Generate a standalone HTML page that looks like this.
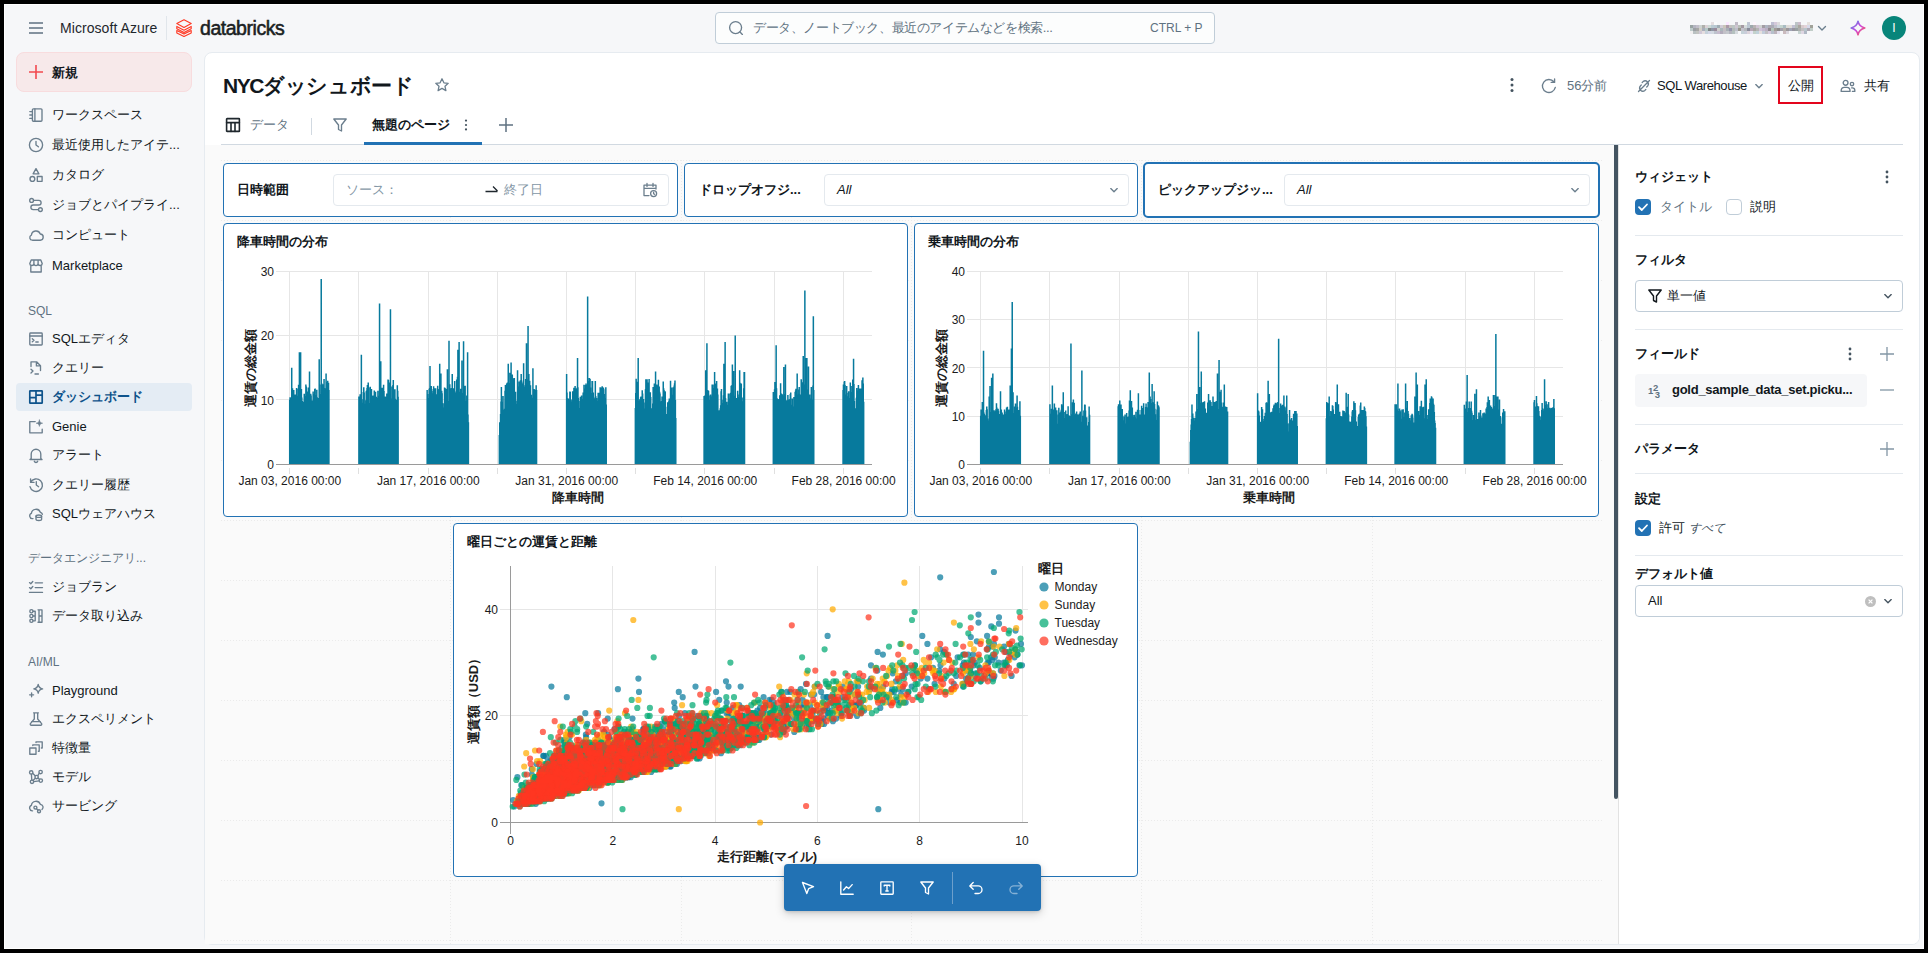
<!DOCTYPE html>
<html lang="ja">
<head>
<meta charset="utf-8">
<title>NYCダッシュボード - Databricks</title>
<style>
*{box-sizing:border-box;margin:0;padding:0}
html,body{width:1928px;height:953px;overflow:hidden;background:#000}
body{font-family:"Liberation Sans",sans-serif;font-size:13px;color:#11171c;position:relative}
#r{position:absolute;left:0;top:0;width:1928px;height:953px;overflow:hidden;background:#000}
.a{position:absolute}
.bg{left:4px;top:4px;width:1920px;height:945px;background:#f6f7f9;box-shadow:inset 0 0 0 1px #fff}
svg{display:block;overflow:visible}
.ic{position:absolute;width:16px;height:16px;fill:none;stroke:#6b7e8d;stroke-width:1.35;stroke-linecap:round;stroke-linejoin:round}
.t{position:absolute;white-space:nowrap;line-height:20px;height:20px}
.nav{font-size:13px;color:#11171c;left:52px}
.sec{font-size:12px;color:#5f7281;left:28px}
.g{color:#5f7281}
.b{font-weight:bold}
/* main */
.main{left:204px;top:52px;width:1716px;height:893px;background:#fff;border:1px solid #e6ebf0;border-radius:8px;overflow:hidden}
.canvas{left:205px;top:145px;width:1413px;height:799px;background:#fafafa}
.gridh{position:absolute;left:221px;width:1381px;height:1px;background-image:linear-gradient(90deg,#ebebeb 1px,transparent 1px);background-size:3px 1px}
.gridv{position:absolute;top:160px;width:1px;height:784px;background-image:linear-gradient(180deg,#ebebeb 1px,transparent 1px);background-size:1px 3px}
.w{position:absolute;background:#fff;border:1px solid #2272b4;border-radius:4px}
.wl{position:absolute;font-weight:bold;font-size:13px;line-height:20px;white-space:nowrap;color:#11171c}
.inp{position:absolute;border:1px solid #e4e9ee;border-radius:4px;background:#fff}
.tk{font-family:"Liberation Sans",sans-serif;font-size:12px;fill:#1b1b1b}
.ax{font-family:"Liberation Sans",sans-serif;font-size:13px;font-weight:bold;fill:#1b1b1b}
.hr{position:absolute;left:1635px;width:268px;height:1px;background:#e4e9ee}
.h{position:absolute;left:1635px;font-weight:bold;font-size:13px;line-height:20px;white-space:nowrap}
.cb{position:absolute;width:16px;height:16px;border-radius:4px}
.cb.on{background:#2272b4}
.cb.off{background:#fff;border:1px solid #c0cdd8}
.sel{position:absolute;left:1635px;width:268px;height:32px;border:1px solid #c0cdd8;border-radius:4px;background:#fff}
</style>
</head>
<body>
<div id="r">
<div class="a bg"></div>
<!-- top bar -->
<svg class="a" style="left:29px;top:22px" width="14" height="12"><path d="M0 1h14M0 6h14M0 11h14" stroke="#5f7281" stroke-width="1.6" fill="none"/></svg>
<div class="t" style="left:60px;top:18px;font-size:14px;letter-spacing:.06px;color:#1f272d">Microsoft Azure</div>
<div class="a" style="left:166px;top:16px;width:1px;height:24px;background:#e1e6eb"></div>
<svg class="a" style="left:176px;top:19px" width="16" height="18" viewBox="0 0 16 18"><path d="M.8 4.6L8 .8l7.2 3.8L8 8.4zM.8 7.4v2.4L8 13.6l7.2-3.8V7.4L8 11.2zM.8 11.6V14L8 17.4l7.2-3.4v-2.4L8 15z" fill="none" stroke="#ff3621" stroke-width="1.1" stroke-linejoin="round"/></svg>
<div class="t" id="dbx" style="left:200px;top:17px;font-size:19.5px;font-weight:normal;-webkit-text-stroke:.55px #1b1f23;letter-spacing:-.46px;color:#1b1f23;line-height:22px">databricks</div>
<div class="a" style="left:715px;top:12px;width:500px;height:32px;border:1px solid #c0cdd8;border-radius:4px;background:#fcfdfd"></div>
<svg class="ic" style="left:728px;top:20px" viewBox="0 0 16 16"><circle cx="7.6" cy="7.6" r="6"/><path d="M12 12l2.4 2.4"/></svg>
<div class="t g" style="left:753px;top:18px;font-size:13px;letter-spacing:-.4px">データ、ノートブック、最近のアイテムなどを検索...</div>
<div class="t g" style="left:1150px;top:18px;font-size:12px">CTRL + P</div>
<svg class="a" style="left:1690px;top:22px" width="123" height="12" shape-rendering="crispEdges"><rect x="21" y="0" width="3" height="3" fill="#e4dee0"/><rect x="24" y="0" width="3" height="3" fill="#fafcfc"/><rect x="36" y="0" width="3" height="3" fill="#fae7ff"/><rect x="45" y="0" width="3" height="3" fill="#c0bbc6"/><rect x="54" y="0" width="3" height="3" fill="#f4faf3"/><rect x="57" y="0" width="3" height="3" fill="#bfc6d4"/><rect x="63" y="0" width="3" height="3" fill="#fff6fd"/><rect x="81" y="0" width="3" height="3" fill="#bdbed2"/><rect x="84" y="0" width="3" height="3" fill="#d5c9da"/><rect x="87" y="0" width="3" height="3" fill="#dddbdd"/><rect x="105" y="0" width="3" height="3" fill="#bdc5c8"/><rect x="108" y="0" width="3" height="3" fill="#cabcca"/><rect x="117" y="0" width="3" height="3" fill="#e5e0dd"/><rect x="0" y="3" width="3" height="3" fill="#99a4a3"/><rect x="3" y="3" width="3" height="3" fill="#b4b5c1"/><rect x="6" y="3" width="3" height="3" fill="#c2bfca"/><rect x="9" y="3" width="3" height="3" fill="#cdd3d2"/><rect x="12" y="3" width="3" height="3" fill="#afb0ab"/><rect x="15" y="3" width="3" height="3" fill="#dad1d6"/><rect x="18" y="3" width="3" height="3" fill="#cedad6"/><rect x="21" y="3" width="3" height="3" fill="#bacbd3"/><rect x="24" y="3" width="3" height="3" fill="#b7c7d1"/><rect x="27" y="3" width="3" height="3" fill="#a1aeb5"/><rect x="30" y="3" width="3" height="3" fill="#d1cbd6"/><rect x="33" y="3" width="3" height="3" fill="#c9c5b9"/><rect x="36" y="3" width="3" height="3" fill="#ab9aa8"/><rect x="39" y="3" width="3" height="3" fill="#c3c1bf"/><rect x="42" y="3" width="3" height="3" fill="#bcc6c3"/><rect x="45" y="3" width="3" height="3" fill="#cfc6d1"/><rect x="48" y="3" width="3" height="3" fill="#b9c0ba"/><rect x="51" y="3" width="3" height="3" fill="#a49aa2"/><rect x="54" y="3" width="3" height="3" fill="#d6dbdd"/><rect x="57" y="3" width="3" height="3" fill="#bdc9d3"/><rect x="60" y="3" width="3" height="3" fill="#9ea9ac"/><rect x="63" y="3" width="3" height="3" fill="#b9b4b4"/><rect x="66" y="3" width="3" height="3" fill="#d1c4d3"/><rect x="69" y="3" width="3" height="3" fill="#d0d3d2"/><rect x="72" y="3" width="3" height="3" fill="#a39da4"/><rect x="75" y="3" width="3" height="3" fill="#aeb4c1"/><rect x="78" y="3" width="3" height="3" fill="#aca8b2"/><rect x="81" y="3" width="3" height="3" fill="#acacb6"/><rect x="84" y="3" width="3" height="3" fill="#bfc0cc"/><rect x="87" y="3" width="3" height="3" fill="#cdd5dd"/><rect x="90" y="3" width="3" height="3" fill="#c4d4ce"/><rect x="93" y="3" width="3" height="3" fill="#a8bbc2"/><rect x="96" y="3" width="3" height="3" fill="#dddbd8"/><rect x="99" y="3" width="3" height="3" fill="#e1ddd9"/><rect x="102" y="3" width="3" height="3" fill="#c1c0d3"/><rect x="105" y="3" width="3" height="3" fill="#b6bebb"/><rect x="108" y="3" width="3" height="3" fill="#a9a7a0"/><rect x="111" y="3" width="3" height="3" fill="#d8cbcd"/><rect x="114" y="3" width="3" height="3" fill="#e3d3d8"/><rect x="117" y="3" width="3" height="3" fill="#d8daeb"/><rect x="120" y="3" width="3" height="3" fill="#a1a299"/><rect x="0" y="6" width="3" height="3" fill="#becccb"/><rect x="3" y="6" width="3" height="3" fill="#9ca0a5"/><rect x="6" y="6" width="3" height="3" fill="#a6a6a5"/><rect x="9" y="6" width="3" height="3" fill="#d2cec6"/><rect x="12" y="6" width="3" height="3" fill="#a9aebc"/><rect x="15" y="6" width="3" height="3" fill="#b7c9c7"/><rect x="18" y="6" width="3" height="3" fill="#818888"/><rect x="21" y="6" width="3" height="3" fill="#9095a5"/><rect x="24" y="6" width="3" height="3" fill="#9a8a9b"/><rect x="27" y="6" width="3" height="3" fill="#cfcecc"/><rect x="30" y="6" width="3" height="3" fill="#aab7bb"/><rect x="33" y="6" width="3" height="3" fill="#c3bec3"/><rect x="36" y="6" width="3" height="3" fill="#a7afb5"/><rect x="39" y="6" width="3" height="3" fill="#9393ac"/><rect x="42" y="6" width="3" height="3" fill="#b2b9b8"/><rect x="45" y="6" width="3" height="3" fill="#bdbfca"/><rect x="48" y="6" width="3" height="3" fill="#98968d"/><rect x="51" y="6" width="3" height="3" fill="#c3c2cc"/><rect x="54" y="6" width="3" height="3" fill="#b5b9bd"/><rect x="57" y="6" width="3" height="3" fill="#898c9a"/><rect x="60" y="6" width="3" height="3" fill="#b8a8b6"/><rect x="63" y="6" width="3" height="3" fill="#a9a4a3"/><rect x="66" y="6" width="3" height="3" fill="#b4b5b3"/><rect x="69" y="6" width="3" height="3" fill="#d1c2d9"/><rect x="72" y="6" width="3" height="3" fill="#c5b7ce"/><rect x="75" y="6" width="3" height="3" fill="#baafc1"/><rect x="78" y="6" width="3" height="3" fill="#8f888e"/><rect x="81" y="6" width="3" height="3" fill="#b2c5ba"/><rect x="84" y="6" width="3" height="3" fill="#a19c98"/><rect x="87" y="6" width="3" height="3" fill="#8d8a8a"/><rect x="90" y="6" width="3" height="3" fill="#a3a1ab"/><rect x="93" y="6" width="3" height="3" fill="#b6b1ad"/><rect x="96" y="6" width="3" height="3" fill="#9c989b"/><rect x="99" y="6" width="3" height="3" fill="#a1a5b6"/><rect x="102" y="6" width="3" height="3" fill="#9895a0"/><rect x="105" y="6" width="3" height="3" fill="#99a2a3"/><rect x="108" y="6" width="3" height="3" fill="#adafae"/><rect x="111" y="6" width="3" height="3" fill="#c2bfc1"/><rect x="114" y="6" width="3" height="3" fill="#b7c5cc"/><rect x="117" y="6" width="3" height="3" fill="#aba7b2"/><rect x="120" y="6" width="3" height="3" fill="#c1cdc8"/><rect x="0" y="9" width="3" height="3" fill="#f1eff0"/><rect x="3" y="9" width="3" height="3" fill="#b9c1c2"/><rect x="6" y="9" width="3" height="3" fill="#c2c4c1"/><rect x="9" y="9" width="3" height="3" fill="#d1c8d7"/><rect x="12" y="9" width="3" height="3" fill="#e5dedf"/><rect x="15" y="9" width="3" height="3" fill="#c5d1db"/><rect x="18" y="9" width="3" height="3" fill="#d4d7e7"/><rect x="21" y="9" width="3" height="3" fill="#d3dae2"/><rect x="24" y="9" width="3" height="3" fill="#bdc3cd"/><rect x="27" y="9" width="3" height="3" fill="#c6bcce"/><rect x="30" y="9" width="3" height="3" fill="#b3acbc"/><rect x="33" y="9" width="3" height="3" fill="#c2c1c8"/><rect x="36" y="9" width="3" height="3" fill="#c5c8cd"/><rect x="39" y="9" width="3" height="3" fill="#b4b4be"/><rect x="42" y="9" width="3" height="3" fill="#b4c1bf"/><rect x="45" y="9" width="3" height="3" fill="#d6dade"/><rect x="51" y="9" width="3" height="3" fill="#c4d2d8"/><rect x="54" y="9" width="3" height="3" fill="#c9cdda"/><rect x="57" y="9" width="3" height="3" fill="#ddd4db"/><rect x="60" y="9" width="3" height="3" fill="#e8e4f4"/><rect x="63" y="9" width="3" height="3" fill="#c3d2cb"/><rect x="66" y="9" width="3" height="3" fill="#c1d2db"/><rect x="69" y="9" width="3" height="3" fill="#e5dfdd"/><rect x="72" y="9" width="3" height="3" fill="#c2cddb"/><rect x="75" y="9" width="3" height="3" fill="#c1bfc3"/><rect x="78" y="9" width="3" height="3" fill="#d8ccde"/><rect x="81" y="9" width="3" height="3" fill="#b6c0cc"/><rect x="84" y="9" width="3" height="3" fill="#bcb3bc"/><rect x="87" y="9" width="3" height="3" fill="#e4e0ee"/><rect x="93" y="9" width="3" height="3" fill="#cababe"/><rect x="96" y="9" width="3" height="3" fill="#dbd7df"/><rect x="108" y="9" width="3" height="3" fill="#c7d4d2"/><rect x="111" y="9" width="3" height="3" fill="#dfd7e3"/><rect x="114" y="9" width="3" height="3" fill="#b0b8c5"/></svg>
<svg class="ic" style="left:1814px;top:20px" viewBox="0 0 16 16"><path d="M4.5 6.5L8 10l3.5-3.5"/></svg>
<svg class="a" style="left:1850px;top:20px" width="16" height="16" viewBox="0 0 16 16"><defs><linearGradient id="sp" x1="0" y1="0" x2="1" y2="1"><stop offset="0" stop-color="#4299e0"/><stop offset=".5" stop-color="#ca42e0"/><stop offset="1" stop-color="#ff5f46"/></linearGradient></defs><path d="M8 1.2c.6 3.6 2.2 5.600000000000001 6.800000000000001 6.800000000000001-4.600000000000001 1.2-6.2 3.2-6.800000000000001 6.800000000000001C7.4 11.200000000000001 5.8 9.200000000000001 1.2 8 5.8 6.800000000000001 7.4 4.800000000000001 8 1.2z" fill="none" stroke="url(#sp)" stroke-width="1.6" stroke-linejoin="round"/></svg>
<div class="a" style="left:1882px;top:16px;width:24px;height:24px;border-radius:12px;background:#08857a;color:#fff;font-size:12px;line-height:24px;text-align:center">I</div>

<!-- sidebar -->
<div class="a" style="left:16px;top:52px;width:176px;height:40px;border-radius:8px;background:#f7e9ea;border:1px solid #f8dcde"></div>
<svg class="a" style="left:28px;top:64px" width="16" height="16" viewBox="0 0 16 16"><path d="M8 1v14M1 8h14" stroke="#f2494f" stroke-width="1.6" fill="none"/></svg>
<div class="t b" style="left:52px;top:62.5px;font-size:13px">新規</div>

<svg class="ic" style="left:28px;top:107px" viewBox="0 0 16 16"><rect x="4.4" y="1.8" width="9.6" height="12.4" rx="1"/><path d="M6.9 1.8v12.4M1.8 4.6h2.6M1.8 8h2.6M1.8 11.4h2.6"/></svg>
<div class="t nav" style="top:105px">ワークスペース</div>
<svg class="ic" style="left:28px;top:137px" viewBox="0 0 16 16"><circle cx="8" cy="8" r="6.6"/><path d="M8 4.3V8l2.4 1.8"/></svg>
<div class="t nav" style="top:135px">最近使用したアイテ...</div>
<svg class="ic" style="left:28px;top:167px" viewBox="0 0 16 16"><path d="M8 1.6l2.9 5.2H5.1z"/><circle cx="4.4" cy="11.9" r="2.4"/><rect x="9.3" y="9.5" width="4.8" height="4.8"/></svg>
<div class="t nav" style="top:165px">カタログ</div>
<svg class="ic" style="left:28px;top:197px" viewBox="0 0 16 16"><circle cx="3.6" cy="3.4" r="1.9"/><circle cx="12.4" cy="12.6" r="1.9"/><path d="M5.5 3.4h5.3a2.3 2.3 0 0 1 0 4.600000000000001H5.2a2.3 2.3 0 0 0 0 4.600000000000001h5.3"/></svg>
<div class="t nav" style="top:195px">ジョブとパイプライ...</div>
<svg class="ic" style="left:28px;top:227px" viewBox="0 0 16 16"><path d="M4.3 13.2h7.6a3.1 3.1 0 0 0 .4-6.2A4.6 4.6 0 0 0 3.400000000000001 8.2a2.6 2.6 0 0 0 .9 5z"/></svg>
<div class="t nav" style="top:225px">コンピュート</div>
<svg class="ic" style="left:28px;top:258px" viewBox="0 0 16 16"><path d="M2.8 8.4v5.6h10.4V8.4M3.2 2h9.6l1.4 3.6a2.07 2.07 0 0 1-4.13 0 2.07 2.07 0 0 1-4.14 0 2.07 2.07 0 0 1-4.13 0zM5.9 2v3.6M10.1 2v3.6"/></svg>
<div class="t nav" style="top:256px">Marketplace</div>

<div class="t sec" style="top:301px">SQL</div>
<svg class="ic" style="left:28px;top:331px" viewBox="0 0 16 16"><rect x="1.8" y="2" width="12.4" height="12" rx=".8"/><path d="M1.8 5h12.4M4.3 7.800000000000001l1.7 1.5-1.7 1.5M7.800000000000001 11h2.4"/></svg>
<div class="t nav" style="top:329px">SQLエディタ</div>
<svg class="ic" style="left:28px;top:360px" viewBox="0 0 16 16"><path d="M3 6.5V1.8h5.6l3.9 3.9v4.8M8.4 1.8v4.1h4.1M3 9.2l2 1.9-2 1.9M7 14h3.4"/></svg>
<div class="t nav" style="top:358px">クエリー</div>
<div class="a" style="left:16px;top:383px;width:176px;height:28px;border-radius:4px;background:#e4ecf4"></div>
<svg class="ic" style="left:28px;top:389px;stroke:#0e538b;stroke-width:1.7" viewBox="0 0 16 16"><rect x="1.8" y="1.8" width="12.4" height="12.4" rx=".5"/><path d="M8 1.8v12.4M1.8 8.6H8M8 6.2h6.2"/></svg>
<div class="t nav b" style="top:387px;color:#0e538b">ダッシュボード</div>
<svg class="ic" style="left:28px;top:419px" viewBox="0 0 16 16"><path d="M7.2 2.6H1.8v11.2h12.4V10.2"/><path d="M11.4 1c.35 2.1 1 2.85 3.2 3.2-2.2.35-2.85 1.100000000000001-3.2 3.2-.35-2.1-1-2.85-3.2-3.2 2.2-.35 2.85-1.100000000000001 3.2-3.2z" fill="#6b7e8d" stroke-width=".6"/></svg>
<div class="t nav" style="top:417px">Genie</div>
<svg class="ic" style="left:28px;top:447px" viewBox="0 0 16 16"><path d="M3.2 11.5V7a4.8 4.8 0 0 1 9.600000000000001 0v4.5l1.2 1H2zM6.3 14.3a1.8 1.8 0 0 0 3.4 0"/></svg>
<div class="t nav" style="top:445px">アラート</div>
<svg class="ic" style="left:28px;top:477px" viewBox="0 0 16 16"><path d="M2.6 5.2A6.3 6.3 0 1 1 2 9.6M2.6 2v3.4H6M8.3 4.6V8l2.3 1.7"/></svg>
<div class="t nav" style="top:475px">クエリー履歴</div>
<svg class="ic" style="left:28px;top:506px" viewBox="0 0 16 16"><path d="M5 12.6H4.300000000000001A2.7 2.7 0 0 1 3.400000000000001 7.4 4.6 4.6 0 0 1 12.3 6.300000000000001a3 3 0 0 1 2.1 2"/><ellipse cx="10.8" cy="10.2" rx="2.8" ry="1.2"/><path d="M8 10.2v3.1c0 .7 1.3 1.2 2.8 1.2s2.8-.5 2.8-1.2v-3.1"/></svg>
<div class="t nav" style="top:504px">SQLウェアハウス</div>

<div class="t sec" style="top:548px">データエンジニアリ...</div>
<svg class="ic" style="left:28px;top:579px" viewBox="0 0 16 16"><path d="M1.5 3.6l1.3 1.2 2-2.3M1.5 8.6l1.3 1.2 2-2.3M7.2 3.8h7.300000000000001M7.2 8.6h7.300000000000001M1.5 13.4h13"/></svg>
<div class="t nav" style="top:577px">ジョブラン</div>
<svg class="ic" style="left:28px;top:608px" viewBox="0 0 16 16"><circle cx="3.4" cy="3.2" r="1.6"/><circle cx="3.4" cy="8" r="1.6"/><circle cx="3.4" cy="12.8" r="1.6"/><path d="M5 3.2h2.2v9.600000000000001H5M5 8h2.2M10 1.8h4v12.4h-4M11 1.8v12.4M11 8h3"/></svg>
<div class="t nav" style="top:606px">データ取り込み</div>

<div class="t sec" style="top:652px">AI/ML</div>
<svg class="ic" style="left:28px;top:683px" viewBox="0 0 16 16"><path d="M10.2 1.4c.4 2.6 1.3 3.9 4.4 4.4-3.1.5-4 1.8-4.4 4.4-.4-2.6-1.3-3.9-4.4-4.4 3.1-.5 4-1.8 4.4-4.4zM3.6 9.8v4M1.6 11.8h4"/></svg>
<div class="t nav" style="top:681px">Playground</div>
<svg class="ic" style="left:28px;top:711px" viewBox="0 0 16 16"><path d="M5.6 1.8h4.8M6.300000000000001 1.8v6.2L2.4 12.600000000000001c-.4 .8 0 1.6.9 1.6h9.4c.9 0 1.3-.8.9-1.6L9.700000000000001 8V1.8M3.6 10.6h8.8"/></svg>
<div class="t nav" style="top:709px">エクスペリメント</div>
<svg class="ic" style="left:28px;top:740px" viewBox="0 0 16 16"><rect x="1.8" y="8" width="6.2" height="6.2"/><path d="M4.8 5.6V4.8h6.4v6.4h-.8M8 2.600000000000001V1.8h6.2V8h-.8"/></svg>
<div class="t nav" style="top:738px">特徴量</div>
<svg class="ic" style="left:28px;top:769px" viewBox="0 0 16 16"><circle cx="3.2" cy="3.4" r="1.7"/><circle cx="12.6" cy="3" r="1.7"/><circle cx="8.6" cy="8" r="1.7"/><circle cx="12.8" cy="11.6" r="1.7"/><circle cx="4" cy="12.8" r="1.7"/><path d="M4.6 4.2l2.6 2.6M11.3 4.2L9.8 6.6M10 9l1.6 1.6M7.300000000000001 9.2L5 11.5M3.4 5.1l.4 6M5.7 12.600000000000001l5.4-.8"/></svg>
<div class="t nav" style="top:767px">モデル</div>
<svg class="ic" style="left:28px;top:798px" viewBox="0 0 16 16"><path d="M4.6 12.8h-.4A2.8 2.8 0 0 1 3.400000000000001 7.4 4.6 4.6 0 0 1 12.3 6.300000000000001a3 3 0 0 1 1.7 5.300000000000001"/><circle cx="7.4" cy="9.6" r="1.5"/><circle cx="11" cy="13.2" r="1.5"/><path d="M8.5 10.7l1.4 1.4"/></svg>
<div class="t nav" style="top:796px">サービング</div>
<!-- main panel -->
<div class="a main"></div>
<div class="t" id="ttl" style="left:223px;top:72px;font-size:21px;line-height:28px;height:28px;font-weight:bold;color:#11171c"><span style="letter-spacing:-1.4px">NYC</span><span style="letter-spacing:-.4px">ダッシュボード</span></div>
<svg class="ic" style="left:434px;top:77px" viewBox="0 0 16 16"><path d="M8 1.8l1.9 4 4.3.5-3.2 3 .9 4.3L8 11.4l-3.9 2.200000000000001.9-4.3-3.2-3 4.3-.5z" stroke-width="1.3"/></svg>
<!-- header right -->
<svg class="a" style="left:1510px;top:77px" width="4" height="16"><circle cx="2" cy="2.500000000000001" r="1.5" fill="#44535f"/><circle cx="2" cy="8" r="1.5" fill="#44535f"/><circle cx="2" cy="13.5" r="1.5" fill="#44535f"/></svg>
<svg class="ic" style="left:1541px;top:78px" viewBox="0 0 16 16"><path d="M14.3 9.4A6.5 6.5 0 1 1 12.9 3.8M13.6 1v3.4h-3.4"/></svg>
<div class="t g" style="left:1567px;top:76px">56分前</div>
<svg class="ic" style="left:1636px;top:78px;stroke-width:1.3" viewBox="0 0 16 16"><path d="M6.2 4.5l.9-.9a3.2 3.2 0 0 1 4.5 4.5l-.9.9M9.8 11.5l-.9.9a3.2 3.2 0 0 1-4.5-4.5l.9-.9M2.5 13.5l11-11"/></svg>
<div class="t" style="left:1657px;top:76px;letter-spacing:-.4px;color:#11171c">SQL Warehouse</div>
<svg class="ic" style="left:1751px;top:78px" viewBox="0 0 16 16"><path d="M4.8 6.6L8 9.8l3.2-3.2"/></svg>
<div class="a" style="left:1778px;top:66px;width:45px;height:38px;border:2px solid #e3051d"></div>
<div class="t" style="left:1788px;top:76px">公開</div>
<svg class="ic" style="left:1840px;top:78px" viewBox="0 0 16 16"><circle cx="5.6" cy="4.8" r="2.4"/><path d="M1.2 13.4v-.8a3.2 3.2 0 0 1 3.2-3.2h2.4a3.2 3.2 0 0 1 3.2 3.2v.8z"/><circle cx="12" cy="6" r="1.7"/><path d="M11.6 9.8h.8a2.400000000000001 2.400000000000001 0 0 1 2.400000000000001 2.400000000000001v1.2h-2.400000000000001"/></svg>
<div class="t" style="left:1864px;top:76px">共有</div>
<!-- tabs -->
<svg class="ic" style="left:225px;top:117px;stroke:#1f272d;stroke-width:1.6" viewBox="0 0 16 16"><rect x="1.6" y="1.6" width="12.8" height="12.8" rx=".5"/><path d="M1.6 5.6h12.8M6 5.6v8.8M10 5.6v8.8"/></svg>
<div class="t g" style="left:250px;top:115px">データ</div>
<div class="a" style="left:311px;top:118px;width:1px;height:17px;background:#d1d9e1"></div>
<svg class="ic" style="left:332px;top:117px" viewBox="0 0 16 16"><path d="M1.8 2h12.4L9.5 8v6l-3-1.5V8z"/></svg>
<div class="t b" style="left:372px;top:115px">無題のページ</div>
<svg class="a" style="left:464px;top:119px" width="4" height="12"><circle cx="2" cy="1.6" r="1.1" fill="#44535f"/><circle cx="2" cy="6" r="1.1" fill="#44535f"/><circle cx="2" cy="10.4" r="1.1" fill="#44535f"/></svg>
<svg class="a" style="left:498px;top:117px" width="16" height="16"><path d="M8 1v14M1 8h14" stroke="#5f7281" stroke-width="1.5" fill="none"/></svg>
<div class="a" style="left:221px;top:144px;width:1682px;height:1px;background:#d1d9e1"></div>
<div class="a" style="left:364px;top:142px;width:118px;height:3px;background:#2272b4"></div>
<!-- canvas -->
<div class="a canvas"></div>
<div class="a" style="left:1614px;top:145px;width:4px;height:654px;background:#445461;border-radius:0 0 2px 2px"></div>
<div class="a" style="left:1618px;top:145px;width:301px;height:799px;background:#fff;border-left:1px solid #e2e2e2;border-radius:0 0 7px 0"></div>
<div class="gridh" style="top:160px"></div>
<div class="gridh" style="top:220px"></div>
<div class="gridh" style="top:280px"></div>
<div class="gridh" style="top:340px"></div>
<div class="gridh" style="top:400px"></div>
<div class="gridh" style="top:460px"></div>
<div class="gridh" style="top:520px"></div>
<div class="gridh" style="top:580px"></div>
<div class="gridh" style="top:640px"></div>
<div class="gridh" style="top:700px"></div>
<div class="gridh" style="top:760px"></div>
<div class="gridh" style="top:820px"></div>
<div class="gridh" style="top:880px"></div>
<div class="gridh" style="top:940px"></div>
<div class="gridv" style="left:450px"></div>
<div class="gridv" style="left:681px"></div>
<div class="gridv" style="left:911px"></div>
<div class="gridv" style="left:1141px"></div>
<div class="gridv" style="left:1372px"></div>
<!-- filter widgets -->
<div class="w" style="left:223px;top:163px;width:455px;height:54px"></div>
<div class="wl" style="left:237px;top:180px">日時範囲</div>
<div class="inp" style="left:333px;top:174px;width:336px;height:32px"></div>
<div class="t g" style="left:346px;top:180px;color:#8396a5">ソース：</div>
<svg class="a" style="left:485px;top:185px" width="13" height="8"><path d="M.5 6.5h12M8 1.5l4.500000000000001 4.500000000000001" stroke="#1f272d" stroke-width="1.3" fill="none"/></svg>
<div class="t" style="left:504px;top:180px;color:#8396a5">終了日</div>
<svg class="ic" style="left:642px;top:182px;stroke-width:1.3" viewBox="0 0 16 16"><path d="M14 7V3.2H2v10.4h5M2 6.300000000000001h12M5 1.4v3M11 1.4v3"/><circle cx="11.6" cy="11.6" r="3"/><path d="M11.6 10.2v1.5l.9.6"/></svg>
<div class="w" style="left:684px;top:163px;width:454px;height:54px"></div>
<div class="wl" style="left:699px;top:180px">ドロップオフジ...</div>
<div class="inp" style="left:824px;top:174px;width:305px;height:32px"></div>
<div class="t" style="left:837px;top:180px;font-style:italic">All</div>
<svg class="ic" style="left:1106px;top:182px" viewBox="0 0 16 16"><path d="M4.8 6.6L8 9.8l3.2-3.2"/></svg>
<div class="w" style="left:1143px;top:162px;width:457px;height:56px;border-width:2px;border-radius:5px"></div>
<div class="wl" style="left:1158px;top:180px">ピックアップジッ...</div>
<div class="inp" style="left:1284px;top:174px;width:306px;height:32px"></div>
<div class="t" style="left:1297px;top:180px;font-style:italic">All</div>
<svg class="ic" style="left:1567px;top:182px" viewBox="0 0 16 16"><path d="M4.8 6.6L8 9.8l3.2-3.2"/></svg>
<!-- chart widgets -->
<div class="w" style="left:223px;top:223px;width:685px;height:294px"></div>
<div class="wl" style="left:237px;top:232px">降車時間の分布</div>
<svg class="a" style="left:223px;top:223px" width="685" height="294">
<path d="M66 48h1v193h-1zM135 48h1v193h-1zM205 48h1v193h-1zM274 48h1v193h-1zM343 48h1v193h-1zM412 48h1v193h-1zM481 48h1v193h-1zM551 48h1v193h-1zM620 48h1v193h-1zM53 176h596v1h-596zM53 112h596v1h-596zM53 48h596v1h-596z" fill="#e6e6e6"/>
<path d="M66.70 241.0V176.8M67.10 241.0V174.3M67.51 241.0V174.7M67.91 241.0V185.7M68.32 241.0V177.9M68.72 241.0V144.7M69.13 241.0V170.5M69.53 241.0V165.3M69.93 241.0V183.0M70.34 241.0V186.0M70.74 241.0V167.1M71.15 241.0V178.5M71.55 241.0V171.5M71.96 241.0V190.5M72.36 241.0V178.9M72.76 241.0V171.6M73.17 241.0V183.5M73.57 241.0V165.1M73.98 241.0V165.8M74.38 241.0V187.1M74.79 241.0V186.6M75.19 241.0V172.7M75.59 241.0V161.7M76.00 241.0V174.7M76.40 241.0V129.2M76.81 241.0V171.7M77.21 241.0V180.6M77.62 241.0V129.2M78.02 241.0V168.3M78.42 241.0V165.9M78.83 241.0V174.6M79.23 241.0V178.0M79.64 241.0V181.6M80.04 241.0V178.8M80.44 241.0V186.4M80.85 241.0V192.4M81.25 241.0V170.7M81.66 241.0V176.4M82.06 241.0V172.9M82.47 241.0V183.1M82.87 241.0V161.5M83.27 241.0V163.5M83.68 241.0V181.9M84.08 241.0V177.4M84.49 241.0V168.4M84.89 241.0V169.5M85.30 241.0V164.6M85.70 241.0V178.3M86.10 241.0V168.8M86.51 241.0V148.5M86.91 241.0V183.6M87.32 241.0V177.3M87.72 241.0V170.7M88.13 241.0V172.4M88.53 241.0V181.0M88.93 241.0V177.6M89.34 241.0V190.2M89.74 241.0V183.6M90.15 241.0V168.4M90.55 241.0V176.8M90.96 241.0V181.6M91.36 241.0V171.0M91.76 241.0V166.0M92.17 241.0V165.5M92.57 241.0V173.2M92.98 241.0V172.8M93.38 241.0V172.2M93.79 241.0V166.7M94.19 241.0V174.3M94.59 241.0V177.6M95.00 241.0V175.0M95.40 241.0V186.2M95.81 241.0V185.6M96.21 241.0V136.3M96.62 241.0V161.6M97.02 241.0V171.1M97.42 241.0V175.8M97.83 241.0V181.1M98.23 241.0V56.0M98.64 241.0V160.3M99.04 241.0V165.3M99.45 241.0V170.4M99.85 241.0V161.3M100.25 241.0V176.0M100.66 241.0V167.9M101.06 241.0V155.9M101.47 241.0V164.9M101.87 241.0V167.9M102.27 241.0V172.8M102.68 241.0V165.8M103.08 241.0V150.4M103.49 241.0V179.6M103.89 241.0V160.1M104.30 241.0V159.3M104.70 241.0V157.7M105.10 241.0V161.4M105.51 241.0V159.7M105.91 241.0V167.0M135.93 241.0V173.6M136.33 241.0V183.1M136.74 241.0V192.0M137.14 241.0V171.3M137.55 241.0V178.5M137.95 241.0V187.5M138.36 241.0V131.8M138.76 241.0V179.7M139.16 241.0V182.5M139.57 241.0V182.5M139.97 241.0V176.2M140.38 241.0V169.1M140.78 241.0V164.3M141.19 241.0V169.4M141.59 241.0V183.0M141.99 241.0V180.7M142.40 241.0V184.8M142.80 241.0V177.3M143.21 241.0V168.3M143.61 241.0V167.4M144.02 241.0V164.9M144.42 241.0V161.9M144.82 241.0V173.6M145.23 241.0V159.6M145.63 241.0V164.5M146.04 241.0V179.9M146.44 241.0V182.2M146.85 241.0V182.8M147.25 241.0V163.8M147.65 241.0V176.1M148.06 241.0V179.2M148.46 241.0V165.9M148.87 241.0V173.0M149.27 241.0V181.2M149.67 241.0V180.3M150.08 241.0V172.4M150.48 241.0V182.7M150.89 241.0V180.2M151.29 241.0V167.6M151.70 241.0V172.5M152.10 241.0V174.2M152.50 241.0V168.8M152.91 241.0V180.6M153.31 241.0V173.7M153.72 241.0V175.1M154.12 241.0V183.2M154.53 241.0V187.4M154.93 241.0V167.8M155.33 241.0V176.8M155.74 241.0V183.6M156.14 241.0V172.8M156.55 241.0V80.4M156.95 241.0V185.9M157.36 241.0V185.2M157.76 241.0V138.2M158.16 241.0V166.0M158.57 241.0V179.3M158.97 241.0V164.8M159.38 241.0V164.7M159.78 241.0V168.5M160.19 241.0V178.6M160.59 241.0V161.7M160.99 241.0V168.1M161.40 241.0V177.1M161.80 241.0V184.9M162.21 241.0V173.6M162.61 241.0V179.3M163.02 241.0V174.1M163.42 241.0V179.8M163.82 241.0V170.6M164.23 241.0V183.1M164.63 241.0V175.2M165.04 241.0V156.6M165.44 241.0V157.1M165.85 241.0V172.0M166.25 241.0V159.4M166.65 241.0V174.4M167.06 241.0V159.9M167.46 241.0V86.2M167.87 241.0V175.4M168.27 241.0V180.8M168.68 241.0V186.7M169.08 241.0V163.5M169.48 241.0V183.1M169.89 241.0V162.1M170.29 241.0V157.0M170.70 241.0V168.1M171.10 241.0V180.8M171.50 241.0V166.2M171.91 241.0V166.3M172.31 241.0V175.8M172.72 241.0V179.0M173.12 241.0V179.1M173.53 241.0V176.7M173.93 241.0V177.1M174.33 241.0V162.2M174.74 241.0V167.8M175.14 241.0V173.8M204.17 241.0V167.1M204.58 241.0V171.0M204.98 241.0V180.3M205.39 241.0V175.2M205.79 241.0V179.5M206.20 241.0V165.9M206.60 241.0V165.1M207.00 241.0V143.0M207.41 241.0V182.7M207.81 241.0V179.5M208.22 241.0V163.0M208.62 241.0V168.1M209.03 241.0V179.2M209.43 241.0V182.1M209.83 241.0V170.3M210.24 241.0V166.0M210.64 241.0V163.3M211.05 241.0V177.8M211.45 241.0V165.2M211.85 241.0V171.0M212.26 241.0V177.0M212.66 241.0V165.3M213.07 241.0V185.0M213.47 241.0V171.3M213.88 241.0V186.1M214.28 241.0V182.6M214.68 241.0V162.7M215.09 241.0V179.3M215.49 241.0V166.4M215.90 241.0V171.2M216.30 241.0V165.9M216.71 241.0V140.8M217.11 241.0V180.0M217.51 241.0V182.1M217.92 241.0V150.4M218.32 241.0V175.8M218.73 241.0V167.8M219.13 241.0V170.3M219.54 241.0V189.9M219.94 241.0V180.3M220.34 241.0V188.4M220.75 241.0V186.9M221.15 241.0V184.5M221.56 241.0V164.5M221.96 241.0V166.3M222.37 241.0V165.2M222.77 241.0V177.3M223.17 241.0V170.3M223.58 241.0V166.0M223.98 241.0V175.9M224.39 241.0V146.3M224.79 241.0V179.5M225.20 241.0V183.0M225.60 241.0V178.2M226.00 241.0V117.7M226.41 241.0V170.5M226.81 241.0V161.3M227.22 241.0V173.3M227.62 241.0V178.2M228.03 241.0V165.7M228.43 241.0V165.0M228.83 241.0V185.8M229.24 241.0V151.1M229.64 241.0V184.5M230.05 241.0V184.2M230.45 241.0V165.2M230.86 241.0V186.3M231.26 241.0V179.0M231.66 241.0V158.0M232.07 241.0V169.9M232.47 241.0V175.2M232.88 241.0V171.6M233.28 241.0V168.4M233.68 241.0V156.5M234.09 241.0V173.2M234.49 241.0V153.7M234.90 241.0V126.7M235.30 241.0V153.6M235.71 241.0V155.9M236.11 241.0V119.0M236.51 241.0V173.7M236.92 241.0V168.8M237.32 241.0V178.9M237.73 241.0V165.7M238.13 241.0V181.6M238.54 241.0V182.9M238.94 241.0V137.6M239.34 241.0V177.0M239.75 241.0V170.0M240.15 241.0V174.3M240.56 241.0V118.3M240.96 241.0V185.1M241.37 241.0V164.4M241.77 241.0V163.2M242.17 241.0V162.7M242.58 241.0V183.7M242.98 241.0V184.2M243.39 241.0V177.8M243.79 241.0V172.5M244.20 241.0V187.1M244.60 241.0V129.2M245.00 241.0V191.5M245.41 241.0V199.2M276.36 241.0V212.1M276.77 241.0V199.2M277.17 241.0V199.2M277.57 241.0V191.1M277.98 241.0V178.5M278.38 241.0V164.1M278.79 241.0V180.7M279.19 241.0V178.7M279.60 241.0V180.1M280.00 241.0V172.9M280.40 241.0V187.0M280.81 241.0V189.3M281.21 241.0V189.1M281.62 241.0V185.7M282.02 241.0V167.8M282.43 241.0V162.0M282.83 241.0V172.2M283.23 241.0V166.8M283.64 241.0V161.1M284.04 241.0V160.1M284.45 241.0V159.6M284.85 241.0V168.2M285.26 241.0V140.8M285.66 241.0V168.0M286.06 241.0V172.2M286.47 241.0V160.1M286.87 241.0V149.8M287.28 241.0V171.8M287.68 241.0V157.6M288.09 241.0V139.5M288.49 241.0V153.4M288.89 241.0V160.8M289.30 241.0V151.4M289.70 241.0V169.1M290.11 241.0V161.5M290.51 241.0V155.2M290.92 241.0V174.2M291.32 241.0V155.0M291.72 241.0V179.3M292.13 241.0V169.1M292.53 241.0V168.7M292.94 241.0V177.7M293.34 241.0V191.1M293.75 241.0V193.8M294.15 241.0V181.0M294.55 241.0V147.2M294.96 241.0V181.2M295.36 241.0V163.6M295.77 241.0V179.8M296.17 241.0V158.4M296.57 241.0V179.9M296.98 241.0V172.4M297.38 241.0V157.2M297.79 241.0V159.3M298.19 241.0V151.1M298.60 241.0V157.5M299.00 241.0V159.4M299.40 241.0V161.2M299.81 241.0V174.4M300.21 241.0V168.5M300.62 241.0V140.2M301.02 241.0V162.3M301.43 241.0V163.9M301.83 241.0V174.8M302.23 241.0V179.3M302.64 241.0V156.1M303.04 241.0V159.4M303.45 241.0V120.2M303.85 241.0V164.8M304.26 241.0V156.4M304.66 241.0V165.7M305.06 241.0V102.9M305.47 241.0V167.4M305.87 241.0V151.1M306.28 241.0V174.0M306.68 241.0V157.7M307.09 241.0V163.9M307.49 241.0V162.2M307.89 241.0V177.0M308.30 241.0V171.8M308.70 241.0V177.8M309.11 241.0V178.1M309.51 241.0V174.8M309.92 241.0V145.3M310.32 241.0V171.3M310.72 241.0V171.2M311.13 241.0V165.9M311.53 241.0V175.4M311.94 241.0V180.9M312.34 241.0V167.0M312.75 241.0V166.8M313.15 241.0V162.2M313.55 241.0V167.1M343.62 241.0V151.1M344.02 241.0V169.4M344.43 241.0V181.7M344.83 241.0V175.3M345.24 241.0V175.7M345.64 241.0V182.2M346.05 241.0V178.8M346.45 241.0V176.4M346.85 241.0V168.5M347.26 241.0V168.8M347.66 241.0V185.4M348.07 241.0V176.6M348.47 241.0V192.2M348.88 241.0V190.8M349.28 241.0V178.6M349.68 241.0V168.3M350.09 241.0V185.1M350.49 241.0V168.8M350.90 241.0V164.7M351.30 241.0V177.9M351.71 241.0V167.5M352.11 241.0V163.1M352.51 241.0V174.5M352.92 241.0V165.7M353.32 241.0V165.6M353.73 241.0V170.2M354.13 241.0V164.7M354.54 241.0V135.0M354.94 241.0V164.2M355.34 241.0V175.0M355.75 241.0V186.0M356.15 241.0V184.9M356.56 241.0V186.2M356.96 241.0V178.0M357.36 241.0V173.8M357.77 241.0V190.8M358.17 241.0V174.3M358.58 241.0V172.6M358.98 241.0V181.1M359.39 241.0V176.1M359.79 241.0V184.2M360.19 241.0V169.4M360.60 241.0V186.0M361.00 241.0V161.8M361.41 241.0V165.5M361.81 241.0V169.7M362.22 241.0V178.5M362.62 241.0V162.1M363.02 241.0V160.6M363.43 241.0V180.9M363.83 241.0V164.4M364.24 241.0V162.2M364.64 241.0V73.4M365.05 241.0V164.7M365.45 241.0V170.6M365.85 241.0V157.9M366.26 241.0V155.0M366.66 241.0V168.0M367.07 241.0V155.7M367.47 241.0V164.6M367.88 241.0V172.6M368.28 241.0V169.9M368.68 241.0V176.2M369.09 241.0V157.9M369.49 241.0V158.0M369.90 241.0V180.4M370.30 241.0V169.6M370.71 241.0V175.8M371.11 241.0V184.3M371.51 241.0V177.4M371.92 241.0V174.6M372.32 241.0V158.0M372.73 241.0V173.1M373.13 241.0V174.8M373.54 241.0V174.9M373.94 241.0V191.7M374.34 241.0V179.4M374.75 241.0V177.7M375.15 241.0V169.7M375.56 241.0V183.1M375.96 241.0V178.8M376.37 241.0V169.8M376.77 241.0V174.1M377.17 241.0V164.2M377.58 241.0V174.4M377.98 241.0V165.4M378.39 241.0V164.5M378.79 241.0V165.9M379.19 241.0V163.2M379.60 241.0V173.4M380.00 241.0V174.2M380.41 241.0V164.6M380.81 241.0V166.3M381.22 241.0V170.9M381.62 241.0V175.3M382.02 241.0V177.4M382.43 241.0V181.8M382.83 241.0V164.2M383.24 241.0V181.5M412.36 241.0V185.1M412.76 241.0V169.9M413.17 241.0V155.8M413.57 241.0V162.4M413.97 241.0V158.7M414.38 241.0V181.2M414.78 241.0V173.7M415.19 241.0V135.0M415.59 241.0V181.6M416.00 241.0V178.4M416.40 241.0V182.7M416.80 241.0V176.3M417.21 241.0V187.4M417.61 241.0V174.3M418.02 241.0V173.6M418.42 241.0V177.9M418.83 241.0V176.2M419.23 241.0V167.2M419.63 241.0V170.4M420.04 241.0V177.2M420.44 241.0V176.0M420.85 241.0V185.4M421.25 241.0V192.0M421.65 241.0V191.7M422.06 241.0V179.6M422.46 241.0V166.3M422.87 241.0V156.3M423.27 241.0V158.5M423.68 241.0V167.3M424.08 241.0V156.3M424.48 241.0V169.3M424.89 241.0V159.4M425.29 241.0V169.6M425.70 241.0V160.8M426.10 241.0V156.0M426.51 241.0V174.4M426.91 241.0V179.1M427.31 241.0V169.2M427.72 241.0V174.0M428.12 241.0V186.2M428.53 241.0V199.2M428.93 241.0V191.3M429.34 241.0V185.1M429.74 241.0V180.4M430.14 241.0V164.1M430.55 241.0V170.1M430.95 241.0V165.4M431.36 241.0V160.4M431.76 241.0V163.2M432.17 241.0V168.7M432.57 241.0V148.5M432.97 241.0V163.2M433.38 241.0V162.0M433.78 241.0V161.6M434.19 241.0V166.9M434.59 241.0V162.4M435.00 241.0V163.4M435.40 241.0V156.8M435.80 241.0V162.9M436.21 241.0V164.1M436.61 241.0V168.8M437.02 241.0V170.4M437.42 241.0V178.4M437.83 241.0V185.8M438.23 241.0V188.4M438.63 241.0V177.9M439.04 241.0V173.4M439.44 241.0V176.4M439.85 241.0V180.9M440.25 241.0V158.6M440.66 241.0V165.2M441.06 241.0V166.9M441.46 241.0V178.7M441.87 241.0V168.3M442.27 241.0V168.6M442.68 241.0V183.8M443.08 241.0V192.7M443.49 241.0V190.9M443.89 241.0V199.2M444.29 241.0V191.7M444.70 241.0V179.3M445.10 241.0V184.3M445.51 241.0V189.2M445.91 241.0V177.7M446.31 241.0V175.4M446.72 241.0V181.0M447.12 241.0V176.7M447.53 241.0V157.8M447.93 241.0V175.0M448.34 241.0V181.6M448.74 241.0V164.4M449.14 241.0V173.8M449.55 241.0V177.4M449.95 241.0V171.8M450.36 241.0V164.2M450.76 241.0V176.5M451.17 241.0V162.4M451.57 241.0V160.2M451.97 241.0V157.6M452.38 241.0V177.1M452.78 241.0V194.9M481.09 241.0V172.9M481.50 241.0V178.8M481.90 241.0V188.0M482.31 241.0V171.9M482.71 241.0V147.2M483.12 241.0V182.2M483.52 241.0V184.3M483.92 241.0V120.2M484.33 241.0V171.0M484.73 241.0V167.0M485.14 241.0V187.4M485.54 241.0V167.8M485.95 241.0V176.8M486.35 241.0V184.6M486.75 241.0V181.3M487.16 241.0V172.6M487.56 241.0V171.6M487.97 241.0V186.2M488.37 241.0V173.5M488.77 241.0V183.2M489.18 241.0V161.6M489.58 241.0V174.0M489.99 241.0V161.4M490.39 241.0V165.2M490.80 241.0V167.4M491.20 241.0V175.1M491.60 241.0V149.1M492.01 241.0V176.5M492.41 241.0V175.7M492.82 241.0V160.4M493.22 241.0V168.4M493.63 241.0V157.9M494.03 241.0V171.8M494.43 241.0V165.6M494.84 241.0V171.4M495.24 241.0V187.5M495.65 241.0V198.3M496.05 241.0V193.0M496.46 241.0V187.2M496.86 241.0V193.6M497.26 241.0V185.2M497.67 241.0V182.2M498.07 241.0V168.3M498.48 241.0V165.9M498.88 241.0V187.7M499.29 241.0V197.1M499.69 241.0V180.3M500.09 241.0V176.7M500.50 241.0V172.2M500.90 241.0V140.8M501.31 241.0V186.2M501.71 241.0V173.0M502.12 241.0V119.0M502.52 241.0V175.0M502.92 241.0V189.2M503.33 241.0V180.9M503.73 241.0V178.7M504.14 241.0V181.8M504.54 241.0V187.2M504.95 241.0V185.6M505.35 241.0V170.4M505.75 241.0V179.0M506.16 241.0V175.6M506.56 241.0V184.5M506.97 241.0V170.5M507.37 241.0V178.0M507.78 241.0V169.8M508.18 241.0V163.1M508.58 241.0V162.2M508.99 241.0V187.2M509.39 241.0V141.4M509.80 241.0V169.4M510.20 241.0V184.1M510.60 241.0V147.9M511.01 241.0V180.1M511.41 241.0V172.8M511.82 241.0V187.1M512.22 241.0V112.5M512.63 241.0V180.6M513.03 241.0V197.0M513.43 241.0V174.9M513.84 241.0V192.9M514.24 241.0V185.1M514.65 241.0V167.8M515.05 241.0V182.7M515.46 241.0V174.3M515.86 241.0V180.2M516.26 241.0V171.5M516.67 241.0V147.2M517.07 241.0V159.8M517.48 241.0V181.3M517.88 241.0V180.3M518.29 241.0V160.4M518.69 241.0V180.2M519.09 241.0V174.4M519.50 241.0V178.3M519.90 241.0V179.0M520.31 241.0V180.6M520.71 241.0V165.3M521.12 241.0V149.1M521.52 241.0V149.1M550.32 241.0V169.1M550.73 241.0V169.6M551.13 241.0V173.0M551.54 241.0V166.2M551.94 241.0V159.0M552.35 241.0V168.6M552.75 241.0V179.9M553.15 241.0V122.2M553.56 241.0V165.2M553.96 241.0V175.1M554.37 241.0V182.2M554.77 241.0V176.1M555.18 241.0V177.5M555.58 241.0V176.6M555.98 241.0V185.7M556.39 241.0V176.0M556.79 241.0V172.2M557.20 241.0V175.2M557.60 241.0V160.2M558.00 241.0V174.1M558.41 241.0V170.6M558.81 241.0V171.3M559.22 241.0V171.2M559.62 241.0V172.5M560.03 241.0V172.4M560.43 241.0V185.6M560.83 241.0V144.0M561.24 241.0V189.5M561.64 241.0V170.9M562.05 241.0V173.2M562.45 241.0V141.4M562.86 241.0V194.7M563.26 241.0V194.4M563.66 241.0V177.3M564.07 241.0V190.1M564.47 241.0V190.6M564.88 241.0V172.1M565.28 241.0V192.7M565.69 241.0V177.4M566.09 241.0V176.5M566.49 241.0V181.4M566.90 241.0V176.1M567.30 241.0V171.0M567.71 241.0V169.5M568.11 241.0V193.6M568.52 241.0V181.8M568.92 241.0V193.5M569.32 241.0V175.5M569.73 241.0V192.6M570.13 241.0V193.1M570.54 241.0V183.5M570.94 241.0V174.0M571.35 241.0V183.4M571.75 241.0V186.7M572.15 241.0V168.9M572.56 241.0V167.4M572.96 241.0V165.8M573.37 241.0V179.1M573.77 241.0V175.7M574.18 241.0V150.4M574.58 241.0V171.5M574.98 241.0V176.7M575.39 241.0V176.1M575.79 241.0V166.4M576.20 241.0V164.0M576.60 241.0V175.3M577.01 241.0V188.4M577.41 241.0V171.4M577.81 241.0V173.1M578.22 241.0V156.3M578.62 241.0V161.6M579.03 241.0V159.2M579.43 241.0V163.1M579.83 241.0V167.8M580.24 241.0V133.1M580.64 241.0V161.4M581.05 241.0V175.5M581.45 241.0V179.3M581.86 241.0V67.6M582.26 241.0V171.3M582.66 241.0V135.0M583.07 241.0V176.7M583.47 241.0V171.5M583.88 241.0V135.0M584.28 241.0V166.6M584.69 241.0V171.2M585.09 241.0V180.4M585.49 241.0V143.4M585.90 241.0V181.2M586.30 241.0V182.7M586.71 241.0V171.5M587.11 241.0V177.0M587.52 241.0V175.6M587.92 241.0V184.3M588.32 241.0V164.0M588.73 241.0V177.7M589.13 241.0V176.6M589.54 241.0V183.7M589.94 241.0V162.4M590.35 241.0V93.3M590.75 241.0V167.0M620.05 241.0V167.1M620.45 241.0V161.5M620.86 241.0V163.4M621.26 241.0V158.7M621.66 241.0V157.9M622.07 241.0V162.0M622.47 241.0V179.7M622.88 241.0V171.5M623.28 241.0V171.8M623.69 241.0V162.9M624.09 241.0V169.7M624.49 241.0V173.3M624.90 241.0V173.8M625.30 241.0V183.3M625.71 241.0V168.3M626.11 241.0V175.2M626.52 241.0V180.4M626.92 241.0V175.6M627.32 241.0V159.6M627.73 241.0V169.3M628.13 241.0V177.6M628.54 241.0V177.3M628.94 241.0V163.0M629.34 241.0V165.4M629.75 241.0V156.6M630.15 241.0V174.7M630.56 241.0V135.7M630.96 241.0V161.1M631.37 241.0V178.1M631.77 241.0V186.4M632.17 241.0V185.2M632.58 241.0V192.4M632.98 241.0V187.1M633.39 241.0V174.7M633.79 241.0V165.1M634.20 241.0V167.5M634.60 241.0V179.3M635.00 241.0V180.5M635.41 241.0V162.1M635.81 241.0V168.3M636.22 241.0V181.2M636.62 241.0V165.4M637.03 241.0V188.0M637.43 241.0V179.7M637.83 241.0V165.4M638.24 241.0V166.5M638.64 241.0V174.9M639.05 241.0V157.2M639.45 241.0V161.9M639.86 241.0V154.6M640.26 241.0V160.5M640.66 241.0V178.8" stroke="#077a9d" stroke-width="1.5" fill="none"/>
<path d="M53 241h596v1h-596z" fill="#9a9a9a"/>
<path d="M66 245h1v6h-1zM135 245h1v6h-1zM205 245h1v6h-1zM274 245h1v6h-1zM343 245h1v6h-1zM412 245h1v6h-1zM481 245h1v6h-1zM551 245h1v6h-1zM620 245h1v6h-1z" fill="#e0e0e0"/>
<text x="51.0" y="245.9" text-anchor="end" class="tk">0</text>
<text x="51.0" y="181.7" text-anchor="end" class="tk">10</text>
<text x="51.0" y="117.4" text-anchor="end" class="tk">20</text>
<text x="51.0" y="53.2" text-anchor="end" class="tk">30</text>
<text x="66.8" y="262.1" text-anchor="middle" class="tk">Jan 03, 2016 00:00</text>
<text x="205.3" y="262.1" text-anchor="middle" class="tk">Jan 17, 2016 00:00</text>
<text x="343.7" y="262.1" text-anchor="middle" class="tk">Jan 31, 2016 00:00</text>
<text x="482.2" y="262.1" text-anchor="middle" class="tk">Feb 14, 2016 00:00</text>
<text x="620.6" y="262.1" text-anchor="middle" class="tk">Feb 28, 2016 00:00</text>
<text x="354.8" y="278.5" text-anchor="middle" class="ax">降車時間</text>
<text transform="translate(31.8 144.5) rotate(-90)" text-anchor="middle" class="ax">運賃の総金額</text>
</svg>
<div class="w" style="left:914px;top:223px;width:685px;height:294px"></div>
<div class="wl" style="left:928px;top:232px">乗車時間の分布</div>
<svg class="a" style="left:914px;top:223px" width="685" height="294">
<path d="M66 48h1v193h-1zM135 48h1v193h-1zM205 48h1v193h-1zM274 48h1v193h-1zM343 48h1v193h-1zM412 48h1v193h-1zM481 48h1v193h-1zM551 48h1v193h-1zM620 48h1v193h-1zM53 193h596v1h-596zM53 144h596v1h-596zM53 96h596v1h-596zM53 48h596v1h-596z" fill="#e6e6e6"/>
<path d="M66.70 241.0V192.8M67.10 241.0V186.6M67.51 241.0V199.5M67.91 241.0V195.2M68.32 241.0V179.1M68.72 241.0V182.5M69.13 241.0V185.2M69.53 241.0V127.8M69.93 241.0V189.4M70.34 241.0V190.9M70.74 241.0V192.2M71.15 241.0V199.1M71.55 241.0V193.0M71.96 241.0V192.6M72.36 241.0V187.0M72.76 241.0V183.6M73.17 241.0V186.2M73.57 241.0V195.5M73.98 241.0V197.5M74.38 241.0V200.8M74.79 241.0V205.2M75.19 241.0V173.6M75.59 241.0V197.1M76.00 241.0V163.0M76.40 241.0V198.7M76.81 241.0V189.1M77.21 241.0V196.0M77.62 241.0V154.8M78.02 241.0V201.4M78.42 241.0V205.4M78.83 241.0V150.4M79.23 241.0V203.3M79.64 241.0V196.2M80.04 241.0V187.3M80.44 241.0V197.0M80.85 241.0V204.5M81.25 241.0V188.4M81.66 241.0V187.6M82.06 241.0V186.1M82.47 241.0V180.2M82.87 241.0V184.6M83.27 241.0V185.8M83.68 241.0V195.8M84.08 241.0V185.8M84.49 241.0V187.7M84.89 241.0V202.5M85.30 241.0V191.1M85.70 241.0V191.5M86.10 241.0V196.0M86.51 241.0V168.3M86.91 241.0V194.9M87.32 241.0V186.5M87.72 241.0V194.1M88.13 241.0V189.4M88.53 241.0V201.1M88.93 241.0V193.4M89.34 241.0V191.5M89.74 241.0V198.2M90.15 241.0V194.6M90.55 241.0V186.4M90.96 241.0V188.5M91.36 241.0V191.4M91.76 241.0V194.7M92.17 241.0V191.2M92.57 241.0V184.5M92.98 241.0V196.1M93.38 241.0V183.7M93.79 241.0V197.3M94.19 241.0V186.8M94.59 241.0V198.6M95.00 241.0V186.6M95.40 241.0V191.4M95.81 241.0V195.3M96.21 241.0V162.5M96.62 241.0V192.7M97.02 241.0V194.0M97.42 241.0V125.4M97.83 241.0V201.3M98.23 241.0V79.1M98.64 241.0V187.9M99.04 241.0V169.2M99.45 241.0V204.2M99.85 241.0V190.3M100.25 241.0V191.8M100.66 241.0V183.5M101.06 241.0V192.0M101.47 241.0V180.5M101.87 241.0V194.5M102.27 241.0V184.5M102.68 241.0V192.8M103.08 241.0V172.6M103.49 241.0V183.7M103.89 241.0V199.3M104.30 241.0V192.6M104.70 241.0V187.1M105.10 241.0V195.8M105.51 241.0V193.7M105.91 241.0V178.3M106.32 241.0V192.8M135.93 241.0V181.3M136.33 241.0V196.5M136.74 241.0V190.8M137.14 241.0V194.8M137.55 241.0V185.8M137.95 241.0V197.3M138.36 241.0V162.5M138.76 241.0V199.3M139.16 241.0V186.5M139.57 241.0V200.3M139.97 241.0V195.2M140.38 241.0V180.6M140.78 241.0V188.8M141.19 241.0V190.4M141.59 241.0V184.6M141.99 241.0V194.0M142.40 241.0V203.8M142.80 241.0V187.3M143.21 241.0V204.4M143.61 241.0V207.8M144.02 241.0V200.7M144.42 241.0V191.4M144.82 241.0V184.8M145.23 241.0V192.4M145.63 241.0V189.6M146.04 241.0V198.0M146.44 241.0V192.8M146.85 241.0V188.6M147.25 241.0V186.7M147.65 241.0V181.3M148.06 241.0V183.9M148.46 241.0V182.6M148.87 241.0V186.2M149.27 241.0V169.2M149.67 241.0V196.5M150.08 241.0V189.0M150.48 241.0V196.1M150.89 241.0V200.8M151.29 241.0V194.9M151.70 241.0V187.5M152.10 241.0V200.7M152.50 241.0V191.4M152.91 241.0V194.2M153.31 241.0V191.1M153.72 241.0V197.5M154.12 241.0V183.3M154.53 241.0V197.7M154.93 241.0V192.3M155.33 241.0V197.0M155.74 241.0V205.0M156.14 241.0V192.9M156.55 241.0V198.7M156.95 241.0V120.6M157.36 241.0V196.6M157.76 241.0V192.2M158.16 241.0V191.3M158.57 241.0V179.2M158.97 241.0V183.3M159.38 241.0V176.4M159.78 241.0V179.5M160.19 241.0V180.1M160.59 241.0V195.1M160.99 241.0V191.7M161.40 241.0V196.0M161.80 241.0V190.5M162.21 241.0V190.9M162.61 241.0V188.5M163.02 241.0V191.2M163.42 241.0V200.7M163.82 241.0V196.0M164.23 241.0V191.4M164.63 241.0V198.6M165.04 241.0V195.6M165.44 241.0V190.6M165.85 241.0V198.2M166.25 241.0V188.6M166.65 241.0V198.8M167.06 241.0V201.3M167.46 241.0V199.6M167.87 241.0V147.5M168.27 241.0V198.6M168.68 241.0V192.8M169.08 241.0V193.3M169.48 241.0V194.9M169.89 241.0V187.4M170.29 241.0V194.1M170.70 241.0V181.5M171.10 241.0V181.7M171.50 241.0V187.5M171.91 241.0V194.4M172.31 241.0V194.3M172.72 241.0V194.3M173.12 241.0V206.5M173.53 241.0V202.5M173.93 241.0V202.6M174.33 241.0V203.1M174.74 241.0V198.9M175.14 241.0V183.5M175.55 241.0V191.7M204.17 241.0V183.2M204.58 241.0V181.3M204.98 241.0V187.1M205.39 241.0V192.2M205.79 241.0V177.5M206.20 241.0V187.2M206.60 241.0V192.2M207.00 241.0V181.6M207.41 241.0V195.0M207.81 241.0V193.5M208.22 241.0V186.0M208.62 241.0V192.6M209.03 241.0V208.3M209.43 241.0V198.8M209.83 241.0V197.2M210.24 241.0V193.4M210.64 241.0V196.9M211.05 241.0V191.6M211.45 241.0V203.1M211.85 241.0V201.0M212.26 241.0V200.4M212.66 241.0V190.0M213.07 241.0V206.3M213.47 241.0V193.8M213.88 241.0V204.5M214.28 241.0V194.7M214.68 241.0V193.5M215.09 241.0V187.5M215.49 241.0V177.4M215.90 241.0V184.4M216.30 241.0V167.3M216.71 241.0V190.5M217.11 241.0V191.8M217.51 241.0V178.1M217.92 241.0V186.3M218.32 241.0V184.5M218.73 241.0V193.7M219.13 241.0V208.3M219.54 241.0V195.3M219.94 241.0V191.9M220.34 241.0V191.8M220.75 241.0V195.0M221.15 241.0V196.5M221.56 241.0V194.2M221.96 241.0V188.7M222.37 241.0V199.5M222.77 241.0V195.6M223.17 241.0V196.4M223.58 241.0V186.8M223.98 241.0V189.0M224.39 241.0V170.2M224.79 241.0V187.1M225.20 241.0V196.5M225.60 241.0V197.1M226.00 241.0V191.6M226.41 241.0V195.3M226.81 241.0V191.6M227.22 241.0V187.0M227.62 241.0V182.7M228.03 241.0V189.1M228.43 241.0V185.0M228.83 241.0V198.7M229.24 241.0V193.0M229.64 241.0V180.2M230.05 241.0V196.1M230.45 241.0V191.6M230.86 241.0V198.6M231.26 241.0V198.8M231.66 241.0V184.0M232.07 241.0V180.5M232.47 241.0V184.1M232.88 241.0V191.1M233.28 241.0V185.3M233.68 241.0V186.9M234.09 241.0V179.0M234.49 241.0V179.2M234.90 241.0V184.1M235.30 241.0V149.5M235.71 241.0V191.0M236.11 241.0V173.6M236.51 241.0V176.0M236.92 241.0V180.0M237.32 241.0V192.7M237.73 241.0V185.2M238.13 241.0V161.0M238.54 241.0V190.8M238.94 241.0V179.2M239.34 241.0V187.9M239.75 241.0V184.4M240.15 241.0V168.3M240.56 241.0V180.9M240.96 241.0V185.8M241.37 241.0V191.3M241.77 241.0V201.3M242.17 241.0V197.2M242.58 241.0V200.9M242.98 241.0V186.4M243.39 241.0V178.5M243.79 241.0V189.9M244.20 241.0V182.3M244.60 241.0V182.8M245.00 241.0V184.3M276.36 241.0V218.8M276.77 241.0V206.9M277.17 241.0V201.5M277.57 241.0V196.1M277.98 241.0V181.4M278.38 241.0V195.8M278.79 241.0V190.6M279.19 241.0V194.8M279.60 241.0V195.4M280.00 241.0V194.8M280.40 241.0V205.7M280.81 241.0V197.5M281.21 241.0V200.8M281.62 241.0V195.1M282.02 241.0V188.5M282.43 241.0V194.1M282.83 241.0V171.1M283.23 241.0V195.7M283.64 241.0V190.3M284.04 241.0V186.3M284.45 241.0V108.5M284.85 241.0V186.0M285.26 241.0V200.2M285.66 241.0V163.9M286.06 241.0V185.2M286.47 241.0V186.7M286.87 241.0V180.3M287.28 241.0V148.5M287.68 241.0V193.9M288.09 241.0V179.6M288.49 241.0V179.8M288.89 241.0V189.8M289.30 241.0V179.0M289.70 241.0V181.5M290.11 241.0V188.3M290.51 241.0V178.3M290.92 241.0V192.7M291.32 241.0V185.6M291.72 241.0V190.6M292.13 241.0V194.8M292.53 241.0V189.7M292.94 241.0V190.9M293.34 241.0V194.8M293.75 241.0V179.4M294.15 241.0V195.1M294.55 241.0V171.1M294.96 241.0V185.2M295.36 241.0V177.6M295.77 241.0V179.8M296.17 241.0V177.2M296.57 241.0V182.5M296.98 241.0V179.1M297.38 241.0V185.7M297.79 241.0V187.2M298.19 241.0V183.0M298.60 241.0V192.1M299.00 241.0V173.6M299.40 241.0V178.8M299.81 241.0V189.9M300.21 241.0V179.3M300.62 241.0V178.9M301.02 241.0V186.2M301.43 241.0V181.2M301.83 241.0V179.2M302.23 241.0V177.9M302.64 241.0V191.8M303.04 241.0V191.4M303.45 241.0V150.4M303.85 241.0V185.9M304.26 241.0V189.2M304.66 241.0V194.7M305.06 241.0V136.9M305.47 241.0V177.0M305.87 241.0V168.7M306.28 241.0V185.3M306.68 241.0V188.3M307.09 241.0V166.8M307.49 241.0V179.4M307.89 241.0V190.1M308.30 241.0V183.8M308.70 241.0V187.0M309.11 241.0V186.2M309.51 241.0V179.5M309.92 241.0V195.6M310.32 241.0V161.5M310.72 241.0V192.0M311.13 241.0V185.9M311.53 241.0V183.4M311.94 241.0V186.4M312.34 241.0V191.9M312.75 241.0V184.0M313.15 241.0V198.5M313.55 241.0V188.6M343.62 241.0V170.2M344.02 241.0V193.5M344.43 241.0V187.4M344.83 241.0V188.4M345.24 241.0V192.4M345.64 241.0V200.8M346.05 241.0V204.6M346.45 241.0V198.9M346.85 241.0V201.3M347.26 241.0V198.5M347.66 241.0V183.9M348.07 241.0V198.0M348.47 241.0V186.3M348.88 241.0V196.1M349.28 241.0V198.0M349.68 241.0V199.2M350.09 241.0V202.0M350.49 241.0V193.0M350.90 241.0V196.7M351.30 241.0V189.8M351.71 241.0V191.5M352.11 241.0V180.0M352.51 241.0V179.2M352.92 241.0V187.9M353.32 241.0V184.9M353.73 241.0V180.3M354.13 241.0V157.7M354.54 241.0V197.6M354.94 241.0V195.8M355.34 241.0V171.1M355.75 241.0V189.2M356.15 241.0V195.8M356.56 241.0V196.9M356.96 241.0V189.3M357.36 241.0V200.4M357.77 241.0V188.8M358.17 241.0V191.0M358.58 241.0V194.2M358.98 241.0V185.2M359.39 241.0V193.2M359.79 241.0V182.7M360.19 241.0V181.4M360.60 241.0V189.0M361.00 241.0V185.0M361.41 241.0V179.8M361.81 241.0V183.6M362.22 241.0V183.3M362.62 241.0V181.0M363.02 241.0V179.7M363.43 241.0V183.0M363.83 241.0V178.9M364.24 241.0V191.9M364.64 241.0V115.7M365.05 241.0V184.9M365.45 241.0V190.7M365.85 241.0V190.3M366.26 241.0V194.8M366.66 241.0V180.5M367.07 241.0V192.1M367.47 241.0V190.1M367.88 241.0V182.5M368.28 241.0V196.1M368.68 241.0V181.7M369.09 241.0V197.6M369.49 241.0V199.6M369.90 241.0V172.6M370.30 241.0V193.8M370.71 241.0V183.5M371.11 241.0V184.4M371.51 241.0V187.5M371.92 241.0V194.8M372.32 241.0V194.0M372.73 241.0V172.6M373.13 241.0V190.9M373.54 241.0V200.5M373.94 241.0V209.7M374.34 241.0V208.4M374.75 241.0V209.7M375.15 241.0V200.2M375.56 241.0V186.9M375.96 241.0V201.0M376.37 241.0V198.5M376.77 241.0V196.6M377.17 241.0V196.9M377.58 241.0V194.9M377.98 241.0V199.3M378.39 241.0V197.6M378.79 241.0V198.8M379.19 241.0V198.3M379.60 241.0V190.8M380.00 241.0V195.3M380.41 241.0V194.9M380.81 241.0V188.0M381.22 241.0V201.8M381.62 241.0V200.8M382.02 241.0V188.0M382.43 241.0V196.5M382.83 241.0V190.4M383.24 241.0V202.9M412.36 241.0V195.2M412.76 241.0V179.0M413.17 241.0V186.3M413.57 241.0V180.0M413.97 241.0V184.6M414.38 241.0V190.4M414.78 241.0V180.7M415.19 241.0V173.6M415.59 241.0V194.0M416.00 241.0V192.9M416.40 241.0V199.5M416.80 241.0V188.0M417.21 241.0V190.8M417.61 241.0V189.2M418.02 241.0V189.9M418.42 241.0V182.3M418.83 241.0V183.0M419.23 241.0V186.6M419.63 241.0V194.7M420.04 241.0V194.6M420.44 241.0V190.9M420.85 241.0V198.3M421.25 241.0V195.6M421.65 241.0V179.1M422.06 241.0V195.5M422.46 241.0V180.4M422.87 241.0V185.4M423.27 241.0V161.5M423.68 241.0V197.0M424.08 241.0V192.8M424.48 241.0V181.3M424.89 241.0V193.0M425.29 241.0V189.9M425.70 241.0V188.7M426.10 241.0V195.5M426.51 241.0V199.4M426.91 241.0V193.1M427.31 241.0V207.5M427.72 241.0V193.4M428.12 241.0V197.1M428.53 241.0V206.0M428.93 241.0V187.6M429.34 241.0V197.8M429.74 241.0V191.3M430.14 241.0V188.1M430.55 241.0V196.2M430.95 241.0V189.5M431.36 241.0V198.0M431.76 241.0V195.6M432.17 241.0V169.7M432.57 241.0V184.3M432.97 241.0V190.1M433.38 241.0V187.2M433.78 241.0V183.8M434.19 241.0V171.1M434.59 241.0V191.4M435.00 241.0V198.3M435.40 241.0V198.8M435.80 241.0V199.7M436.21 241.0V198.7M436.61 241.0V202.7M437.02 241.0V200.6M437.42 241.0V198.5M437.83 241.0V193.6M438.23 241.0V188.5M438.63 241.0V187.0M439.04 241.0V189.4M439.44 241.0V189.7M439.85 241.0V178.3M440.25 241.0V188.8M440.66 241.0V189.8M441.06 241.0V180.1M441.46 241.0V187.3M441.87 241.0V198.8M442.27 241.0V198.6M442.68 241.0V202.9M443.08 241.0V203.2M443.49 241.0V205.1M443.89 241.0V203.6M444.29 241.0V194.0M444.70 241.0V191.6M445.10 241.0V193.1M445.51 241.0V190.7M445.91 241.0V190.5M446.31 241.0V182.5M446.72 241.0V179.4M447.12 241.0V194.7M447.53 241.0V186.9M447.93 241.0V187.7M448.34 241.0V187.3M448.74 241.0V198.0M449.14 241.0V187.1M449.55 241.0V192.6M449.95 241.0V191.6M450.36 241.0V183.6M450.76 241.0V185.0M451.17 241.0V188.0M451.57 241.0V188.5M451.97 241.0V193.3M452.38 241.0V203.5M481.09 241.0V181.3M481.50 241.0V182.2M481.90 241.0V181.2M482.31 241.0V181.3M482.71 241.0V186.4M483.12 241.0V197.5M483.52 241.0V195.1M483.92 241.0V160.5M484.33 241.0V188.0M484.73 241.0V190.3M485.14 241.0V198.0M485.54 241.0V185.5M485.95 241.0V187.1M486.35 241.0V188.3M486.75 241.0V195.7M487.16 241.0V198.1M487.56 241.0V198.9M487.97 241.0V186.6M488.37 241.0V188.1M488.77 241.0V196.7M489.18 241.0V186.3M489.58 241.0V193.9M489.99 241.0V198.0M490.39 241.0V196.6M490.80 241.0V189.6M491.20 241.0V193.3M491.60 241.0V160.5M492.01 241.0V196.9M492.41 241.0V184.7M492.82 241.0V191.4M493.22 241.0V177.9M493.63 241.0V189.4M494.03 241.0V188.0M494.43 241.0V190.7M494.84 241.0V199.9M495.24 241.0V200.2M495.65 241.0V194.9M496.05 241.0V209.3M496.46 241.0V197.4M496.86 241.0V197.7M497.26 241.0V192.2M497.67 241.0V194.7M498.07 241.0V190.7M498.48 241.0V191.8M498.88 241.0V194.6M499.29 241.0V203.8M499.69 241.0V205.2M500.09 241.0V199.4M500.50 241.0V204.2M500.90 241.0V173.6M501.31 241.0V196.1M501.71 241.0V200.6M502.12 241.0V149.5M502.52 241.0V194.1M502.92 241.0V188.8M503.33 241.0V161.5M503.73 241.0V192.5M504.14 241.0V191.2M504.54 241.0V188.1M504.95 241.0V192.1M505.35 241.0V197.2M505.75 241.0V197.1M506.16 241.0V183.3M506.56 241.0V191.4M506.97 241.0V195.2M507.37 241.0V177.8M507.78 241.0V189.2M508.18 241.0V185.7M508.58 241.0V184.3M508.99 241.0V188.2M509.39 241.0V183.7M509.80 241.0V195.3M510.20 241.0V197.5M510.60 241.0V197.6M511.01 241.0V161.5M511.41 241.0V204.5M511.82 241.0V193.6M512.22 241.0V156.2M512.63 241.0V201.0M513.03 241.0V192.1M513.43 241.0V201.6M513.84 241.0V209.1M514.24 241.0V195.9M514.65 241.0V186.3M515.05 241.0V188.0M515.46 241.0V188.2M515.86 241.0V180.1M516.26 241.0V175.6M516.67 241.0V188.1M517.07 241.0V185.6M517.48 241.0V173.3M517.88 241.0V174.3M518.29 241.0V188.0M518.69 241.0V178.6M519.09 241.0V175.4M519.50 241.0V180.8M519.90 241.0V182.0M520.31 241.0V189.1M520.71 241.0V197.5M521.12 241.0V199.9M521.52 241.0V204.7M550.32 241.0V181.7M550.73 241.0V194.6M551.13 241.0V185.5M551.54 241.0V189.7M551.94 241.0V188.8M552.35 241.0V178.6M552.75 241.0V189.3M553.15 241.0V151.9M553.56 241.0V189.3M553.96 241.0V192.3M554.37 241.0V191.7M554.77 241.0V185.0M555.18 241.0V178.6M555.58 241.0V196.1M555.98 241.0V184.9M556.39 241.0V191.0M556.79 241.0V196.7M557.20 241.0V178.5M557.60 241.0V187.7M558.00 241.0V189.8M558.41 241.0V201.8M558.81 241.0V197.2M559.22 241.0V196.9M559.62 241.0V191.9M560.03 241.0V195.6M560.43 241.0V193.2M560.83 241.0V170.7M561.24 241.0V202.1M561.64 241.0V205.8M562.05 241.0V197.2M562.45 241.0V166.3M562.86 241.0V203.3M563.26 241.0V199.9M563.66 241.0V196.0M564.07 241.0V198.5M564.47 241.0V196.9M564.88 241.0V189.4M565.28 241.0V203.3M565.69 241.0V192.9M566.09 241.0V199.8M566.49 241.0V187.0M566.90 241.0V192.5M567.30 241.0V200.2M567.71 241.0V199.1M568.11 241.0V194.4M568.52 241.0V198.6M568.92 241.0V190.3M569.32 241.0V201.2M569.73 241.0V201.0M570.13 241.0V189.6M570.54 241.0V195.0M570.94 241.0V203.9M571.35 241.0V190.4M571.75 241.0V197.4M572.15 241.0V185.5M572.56 241.0V190.1M572.96 241.0V183.9M573.37 241.0V179.2M573.77 241.0V183.4M574.18 241.0V173.4M574.58 241.0V191.5M574.98 241.0V186.0M575.39 241.0V177.0M575.79 241.0V195.1M576.20 241.0V185.7M576.60 241.0V182.5M577.01 241.0V190.0M577.41 241.0V184.1M577.81 241.0V195.7M578.22 241.0V186.3M578.62 241.0V185.5M579.03 241.0V189.2M579.43 241.0V172.1M579.83 241.0V183.3M580.24 241.0V195.6M580.64 241.0V198.2M581.05 241.0V172.1M581.45 241.0V181.7M581.86 241.0V110.9M582.26 241.0V188.1M582.66 241.0V173.6M583.07 241.0V184.6M583.47 241.0V201.2M583.88 241.0V173.6M584.28 241.0V188.0M584.69 241.0V186.5M585.09 241.0V189.6M585.49 241.0V176.5M585.90 241.0V196.8M586.30 241.0V193.0M586.71 241.0V203.5M587.11 241.0V200.8M587.52 241.0V202.0M587.92 241.0V204.8M588.32 241.0V194.3M588.73 241.0V189.6M589.13 241.0V193.2M589.54 241.0V186.1M589.94 241.0V197.2M590.35 241.0V188.4M590.75 241.0V188.2M620.05 241.0V179.3M620.45 241.0V176.9M620.86 241.0V191.1M621.26 241.0V184.8M621.66 241.0V183.6M622.07 241.0V184.8M622.47 241.0V173.1M622.88 241.0V180.3M623.28 241.0V183.1M623.69 241.0V187.3M624.09 241.0V190.1M624.49 241.0V183.2M624.90 241.0V188.0M625.30 241.0V192.8M625.71 241.0V202.4M626.11 241.0V193.6M626.52 241.0V201.7M626.92 241.0V196.9M627.32 241.0V201.4M627.73 241.0V186.9M628.13 241.0V180.0M628.54 241.0V185.1M628.94 241.0V186.0M629.34 241.0V191.6M629.75 241.0V187.9M630.15 241.0V187.5M630.56 241.0V156.2M630.96 241.0V191.1M631.37 241.0V192.1M631.77 241.0V182.1M632.17 241.0V178.3M632.58 241.0V181.0M632.98 241.0V185.1M633.39 241.0V196.7M633.79 241.0V191.9M634.20 241.0V181.6M634.60 241.0V178.9M635.00 241.0V186.6M635.41 241.0V186.1M635.81 241.0V184.7M636.22 241.0V193.8M636.62 241.0V186.1M637.03 241.0V193.8M637.43 241.0V185.0M637.83 241.0V190.4M638.24 241.0V184.8M638.64 241.0V184.9M639.05 241.0V184.2M639.45 241.0V184.8M639.86 241.0V176.1M640.26 241.0V185.3" stroke="#077a9d" stroke-width="1.5" fill="none"/>
<path d="M53 241h596v1h-596z" fill="#9a9a9a"/>
<path d="M66 245h1v6h-1zM135 245h1v6h-1zM205 245h1v6h-1zM274 245h1v6h-1zM343 245h1v6h-1zM412 245h1v6h-1zM481 245h1v6h-1zM551 245h1v6h-1zM620 245h1v6h-1z" fill="#e0e0e0"/>
<text x="51.0" y="245.9" text-anchor="end" class="tk">0</text>
<text x="51.0" y="197.7" text-anchor="end" class="tk">10</text>
<text x="51.0" y="149.6" text-anchor="end" class="tk">20</text>
<text x="51.0" y="101.4" text-anchor="end" class="tk">30</text>
<text x="51.0" y="53.2" text-anchor="end" class="tk">40</text>
<text x="66.8" y="262.1" text-anchor="middle" class="tk">Jan 03, 2016 00:00</text>
<text x="205.3" y="262.1" text-anchor="middle" class="tk">Jan 17, 2016 00:00</text>
<text x="343.7" y="262.1" text-anchor="middle" class="tk">Jan 31, 2016 00:00</text>
<text x="482.2" y="262.1" text-anchor="middle" class="tk">Feb 14, 2016 00:00</text>
<text x="620.6" y="262.1" text-anchor="middle" class="tk">Feb 28, 2016 00:00</text>
<text x="354.8" y="278.5" text-anchor="middle" class="ax">乗車時間</text>
<text transform="translate(31.8 144.5) rotate(-90)" text-anchor="middle" class="ax">運賃の総金額</text>
</svg>
<div class="w" style="left:453px;top:523px;width:685px;height:354px"></div>
<div class="wl" style="left:467px;top:532px">曜日ごとの運賃と距離</div>
<svg class="a" style="left:453px;top:523px" width="685" height="354">
<path d="M159 43h1v256h-1zM262 43h1v256h-1zM364 43h1v256h-1zM466 43h1v256h-1zM569 43h1v256h-1zM47 192h528v1h-528zM47 86h528v1h-528z" fill="#e6e6e6"/>
<path d="M57 43h1v268h-1zM47 299h528v1h-528z" fill="#9a9a9a"/>
<path d="M94.9 251.5h0M153.8 243.5h0M229.8 211.6h0M193.3 232.9h0M146.5 246.2h0M210.7 238.2h0M231.8 235.5h0M69.2 280.8h0M349.6 200.9h0M140.7 251.5h0M349.6 176.9h0M135.6 232.9h0M426.5 166.2h0M184.8 238.2h0M287.5 195.6h0M487.2 54.3h0M240.3 230.2h0M153.2 246.2h0M240.2 211.6h0M369.9 184.9h0M194.1 219.6h0M114.1 262.2h0M141.0 246.2h0M155.3 248.9h0M227.1 216.9h0M86.9 267.5h0M162.9 248.9h0M238.2 227.5h0M115.7 227.5h0M523.8 118.3h0M111.3 216.9h0M163.6 256.9h0M351.1 187.6h0M221.2 179.6h0M99.9 264.9h0M185.1 246.2h0M76.6 270.2h0M161.1 246.2h0M111.1 251.5h0M203.9 203.6h0M491.2 128.9h0M158.7 256.9h0M233.9 224.9h0M336.3 176.9h0M240.1 227.5h0M130.9 251.5h0M210.9 230.2h0M98.7 264.9h0M237.6 203.6h0M108.0 262.2h0M105.5 262.2h0M374.7 174.2h0M136.7 222.2h0M219.1 232.9h0M156.2 227.5h0M89.0 256.9h0M166.4 240.9h0M103.4 256.9h0M196.7 232.9h0M303.7 211.6h0M81.5 272.9h0M153.9 230.2h0M219.8 238.2h0M132.6 216.9h0M108.5 262.2h0M143.6 227.5h0M255.5 222.2h0M183.8 246.2h0M246.0 227.5h0M89.5 272.9h0M108.6 267.5h0M125.1 262.2h0M97.4 240.9h0M81.3 275.5h0M155.9 256.9h0M280.0 184.9h0M170.8 224.9h0M213.2 214.2h0M303.7 203.6h0M239.8 206.2h0M169.6 248.9h0M79.0 267.5h0M180.0 222.2h0M108.8 224.9h0M282.5 214.2h0M185.2 227.5h0M128.3 248.9h0M211.3 211.6h0M137.0 254.2h0M189.0 216.9h0M198.5 232.9h0M130.9 259.5h0M200.3 240.9h0M106.1 235.5h0M171.1 208.9h0M93.0 254.2h0M127.8 227.5h0M368.7 200.9h0M195.1 243.5h0M363.9 195.6h0M257.4 203.6h0M541.8 134.3h0M374.6 112.9h0M379.6 179.6h0M102.8 259.5h0M100.9 264.9h0M114.0 264.9h0M209.0 224.9h0M341.3 208.9h0M80.2 275.5h0M166.5 235.5h0M515.2 131.6h0M106.7 246.2h0M93.0 232.9h0M155.5 240.9h0M455.4 168.9h0M88.9 272.9h0M240.0 230.2h0M233.9 208.9h0M100.3 272.9h0M143.1 219.6h0M208.5 232.9h0M327.9 200.9h0M196.7 211.6h0M190.6 206.2h0M89.9 275.5h0M312.1 211.6h0M168.7 251.5h0M256.4 200.9h0M180.5 211.6h0M209.9 219.6h0M101.5 254.2h0M343.2 192.9h0M173.1 238.2h0M418.1 155.6h0M133.3 254.2h0M60.1 277.1h0M248.0 198.2h0M116.2 243.5h0M223.9 240.9h0M174.8 243.5h0M150.5 251.5h0M292.9 214.2h0M256.6 222.2h0M94.6 235.5h0M199.8 246.2h0M201.6 230.2h0M517.8 114.0h0M104.4 259.5h0M114.0 259.5h0M212.9 214.2h0M304.0 200.9h0M350.5 184.9h0M129.4 251.5h0M86.0 262.2h0M403.1 182.2h0M498.9 166.2h0M151.4 227.5h0M561.6 134.3h0M299.5 211.6h0M91.5 267.5h0M111.7 267.5h0M78.2 275.5h0M87.8 272.9h0M105.9 240.9h0M120.5 246.2h0M467.7 155.6h0M101.0 251.5h0M538.0 134.3h0M212.5 216.9h0M298.5 190.2h0M113.8 246.2h0M139.4 222.2h0M241.4 211.6h0M99.6 254.2h0M122.6 238.2h0M133.7 256.9h0M327.1 190.2h0M179.8 248.9h0M246.7 200.9h0M141.8 256.9h0M80.8 275.5h0M209.0 227.5h0M165.6 235.5h0M220.5 232.9h0M156.8 232.9h0M133.6 232.9h0M163.9 230.2h0M92.9 267.5h0M165.0 256.9h0M103.4 238.2h0M177.7 254.2h0M78.9 272.9h0M169.4 256.9h0M410.9 184.9h0M119.4 256.9h0M143.3 240.9h0M88.1 264.9h0M320.0 200.9h0M191.7 246.2h0M127.8 238.2h0M238.1 232.9h0M109.6 264.9h0M166.3 238.2h0M61.3 283.5h0M87.8 275.5h0M97.8 259.5h0M103.3 248.9h0M521.8 139.6h0M199.6 208.9h0M208.9 232.9h0M292.9 211.6h0M152.7 243.5h0M184.3 227.5h0M151.1 243.5h0M143.3 251.5h0M97.6 264.9h0M180.4 238.2h0M240.0 214.2h0M120.5 259.5h0M218.1 214.2h0M156.3 214.2h0M188.4 216.9h0M214.0 232.9h0M244.6 211.6h0M124.5 254.2h0M169.2 230.2h0M101.8 272.9h0M116.2 256.9h0M186.9 230.2h0M107.2 240.9h0M84.1 267.5h0M143.7 246.2h0M112.9 240.9h0M223.1 235.5h0M102.2 267.5h0M387.9 192.9h0M178.4 243.5h0M133.1 214.2h0M229.3 214.2h0M102.9 262.2h0M111.7 240.9h0M474.4 155.6h0M115.5 259.5h0M80.5 256.9h0M110.5 267.5h0M170.9 240.9h0M186.5 222.2h0M258.6 208.9h0M439.7 150.3h0M259.8 222.2h0M144.5 251.5h0M89.7 256.9h0M149.4 256.9h0" stroke="#077a9d" stroke-opacity=".72" stroke-width="6.2" stroke-linecap="round" fill="none"/>
<path d="M170.8 227.5h0M230.8 230.2h0M161.3 235.5h0M118.0 238.2h0M93.0 272.9h0M285.6 219.6h0M547.8 147.6h0M134.2 200.9h0M161.6 238.2h0M203.8 243.5h0M418.0 142.3h0M188.4 238.2h0M97.4 238.2h0M132.8 238.2h0M103.0 254.2h0M203.7 208.9h0M116.9 259.5h0M79.1 262.2h0M344.4 203.6h0M115.6 232.9h0M218.0 214.2h0M335.4 192.9h0M137.3 262.2h0M147.1 243.5h0M172.8 230.2h0M187.9 230.2h0M123.1 264.9h0M164.6 235.5h0M89.5 267.5h0M187.6 246.2h0M153.3 254.2h0M299.8 198.2h0M227.1 206.2h0M389.6 163.6h0M116.2 256.9h0M107.1 243.5h0M124.5 251.5h0M156.0 246.2h0M337.4 168.9h0M121.0 259.5h0M307.8 192.9h0M163.2 254.2h0M84.0 272.9h0M251.2 203.6h0M239.2 219.6h0M132.3 190.2h0M211.9 198.2h0M81.0 267.5h0M245.6 206.2h0M125.8 238.2h0M147.5 227.5h0M122.9 256.9h0M246.6 235.5h0M429.9 131.6h0M140.4 259.5h0M266.0 211.6h0M269.7 227.5h0M286.8 195.6h0M91.0 259.5h0M210.7 243.5h0M510.2 131.6h0M110.9 251.5h0M316.5 176.9h0M157.4 254.2h0M89.5 264.9h0M141.0 230.2h0M226.1 192.9h0M189.5 227.5h0M95.2 254.2h0M177.0 246.2h0M109.3 254.2h0M328.7 198.2h0M154.5 243.5h0M396.2 182.2h0M177.3 227.5h0M136.9 256.9h0M154.7 195.6h0M121.0 227.5h0M227.8 224.9h0M113.9 240.9h0M245.7 227.5h0M142.1 256.9h0M103.5 259.5h0M237.0 232.9h0M250.2 208.9h0M438.7 168.9h0M291.1 203.6h0M98.9 246.2h0M210.6 243.5h0M166.9 254.2h0M107.9 246.2h0M404.7 158.3h0M190.7 216.9h0M168.2 230.2h0M405.1 163.6h0M193.1 230.2h0M401.6 171.6h0M163.7 235.5h0M124.4 238.2h0M137.2 248.9h0M139.0 230.2h0M306.2 211.6h0M171.4 238.2h0M129.8 256.9h0M138.9 238.2h0M112.6 254.2h0M165.4 243.5h0M107.5 246.2h0M93.8 267.5h0M293.7 211.6h0M95.1 262.2h0M107.8 254.2h0M171.0 248.9h0M110.9 256.9h0M154.4 235.5h0M117.9 254.2h0M135.9 232.9h0M205.8 222.2h0M221.4 211.6h0M281.2 195.6h0M200.4 222.2h0M125.6 248.9h0M88.6 264.9h0M104.0 246.2h0M239.5 219.6h0M130.1 230.2h0M537.1 150.3h0M115.3 240.9h0M173.0 243.5h0M133.1 238.2h0M183.6 227.5h0M210.8 235.5h0M158.7 222.2h0M157.1 224.9h0M569.0 142.3h0M225.1 224.9h0M282.5 208.9h0M103.8 259.5h0M170.9 251.5h0M270.1 222.2h0M295.9 190.2h0M174.6 235.5h0M88.2 254.2h0M210.4 238.2h0M138.4 251.5h0M113.9 270.2h0M145.1 190.2h0M168.5 243.5h0M188.9 240.9h0M318.9 192.9h0M108.0 259.5h0M101.3 262.2h0M103.3 254.2h0M97.8 272.9h0M513.1 155.6h0M233.4 235.5h0M106.5 248.9h0M96.8 251.5h0M510.5 160.9h0M70.5 278.2h0M500.8 160.9h0M368.1 168.9h0M88.2 275.5h0M123.3 256.9h0M187.6 238.2h0M142.0 219.6h0M153.0 235.5h0M152.9 251.5h0M247.7 232.9h0M138.7 238.2h0M267.1 216.9h0M133.3 238.2h0M125.2 230.2h0M201.3 235.5h0M98.7 262.2h0M127.8 235.5h0M65.2 280.8h0M75.1 275.5h0M275.5 163.6h0M534.0 126.3h0M86.6 270.2h0M201.6 216.9h0M128.8 248.9h0M108.2 246.2h0M296.5 190.2h0M144.4 248.9h0M136.9 259.5h0M209.7 224.9h0M373.7 174.2h0M287.7 163.6h0M333.3 203.6h0M394.9 174.2h0M94.8 270.2h0M365.4 198.2h0M194.2 214.2h0M288.1 198.2h0M208.7 230.2h0M101.1 270.2h0M553.9 142.3h0M306.9 198.2h0M129.0 251.5h0M540.9 120.9h0M513.8 155.6h0M190.4 248.9h0M538.7 155.6h0M228.0 219.6h0M166.0 238.2h0M487.5 142.3h0M129.1 235.5h0M147.7 246.2h0M330.9 184.9h0M68.8 278.2h0M103.7 254.2h0M229.6 232.9h0M108.3 230.2h0M290.6 192.9h0M379.9 198.2h0M209.4 222.2h0M535.8 139.6h0M118.0 256.9h0M96.2 254.2h0M70.8 272.9h0M226.4 216.9h0M109.2 246.2h0M107.2 235.5h0M190.1 243.5h0M207.1 232.9h0M147.0 254.2h0M120.6 262.2h0M109.6 256.9h0M144.4 243.5h0M238.1 227.5h0M143.8 246.2h0M257.6 211.6h0M111.5 259.5h0M157.2 248.9h0M435.9 174.2h0M527.8 158.3h0M217.8 216.9h0M68.8 278.2h0M141.3 256.9h0M134.5 256.9h0M209.4 238.2h0M295.3 208.9h0M130.5 227.5h0M121.2 254.2h0M163.4 248.9h0M138.5 238.2h0M540.5 155.6h0M213.0 243.5h0M73.8 278.2h0M101.5 259.5h0M176.8 240.9h0M163.3 224.9h0" stroke="#077a9d" stroke-opacity=".72" stroke-width="6.2" stroke-linecap="round" fill="none"/>
<path d="M88.8 270.2h0M114.7 264.9h0M254.9 224.9h0M293.2 211.6h0M314.1 195.6h0M130.2 259.5h0M109.9 238.2h0M158.6 243.5h0M132.6 248.9h0M96.6 267.5h0M168.7 248.9h0M318.0 190.2h0M318.9 203.6h0M166.5 240.9h0M103.4 248.9h0M424.6 128.9h0M94.2 267.5h0M282.0 222.2h0M124.6 254.2h0M154.1 230.2h0M536.0 123.6h0M105.3 251.5h0M539.4 136.9h0M197.6 238.2h0M237.1 230.2h0M206.1 227.5h0M517.9 150.3h0M555.8 120.9h0M208.6 200.9h0M89.1 272.9h0M162.7 246.2h0M243.1 224.9h0M117.2 248.9h0M156.8 254.2h0M104.4 259.5h0M216.9 243.5h0M162.0 227.5h0M516.4 142.3h0M293.1 214.2h0M221.4 203.6h0M106.4 264.9h0M353.0 160.9h0M112.0 262.2h0M132.7 219.6h0M148.3 235.5h0M202.0 238.2h0M159.7 235.5h0M206.7 227.5h0M324.8 206.2h0M382.5 187.6h0M120.7 259.5h0M144.6 227.5h0M520.8 142.3h0M203.3 219.6h0M236.9 211.6h0M108.6 256.9h0M102.5 272.9h0M176.3 230.2h0M276.9 203.6h0M204.3 227.5h0M169.4 232.9h0M143.2 259.5h0M137.1 254.2h0M105.9 256.9h0M64.4 254.2h0M132.6 256.9h0M145.9 240.9h0M159.4 227.5h0M79.0 278.2h0M136.1 232.9h0M117.3 256.9h0M124.9 256.9h0M122.2 256.9h0M452.7 179.6h0M190.3 208.9h0M140.8 254.2h0M134.5 238.2h0M475.8 166.2h0M87.7 267.5h0M118.5 246.2h0M154.8 211.6h0M491.4 155.6h0M168.4 243.5h0M93.6 254.2h0M202.7 224.9h0M218.0 200.9h0M518.8 139.6h0M198.7 243.5h0M106.7 240.9h0M341.1 195.6h0M298.8 216.9h0M540.0 150.3h0M83.4 275.5h0M83.4 262.2h0M71.3 270.2h0M202.8 235.5h0M372.2 184.9h0M442.8 158.3h0M177.5 224.9h0M90.7 232.9h0M179.4 246.2h0M87.2 275.5h0M86.6 256.9h0M113.3 235.5h0M157.6 254.2h0M172.3 224.9h0M276.2 216.9h0M322.3 192.9h0M86.4 270.2h0M139.0 224.9h0M128.1 259.5h0M77.6 272.9h0M122.5 248.9h0M158.5 238.2h0M93.1 267.5h0M117.8 256.9h0M80.0 262.2h0M355.8 198.2h0M552.7 128.9h0M148.6 240.9h0M134.1 238.2h0M290.6 211.6h0M178.6 240.9h0M80.3 275.5h0M250.6 208.9h0M170.8 238.2h0M383.2 195.6h0M174.0 254.2h0M151.9 232.9h0M231.9 190.2h0M98.7 254.2h0M287.1 216.9h0M182.7 222.2h0M216.2 222.2h0M103.0 246.2h0M79.0 272.9h0M147.2 243.5h0M157.5 216.9h0M75.3 272.9h0M83.0 259.5h0M157.3 240.9h0M334.7 184.9h0M132.6 246.2h0M113.8 174.2h0M100.0 267.5h0M307.1 184.9h0M440.9 168.9h0M136.6 256.9h0M297.9 214.2h0M82.8 267.5h0M167.0 238.2h0M120.6 259.5h0M167.5 222.2h0M89.5 270.2h0M469.3 112.9h0M143.3 219.6h0M97.7 267.5h0M118.5 251.5h0M266.2 176.9h0M91.9 248.9h0M140.3 240.9h0M102.7 251.5h0M106.9 238.2h0M487.2 126.3h0M108.2 235.5h0M195.9 235.5h0M110.3 240.9h0M424.4 147.6h0M245.8 222.2h0M161.6 235.5h0M418.3 163.6h0M131.5 238.2h0M158.0 219.6h0M150.3 219.6h0M126.1 224.9h0M175.1 248.9h0M117.0 243.5h0M147.0 256.9h0M98.6 248.9h0M276.6 224.9h0M150.8 256.9h0M308.7 200.9h0M109.7 270.2h0M92.9 272.9h0M108.5 251.5h0M169.0 248.9h0M173.5 214.2h0M118.3 251.5h0M170.6 254.2h0M124.6 259.5h0M126.2 238.2h0M81.4 259.5h0M400.0 182.2h0M246.8 211.6h0M186.7 248.9h0M107.6 251.5h0M66.1 275.5h0M163.3 243.5h0M77.0 267.5h0M355.1 200.9h0M155.5 219.6h0M162.6 243.5h0M244.4 235.5h0M210.4 206.2h0M102.8 270.2h0M104.0 259.5h0M187.7 248.9h0M167.3 211.6h0M85.6 264.9h0M375.3 190.2h0M128.5 256.9h0M170.4 235.5h0M202.4 227.5h0M562.5 107.6h0M160.3 227.5h0M389.4 174.2h0M525.5 99.6h0M361.7 163.6h0M113.1 246.2h0M264.5 216.9h0M83.8 262.2h0M279.4 214.2h0M118.2 243.5h0M154.5 251.5h0M452.8 150.3h0M156.7 243.5h0M274.5 222.2h0M137.3 259.5h0M81.1 259.5h0M162.8 248.9h0M449.7 166.2h0M185.4 211.6h0M180.2 227.5h0M266.5 211.6h0M130.0 251.5h0M287.5 206.2h0M114.7 222.2h0M266.2 216.9h0M249.0 198.2h0M276.5 214.2h0M359.7 190.2h0M202.5 246.2h0M273.8 216.9h0M165.0 246.2h0M121.7 232.9h0M82.9 275.5h0M138.0 254.2h0M86.0 262.2h0M275.5 190.2h0M154.9 259.5h0M102.3 235.5h0M83.0 270.2h0M156.9 243.5h0" stroke="#077a9d" stroke-opacity=".72" stroke-width="6.2" stroke-linecap="round" fill="none"/>
<path d="M503.2 152.9h0M142.0 243.5h0M535.4 150.3h0M221.7 184.9h0M115.6 256.9h0M94.8 275.5h0M268.0 230.2h0M439.2 166.2h0M82.6 275.5h0M151.2 230.2h0M336.8 200.9h0M124.5 243.5h0M282.9 208.9h0M174.8 208.9h0M284.9 203.6h0M566.4 142.3h0M132.6 235.5h0M141.2 254.2h0M225.3 230.2h0M132.1 219.6h0M196.2 227.5h0M241.6 128.9h0M204.0 240.9h0M134.6 256.9h0M286.2 182.2h0M378.9 187.6h0M338.2 190.2h0M163.0 248.9h0M153.4 235.5h0M121.4 262.2h0M155.7 243.5h0M257.2 227.5h0M449.7 152.9h0M153.1 235.5h0M255.6 230.2h0M120.9 254.2h0M226.1 222.2h0M349.4 203.6h0M116.2 256.9h0M278.1 222.2h0M78.8 246.2h0M203.1 219.6h0M306.1 203.6h0M244.6 224.9h0M93.3 251.5h0M447.3 179.6h0M189.0 235.5h0M101.7 254.2h0M170.5 243.5h0M154.8 251.5h0M78.8 251.5h0M135.3 248.9h0M387.8 190.2h0M478.1 134.3h0M110.8 259.5h0M137.3 256.9h0M119.5 248.9h0M302.2 190.2h0M77.0 280.8h0M234.7 224.9h0M227.9 235.5h0M90.6 270.2h0M150.0 238.2h0M144.0 259.5h0M98.4 163.6h0M275.5 214.2h0M82.1 275.5h0M123.9 238.2h0M154.0 246.2h0M126.8 248.9h0M168.3 248.9h0M104.1 259.5h0M112.3 264.9h0M174.3 251.5h0M88.5 264.9h0M162.1 219.6h0M90.0 275.5h0M134.0 251.5h0M162.4 251.5h0M306.3 216.9h0M242.5 163.6h0M134.8 232.9h0M236.3 230.2h0M88.4 272.9h0M139.2 256.9h0M93.1 267.5h0M76.9 270.2h0M143.5 235.5h0M125.2 264.9h0M122.8 232.9h0M385.0 182.2h0M146.8 251.5h0M193.6 208.9h0M122.5 267.5h0M165.1 222.2h0M192.3 232.9h0M142.4 259.5h0M186.0 168.9h0M90.7 272.9h0M520.1 131.6h0M192.9 248.9h0M187.2 248.9h0M179.3 238.2h0M111.6 262.2h0M139.1 224.9h0M118.7 230.2h0M116.8 259.5h0M274.0 208.9h0M273.0 158.3h0M88.0 262.2h0M129.6 259.5h0M121.7 262.2h0M197.0 224.9h0M82.3 272.9h0M290.8 208.9h0M224.4 203.6h0M138.3 243.5h0M112.3 235.5h0M174.8 246.2h0M156.1 227.5h0M133.9 240.9h0M509.7 142.3h0M151.2 248.9h0M370.5 195.6h0M103.5 272.9h0M155.8 235.5h0M100.3 267.5h0M155.0 238.2h0M187.0 227.5h0M86.6 248.9h0M359.3 198.2h0M93.3 254.2h0M87.7 254.2h0M233.7 208.9h0M312.5 190.2h0M185.8 224.9h0M179.5 195.6h0M191.7 227.5h0M176.2 235.5h0M139.7 254.2h0M117.5 238.2h0M111.9 248.9h0M100.0 262.2h0M157.4 230.2h0M162.3 254.2h0M208.7 240.9h0M330.7 195.6h0M196.3 243.5h0M116.1 248.9h0M128.1 259.5h0M351.6 182.2h0M112.8 219.6h0M129.5 238.2h0M104.8 262.2h0M175.6 240.9h0M267.8 219.6h0M161.8 232.9h0M139.8 235.5h0M84.2 267.5h0M89.7 275.5h0M134.0 222.2h0M117.8 246.2h0M152.8 219.6h0M143.8 248.9h0M101.1 256.9h0M257.0 216.9h0M257.6 219.6h0M118.7 240.9h0M173.7 246.2h0M73.5 272.9h0M104.2 240.9h0M191.1 206.2h0M173.8 214.2h0M425.3 286.2h0M92.4 272.9h0M137.3 227.5h0M138.8 259.5h0M232.0 232.9h0M106.4 251.5h0M101.0 254.2h0M564.3 131.6h0M140.1 227.5h0M181.5 219.6h0M177.9 214.2h0M224.3 230.2h0M98.0 259.5h0M136.3 243.5h0M288.2 203.6h0M151.6 248.9h0M162.4 235.5h0M79.3 272.9h0M481.6 160.9h0M128.1 256.9h0M227.2 235.5h0M162.0 248.9h0M89.2 262.2h0M153.8 232.9h0M84.8 264.9h0M153.9 227.5h0M169.8 246.2h0M202.5 246.2h0M128.8 232.9h0M129.9 238.2h0M148.1 246.2h0M170.5 232.9h0M102.8 270.2h0M132.6 238.2h0M287.6 222.2h0M108.7 235.5h0M90.3 254.2h0M162.7 216.9h0M175.7 246.2h0M525.5 91.6h0M226.4 232.9h0M283.9 211.6h0M175.4 254.2h0M224.8 238.2h0M345.2 200.9h0M122.2 259.5h0M216.8 230.2h0M103.1 254.2h0M232.1 219.6h0M223.4 232.9h0M238.4 227.5h0M154.1 248.9h0M100.4 272.9h0M141.9 232.9h0M94.5 256.9h0M539.5 123.6h0M155.4 222.2h0M408.1 179.6h0M116.5 214.2h0M227.1 216.9h0M88.7 246.2h0M140.0 251.5h0M196.0 224.9h0M164.9 166.2h0M186.4 232.9h0M224.1 238.2h0M218.8 227.5h0M94.7 259.5h0M93.3 264.9h0M201.0 222.2h0M151.1 208.9h0M113.1 238.2h0M106.4 270.2h0M243.4 216.9h0M151.5 240.9h0M563.8 128.9h0M84.5 270.2h0M144.3 254.2h0M137.6 254.2h0M68.3 262.2h0" stroke="#077a9d" stroke-opacity=".72" stroke-width="6.2" stroke-linecap="round" fill="none"/>
<path d="M103.5 272.9h0M513.2 147.6h0M185.4 155.6h0M123.6 259.5h0M554.9 136.9h0M164.3 248.9h0M516.5 152.9h0M300.7 200.9h0M540.9 49.0h0M203.7 246.2h0M298.1 211.6h0M374.3 184.9h0M398.4 190.2h0M197.6 230.2h0M149.0 235.5h0M461.9 142.3h0M139.3 240.9h0M317.8 211.6h0M164.8 235.5h0M241.0 227.5h0M83.9 254.2h0M486.2 147.6h0M246.5 206.2h0M152.9 235.5h0M210.8 214.2h0M115.9 235.5h0M187.2 216.9h0M132.9 211.6h0M143.3 227.5h0M114.1 246.2h0M240.6 232.9h0M103.3 248.9h0M152.8 238.2h0M101.9 264.9h0M105.9 256.9h0M204.4 230.2h0M130.9 240.9h0M360.0 187.6h0M198.2 248.9h0M83.5 240.9h0M406.2 179.6h0M100.9 256.9h0M131.5 248.9h0M198.7 211.6h0M72.1 270.2h0M77.0 278.2h0M133.1 262.2h0M158.8 238.2h0M180.0 248.9h0M128.9 224.9h0M132.0 259.5h0M111.8 264.9h0M243.7 208.9h0M110.8 264.9h0M463.1 147.6h0M141.4 243.5h0M222.4 222.2h0M123.6 267.5h0M222.1 198.2h0M71.3 278.2h0M254.3 224.9h0M144.1 240.9h0M133.2 254.2h0M107.3 262.2h0M140.1 256.9h0M181.1 240.9h0M137.5 246.2h0M297.3 203.6h0M208.0 224.9h0M170.1 224.9h0M101.6 259.5h0M248.5 219.6h0M558.6 152.9h0M427.3 184.9h0M146.3 259.5h0M170.2 240.9h0M171.6 230.2h0M204.3 216.9h0M110.6 251.5h0M215.7 230.2h0M172.8 224.9h0M117.1 235.5h0M332.8 203.6h0M125.4 262.2h0M127.4 264.9h0M185.2 214.2h0M104.7 264.9h0M249.6 208.9h0M160.2 251.5h0M111.4 248.9h0M242.4 227.5h0M111.2 219.6h0M330.8 206.2h0M306.2 195.6h0M217.1 200.9h0M534.6 139.6h0M234.5 198.2h0M122.2 227.5h0M140.3 224.9h0M223.4 232.9h0M91.0 267.5h0M474.4 120.9h0M163.7 254.2h0M82.8 280.8h0M86.3 259.5h0M112.9 270.2h0M87.2 264.9h0M144.2 254.2h0M263.1 168.9h0M251.6 208.9h0M86.9 272.9h0M201.4 224.9h0M121.1 262.2h0M153.2 246.2h0M65.5 280.8h0M186.5 235.5h0M247.6 214.2h0M222.2 230.2h0M74.9 278.2h0M116.0 262.2h0M110.4 262.2h0M130.6 230.2h0M109.0 256.9h0M100.5 251.5h0M71.6 270.2h0M480.0 144.9h0M87.4 272.9h0M144.8 256.9h0M332.9 182.2h0M126.0 246.2h0M158.7 227.5h0M95.7 259.5h0M64.7 278.2h0M90.4 262.2h0M74.1 272.9h0M115.0 235.5h0M127.3 259.5h0M227.0 224.9h0M320.6 179.6h0M177.0 246.2h0M154.5 243.5h0M109.6 267.5h0M137.9 259.5h0M183.0 230.2h0M458.7 163.6h0M83.7 264.9h0M123.5 243.5h0M109.1 251.5h0M145.9 243.5h0M145.2 216.9h0M190.5 238.2h0M162.3 243.5h0M81.7 275.5h0M102.7 267.5h0M101.9 238.2h0M142.2 246.2h0M82.6 272.9h0M170.0 246.2h0M116.8 251.5h0M244.4 192.9h0M107.2 251.5h0M111.8 248.9h0M121.3 267.5h0M236.7 227.5h0M182.4 251.5h0M103.2 230.2h0M347.7 166.2h0M86.1 256.9h0M91.1 264.9h0M218.0 238.2h0M114.3 235.5h0M357.3 182.2h0M347.4 200.9h0M101.2 262.2h0M153.3 240.9h0M411.1 187.6h0M174.5 214.2h0M568.0 120.9h0M246.0 214.2h0M214.3 224.9h0M163.7 227.5h0M142.4 227.5h0M100.4 248.9h0M75.3 272.9h0M129.6 246.2h0M417.2 166.2h0M154.3 240.9h0M152.0 222.2h0M546.0 94.3h0M318.7 176.9h0M91.9 264.9h0M268.4 200.9h0M76.5 267.5h0M404.0 192.9h0M118.1 251.5h0M225.8 168.9h0M229.9 216.9h0M70.1 280.8h0M557.8 131.6h0M295.1 216.9h0M105.8 264.9h0M116.1 264.9h0M293.1 214.2h0M110.9 259.5h0M200.9 230.2h0M249.0 208.9h0M109.4 232.9h0M207.9 214.2h0M160.8 246.2h0M131.3 227.5h0M68.1 275.5h0M249.3 227.5h0M291.3 214.2h0M202.8 214.2h0M219.9 235.5h0M178.3 224.9h0M183.9 230.2h0M140.8 262.2h0M125.0 235.5h0M117.2 262.2h0M239.0 206.2h0M84.8 272.9h0M197.2 227.5h0M105.1 270.2h0M208.0 240.9h0M169.6 238.2h0M99.1 254.2h0M255.2 222.2h0M164.2 227.5h0M187.5 232.9h0M197.3 246.2h0M187.7 219.6h0M232.6 208.9h0M370.4 174.2h0M205.6 232.9h0M120.3 259.5h0M87.7 270.2h0M334.1 192.9h0M228.1 206.2h0M117.6 248.9h0M273.7 179.6h0M104.3 238.2h0M195.1 227.5h0M88.1 259.5h0M148.6 248.9h0M72.5 275.5h0M199.6 224.9h0M242.8 227.5h0M264.0 211.6h0M306.3 192.9h0M233.0 206.2h0M193.2 238.2h0M295.5 211.6h0" stroke="#077a9d" stroke-opacity=".72" stroke-width="6.2" stroke-linecap="round" fill="none"/>
<path d="M156.0 240.9h0M179.6 224.9h0M253.5 224.9h0M201.4 232.9h0M179.7 246.2h0M190.3 206.2h0M103.1 254.2h0M269.7 219.6h0M160.9 254.2h0M79.1 267.5h0M121.8 254.2h0M118.0 262.2h0M223.4 208.9h0M101.6 267.5h0M180.0 235.5h0M177.2 230.2h0M307.5 192.9h0M255.2 230.2h0M538.3 103.4h0M90.3 232.9h0M82.7 259.5h0M537.2 150.3h0M180.5 246.2h0M190.6 243.5h0M133.5 243.5h0M184.5 246.2h0M310.6 174.2h0M94.6 256.9h0M259.7 224.9h0M321.3 198.2h0M206.3 211.6h0M229.7 174.2h0M517.2 147.6h0M118.9 230.2h0M346.4 182.2h0M102.2 267.5h0M119.7 240.9h0M522.1 152.9h0M328.5 168.9h0M398.0 166.2h0M99.6 259.5h0M90.5 267.5h0M136.4 264.9h0M209.4 232.9h0M119.2 262.2h0M252.8 192.9h0M128.5 259.5h0M169.1 246.2h0M208.8 238.2h0M162.4 230.2h0M123.0 256.9h0M228.5 238.2h0M132.3 248.9h0M100.0 259.5h0M144.1 246.2h0M78.1 278.2h0M186.7 224.9h0M135.7 240.9h0M541.4 152.9h0M190.3 240.9h0M87.4 264.9h0M85.4 275.5h0M275.8 192.9h0M273.9 211.6h0M103.5 254.2h0M138.0 259.5h0M157.4 238.2h0M112.3 270.2h0M172.1 235.5h0M147.3 243.5h0M98.0 259.5h0M430.3 163.6h0M124.7 248.9h0M107.9 246.2h0M150.1 254.2h0M118.2 246.2h0M211.5 227.5h0M95.7 270.2h0M128.5 264.9h0M219.3 227.5h0M109.6 243.5h0M545.5 139.6h0M130.2 238.2h0M116.8 256.9h0M116.0 240.9h0M268.9 187.6h0M144.4 243.5h0M155.7 248.9h0M127.3 230.2h0M106.6 246.2h0M72.8 270.2h0M249.9 214.2h0M109.8 246.2h0M161.5 206.2h0M311.0 195.6h0M161.1 248.9h0M552.4 142.3h0M184.8 216.9h0M101.7 251.5h0M173.3 254.2h0M227.3 238.2h0M341.9 187.6h0M170.5 214.2h0M126.3 222.2h0M143.6 251.5h0M187.3 248.9h0M201.4 224.9h0M80.7 272.9h0M106.1 267.5h0M357.8 171.6h0M148.5 280.3h0M93.7 259.5h0M169.6 227.5h0M245.2 216.9h0M226.7 208.9h0M169.7 240.9h0M138.1 254.2h0M203.4 214.2h0M217.7 243.5h0M114.7 251.5h0M80.9 272.9h0M76.4 275.5h0M137.5 262.2h0M112.2 267.5h0M176.0 246.2h0M176.9 227.5h0M534.1 112.9h0M177.6 248.9h0M77.8 270.2h0M182.9 240.9h0M550.8 139.6h0M273.6 190.2h0M207.4 230.2h0M173.7 211.6h0M296.3 206.2h0M239.4 230.2h0M121.9 224.9h0M371.1 200.9h0M100.5 272.9h0M158.5 246.2h0M334.0 168.9h0M445.4 166.2h0M204.8 235.5h0M374.9 192.9h0M448.1 171.6h0M77.0 275.5h0M105.0 232.9h0M123.3 264.9h0M143.1 222.2h0M184.4 216.9h0M298.3 195.6h0M95.9 251.5h0M353.1 179.6h0M98.5 270.2h0M83.1 262.2h0M103.6 259.5h0M105.7 238.2h0M177.7 240.9h0M83.7 267.5h0M551.0 123.6h0M114.4 270.2h0M510.0 163.6h0M94.5 240.9h0M265.7 216.9h0M244.1 227.5h0M266.9 195.6h0M504.6 134.3h0M178.8 227.5h0M174.4 230.2h0M291.4 216.9h0M304.4 187.6h0M75.6 272.9h0M134.8 243.5h0M82.8 270.2h0M156.6 251.5h0M159.7 256.9h0M179.5 206.2h0M213.9 219.6h0M105.4 248.9h0M174.2 235.5h0M179.4 240.9h0M287.1 216.9h0M253.4 200.9h0M196.6 224.9h0M330.6 208.9h0M176.2 243.5h0M79.6 272.9h0M511.0 139.6h0M436.4 179.6h0M97.3 270.2h0M143.4 243.5h0M361.1 171.6h0M215.7 211.6h0M120.4 256.9h0M510.0 160.9h0M369.4 198.2h0M303.1 190.2h0M152.6 240.9h0M283.4 200.9h0M276.9 216.9h0M165.3 216.9h0M236.4 230.2h0M222.1 200.9h0M320.3 184.9h0M84.8 278.2h0M117.5 267.5h0M546.0 100.7h0M174.8 235.5h0M175.6 227.5h0M136.5 251.5h0M217.3 216.9h0M87.8 262.2h0M103.5 251.5h0M270.9 224.9h0M135.1 219.6h0M108.9 259.5h0M135.9 230.2h0M224.6 232.9h0M113.5 238.2h0M141.5 246.2h0M75.2 272.9h0M71.1 278.2h0M229.9 211.6h0M526.8 144.9h0M210.3 224.9h0M132.8 251.5h0M82.3 278.2h0M522.9 150.3h0M187.9 230.2h0M159.8 235.5h0M124.0 243.5h0M375.2 190.2h0M109.8 238.2h0M180.7 248.9h0M289.7 206.2h0M140.4 243.5h0M139.2 254.2h0M113.9 270.2h0M246.1 208.9h0M108.9 248.9h0M444.0 176.9h0M107.0 235.5h0M190.6 208.9h0M173.9 222.2h0M240.3 227.5h0M132.7 259.5h0M402.9 182.2h0M261.4 222.2h0M148.9 235.5h0M165.2 248.9h0M118.1 240.9h0M150.0 232.9h0M146.5 254.2h0" stroke="#077a9d" stroke-opacity=".72" stroke-width="6.2" stroke-linecap="round" fill="none"/>
<path d="M139.7 259.5h0M100.9 267.5h0M515.4 158.3h0M151.6 254.2h0M94.1 259.5h0M180.1 211.6h0M257.2 211.6h0M423.1 163.6h0M170.0 222.2h0M90.9 267.5h0M89.9 267.5h0M231.7 227.5h0M197.1 240.9h0M101.0 267.5h0M222.1 240.9h0M91.8 264.9h0M141.0 246.2h0M211.9 227.5h0M298.8 211.6h0M109.0 254.2h0M169.6 238.2h0M125.1 259.5h0M498.1 168.9h0M111.9 267.5h0M167.9 243.5h0M439.1 179.6h0M120.2 243.5h0M275.5 208.9h0M194.9 222.2h0M148.8 259.5h0M429.7 155.6h0M155.6 254.2h0M283.4 182.2h0M131.8 243.5h0M105.6 254.2h0M105.1 256.9h0M329.0 203.6h0M140.8 219.6h0M309.0 203.6h0M101.7 240.9h0M101.1 256.9h0M259.3 214.2h0M276.5 211.6h0M104.2 259.5h0M301.5 195.6h0M180.3 246.2h0M125.2 238.2h0M185.5 246.2h0M145.2 230.2h0M167.5 243.5h0M120.1 227.5h0M112.9 235.5h0M100.2 251.5h0M465.0 152.9h0M152.3 256.9h0M157.0 254.2h0M246.5 200.9h0M189.5 235.5h0M95.3 254.2h0M262.5 222.2h0M509.2 160.9h0M122.0 254.2h0M399.4 187.6h0M77.1 267.5h0M194.6 248.9h0M437.1 144.9h0M158.8 224.9h0M240.9 222.2h0M99.4 259.5h0M131.0 246.2h0M171.1 227.5h0M93.8 259.5h0M151.6 214.2h0M178.5 214.2h0M117.6 227.5h0M495.8 136.9h0M179.1 208.9h0M113.3 224.9h0M76.4 264.9h0M108.9 270.2h0M172.0 190.2h0M448.8 120.9h0M197.0 208.9h0M136.4 227.5h0M126.0 259.5h0M169.1 238.2h0M149.4 240.9h0M168.8 251.5h0M107.0 240.9h0M228.7 224.9h0M133.7 256.9h0M361.8 163.6h0M300.0 219.6h0M112.4 235.5h0M134.2 248.9h0M175.1 243.5h0M232.8 227.5h0M126.4 240.9h0M128.1 251.5h0M171.9 235.5h0M188.0 224.9h0M185.2 227.5h0M108.0 267.5h0M414.1 163.6h0M98.1 256.9h0M403.6 158.3h0M121.0 262.2h0M151.3 251.5h0M499.4 139.6h0M303.9 208.9h0M416.1 168.9h0M358.7 171.6h0M471.2 150.3h0M353.7 150.3h0M125.6 251.5h0M117.6 246.2h0M155.6 235.5h0M189.6 232.9h0M298.9 211.6h0M273.2 211.6h0M120.5 227.5h0M263.2 192.9h0M199.5 240.9h0M540.6 123.6h0M546.5 123.6h0M153.5 251.5h0M329.0 171.6h0M173.0 240.9h0M94.2 254.2h0M447.6 174.2h0M206.3 238.2h0M325.8 208.9h0M140.4 259.5h0M94.2 240.9h0M204.3 235.5h0M163.4 238.2h0M134.7 254.2h0M300.8 203.6h0M149.8 256.9h0M340.4 206.2h0M113.3 254.2h0M133.2 227.5h0M195.5 246.2h0M105.8 230.2h0M358.2 192.9h0M167.6 248.9h0M280.8 206.2h0M77.4 270.2h0M83.8 264.9h0M85.3 264.9h0M145.6 224.9h0M112.9 264.9h0M80.9 262.2h0M450.2 136.9h0M130.8 262.2h0M217.2 214.2h0M139.8 248.9h0M515.6 147.6h0M109.3 227.5h0M92.3 270.2h0M108.0 230.2h0M321.6 203.6h0M232.6 224.9h0M121.9 262.2h0M147.8 227.5h0M99.3 259.5h0M162.5 248.9h0M186.3 248.9h0M226.7 224.9h0M120.1 246.2h0M79.6 275.5h0M128.5 256.9h0M134.4 240.9h0M92.6 251.5h0M427.3 176.9h0M396.1 190.2h0M198.9 243.5h0M70.9 278.2h0M229.6 214.2h0M155.1 248.9h0M142.9 251.5h0M85.8 264.9h0M108.6 254.2h0M344.6 198.2h0M89.5 256.9h0M312.8 214.2h0M143.1 246.2h0M72.8 272.9h0M159.2 219.6h0M92.3 270.2h0M125.0 259.5h0M85.8 262.2h0M124.8 254.2h0M159.9 230.2h0M166.8 230.2h0M349.7 190.2h0M87.1 238.2h0M114.8 262.2h0M130.2 224.9h0M127.7 224.9h0M84.3 275.5h0M237.7 219.6h0M66.8 280.8h0M394.0 166.2h0M299.1 195.6h0M133.5 264.9h0M107.2 256.9h0M135.9 262.2h0M96.1 262.2h0M225.7 206.2h0M101.7 264.9h0M127.4 264.9h0M176.1 246.2h0M114.5 251.5h0M248.4 190.2h0M229.4 230.2h0M256.1 232.9h0M266.6 203.6h0M170.2 211.6h0M280.9 219.6h0M219.7 195.6h0M141.7 240.9h0M118.8 259.5h0M193.7 235.5h0M201.2 238.2h0M162.5 214.2h0M101.0 246.2h0M233.1 200.9h0M105.6 254.2h0M110.8 254.2h0M110.2 238.2h0M282.1 211.6h0M274.2 195.6h0M163.3 238.2h0M177.9 227.5h0" stroke="#ffab00" stroke-opacity=".72" stroke-width="6.2" stroke-linecap="round" fill="none"/>
<path d="M107.6 238.2h0M84.2 267.5h0M147.0 243.5h0M556.3 136.9h0M130.2 256.9h0M353.0 179.6h0M184.0 248.9h0M78.7 275.5h0M187.2 240.9h0M84.3 272.9h0M137.6 230.2h0M133.6 259.5h0M112.3 243.5h0M103.5 259.5h0M69.5 278.2h0M204.4 206.2h0M153.9 259.5h0M385.8 160.9h0M240.0 230.2h0M423.6 166.2h0M181.0 243.5h0M76.0 275.5h0M394.8 171.6h0M219.5 224.9h0M87.9 267.5h0M80.6 259.5h0M132.7 259.5h0M216.4 214.2h0M167.5 251.5h0M488.4 152.9h0M133.2 262.2h0M223.4 222.2h0M107.7 246.2h0M248.6 230.2h0M131.2 246.2h0M121.9 267.5h0M196.2 230.2h0M95.2 240.9h0M107.3 243.5h0M419.7 155.6h0M96.5 246.2h0M183.8 208.9h0M229.5 203.6h0M193.4 248.9h0M113.0 264.9h0M200.5 232.9h0M234.5 238.2h0M404.7 171.6h0M137.2 238.2h0M72.5 264.9h0M216.8 224.9h0M391.8 158.3h0M264.2 182.2h0M482.8 168.9h0M112.5 262.2h0M109.2 262.2h0M110.0 235.5h0M148.7 235.5h0M118.8 235.5h0M446.7 163.6h0M150.4 211.6h0M90.3 262.2h0M108.0 243.5h0M118.6 235.5h0M73.2 230.2h0M163.7 243.5h0M208.6 243.5h0M195.4 246.2h0M158.7 246.2h0M134.0 240.9h0M311.0 211.6h0M194.0 214.2h0M215.8 230.2h0M98.1 264.9h0M270.3 198.2h0M312.6 214.2h0M98.6 251.5h0M238.5 206.2h0M100.5 238.2h0M243.0 222.2h0M143.5 256.9h0M87.9 254.2h0M94.0 248.9h0M161.4 243.5h0M551.4 152.9h0M194.5 246.2h0M119.1 227.5h0M110.8 235.5h0M190.0 224.9h0M88.7 272.9h0M156.6 248.9h0M214.4 214.2h0M87.7 259.5h0M79.4 267.5h0M110.3 246.2h0M155.7 251.5h0M135.3 251.5h0M92.7 267.5h0M187.0 227.5h0M231.2 222.2h0M142.8 254.2h0M121.5 254.2h0M147.2 262.2h0M142.4 230.2h0M186.5 214.2h0M83.8 272.9h0M103.0 238.2h0M133.5 232.9h0M211.4 243.5h0M127.5 262.2h0M70.3 267.5h0M131.2 251.5h0M103.6 264.9h0M336.5 187.6h0M428.7 168.9h0M150.6 224.9h0M302.7 198.2h0M212.6 214.2h0M192.7 246.2h0M232.0 235.5h0M244.4 224.9h0M137.8 219.6h0M250.3 230.2h0M184.0 240.9h0M192.0 219.6h0M125.6 262.2h0M142.0 216.9h0M155.6 240.9h0M100.8 246.2h0M240.1 203.6h0M210.8 222.2h0M130.9 248.9h0M279.0 206.2h0M210.6 227.5h0M97.6 251.5h0M258.0 227.5h0M106.2 246.2h0M97.0 267.5h0M75.2 272.9h0M174.5 227.5h0M167.0 238.2h0M187.6 248.9h0M320.8 192.9h0M189.9 230.2h0M127.4 235.5h0M161.4 251.5h0M117.6 267.5h0M283.7 187.6h0M337.7 176.9h0M172.3 230.2h0M234.1 238.2h0M488.5 155.6h0M101.3 243.5h0M535.8 118.8h0M345.1 206.2h0M137.9 246.2h0M183.5 230.2h0M307.1 299.5h0M99.8 267.5h0M350.9 171.6h0M103.2 270.2h0M159.4 232.9h0M216.3 206.2h0M336.3 200.9h0M258.2 227.5h0M119.0 264.9h0M228.5 232.9h0M115.5 270.2h0M166.2 243.5h0M156.6 222.2h0M142.6 256.9h0M172.5 235.5h0M158.4 238.2h0M201.0 227.5h0M180.4 224.9h0M149.5 240.9h0M111.3 235.5h0M98.6 248.9h0M123.4 248.9h0M170.8 230.2h0M99.8 262.2h0M167.6 238.2h0M123.9 243.5h0M81.8 272.9h0M108.8 240.9h0M168.4 224.9h0M135.5 246.2h0M487.9 163.6h0M208.2 243.5h0M294.9 208.9h0M413.6 168.9h0M87.0 262.2h0M155.7 256.9h0M81.1 278.2h0M259.2 214.2h0M76.0 262.2h0M479.3 147.6h0M87.1 259.5h0M145.5 254.2h0M128.5 246.2h0M151.0 230.2h0M253.8 227.5h0M156.5 243.5h0M229.9 230.2h0M123.1 230.2h0M108.3 264.9h0M191.0 232.9h0M201.0 238.2h0M189.9 243.5h0M74.7 262.2h0M422.5 144.9h0M491.4 168.9h0M286.6 211.6h0M129.1 235.5h0M191.1 246.2h0M151.0 238.2h0M111.5 264.9h0M434.0 152.9h0M233.6 208.9h0M176.3 251.5h0M88.1 256.9h0M424.5 176.9h0M95.4 270.2h0M280.3 190.2h0M354.8 198.2h0M95.5 243.5h0M108.4 256.9h0M563.2 105.0h0M164.8 251.5h0M198.7 227.5h0M151.4 240.9h0M326.2 163.6h0M532.9 150.3h0M181.1 230.2h0M97.9 267.5h0" stroke="#ffab00" stroke-opacity=".72" stroke-width="6.2" stroke-linecap="round" fill="none"/>
<path d="M112.4 246.2h0M108.8 248.9h0M174.4 246.2h0M90.4 270.2h0M104.5 227.5h0M121.7 264.9h0M205.9 214.2h0M389.1 195.6h0M153.6 251.5h0M151.9 238.2h0M170.6 227.5h0M297.6 206.2h0M431.9 179.6h0M173.7 248.9h0M283.9 214.2h0M232.6 203.6h0M76.3 264.9h0M124.3 248.9h0M90.3 251.5h0M91.3 254.2h0M106.1 270.2h0M83.0 267.5h0M256.4 211.6h0M119.2 243.5h0M98.7 272.9h0M104.4 238.2h0M229.3 230.2h0M174.8 240.9h0M99.0 256.9h0M145.0 251.5h0M99.8 259.5h0M216.5 222.2h0M207.2 219.6h0M171.3 235.5h0M451.4 59.7h0M80.0 254.2h0M224.3 214.2h0M116.8 259.5h0M105.8 240.9h0M436.5 171.6h0M124.9 251.5h0M221.7 230.2h0M227.8 222.2h0M263.2 224.9h0M125.2 246.2h0M155.2 227.5h0M182.5 211.6h0M182.6 232.9h0M164.4 198.2h0M127.6 259.5h0M177.2 243.5h0M349.9 190.2h0M165.6 240.9h0M77.5 264.9h0M167.2 238.2h0M111.6 254.2h0M127.3 248.9h0M224.6 227.5h0M261.5 203.6h0M184.4 232.9h0M172.0 219.6h0M84.9 259.5h0M384.0 190.2h0M283.6 182.2h0M234.6 224.9h0M165.3 248.9h0M130.9 240.9h0M102.7 248.9h0M315.4 206.2h0M108.2 254.2h0M169.1 256.9h0M114.7 256.9h0M140.8 256.9h0M148.3 219.6h0M190.8 227.5h0M174.9 227.5h0M196.2 238.2h0M138.2 224.9h0M481.7 147.6h0M139.8 254.2h0M212.5 219.6h0M133.4 259.5h0M327.6 208.9h0M327.2 203.6h0M203.9 232.9h0M138.4 235.5h0M231.7 230.2h0M131.5 248.9h0M385.6 163.6h0M277.6 208.9h0M72.6 275.5h0M249.0 192.9h0M119.4 251.5h0M367.8 182.2h0M257.2 211.6h0M392.8 166.2h0M195.6 224.9h0M344.9 206.2h0M163.3 222.2h0M160.7 248.9h0M117.9 264.9h0M106.7 254.2h0M156.6 230.2h0M79.7 272.9h0M343.8 203.6h0M114.2 267.5h0M231.0 224.9h0M171.7 222.2h0M139.7 251.5h0M264.3 219.6h0M79.9 246.2h0M141.6 240.9h0M71.5 264.9h0M71.2 243.5h0M176.0 224.9h0M287.0 206.2h0M78.9 264.9h0M172.8 238.2h0M250.6 224.9h0M129.0 251.5h0M170.8 232.9h0M353.9 184.9h0M191.7 230.2h0M176.4 248.9h0M121.2 254.2h0M129.9 243.5h0M324.7 190.2h0M109.0 248.9h0M109.2 259.5h0M148.4 227.5h0M171.9 238.2h0M158.8 251.5h0M101.2 262.2h0M215.6 230.2h0M171.2 240.9h0M209.2 222.2h0M105.3 248.9h0M107.5 232.9h0M92.4 272.9h0M74.6 267.5h0M105.4 232.9h0M255.9 206.2h0M140.1 222.2h0M145.0 240.9h0M121.0 248.9h0M145.8 262.2h0M329.3 198.2h0M221.9 235.5h0M484.2 126.3h0M106.4 254.2h0M357.3 195.6h0M123.1 230.2h0M70.2 280.8h0M104.5 254.2h0M98.8 264.9h0M147.2 211.6h0M188.7 243.5h0M164.2 227.5h0M277.9 224.9h0M102.3 251.5h0M405.5 190.2h0M110.5 254.2h0M195.9 238.2h0M466.2 147.6h0M229.1 219.6h0M191.5 246.2h0M78.9 272.9h0M101.0 262.2h0M146.3 246.2h0M231.3 219.6h0M126.7 230.2h0M327.1 214.2h0M296.1 208.9h0M198.8 246.2h0M174.1 219.6h0M87.1 264.9h0M82.7 270.2h0M86.8 270.2h0M84.1 238.2h0M401.1 184.9h0M97.0 259.5h0M108.1 254.2h0M172.0 254.2h0M88.6 262.2h0M270.8 224.9h0M111.2 259.5h0M113.5 262.2h0M115.8 270.2h0M138.6 227.5h0M229.9 206.2h0M100.5 238.2h0M145.1 224.9h0M490.6 139.6h0M162.9 246.2h0M92.2 254.2h0M160.4 256.9h0M273.4 222.2h0M188.1 246.2h0M89.7 275.5h0M119.6 246.2h0M86.0 254.2h0M120.1 238.2h0M149.9 216.9h0M179.4 248.9h0M73.8 278.2h0M222.1 208.9h0M110.3 270.2h0M166.4 246.2h0M197.9 246.2h0M93.5 251.5h0M140.2 243.5h0M108.9 259.5h0M100.4 235.5h0M245.3 214.2h0M312.1 179.6h0M176.7 208.9h0M150.8 254.2h0M286.8 206.2h0M369.1 179.6h0M184.6 235.5h0M122.1 259.5h0M170.0 251.5h0M193.4 243.5h0M119.1 211.6h0M248.6 216.9h0M80.9 264.9h0M258.0 214.2h0M120.2 251.5h0M167.7 256.9h0M215.2 216.9h0M147.8 232.9h0M118.0 262.2h0M98.8 259.5h0M187.2 214.2h0M211.0 222.2h0" stroke="#ffab00" stroke-opacity=".72" stroke-width="6.2" stroke-linecap="round" fill="none"/>
<path d="M265.6 219.6h0M89.2 267.5h0M89.6 267.5h0M204.9 227.5h0M180.3 97.0h0M112.5 248.9h0M381.3 174.2h0M81.8 278.2h0M75.7 267.5h0M188.3 238.2h0M129.2 256.9h0M221.1 230.2h0M162.3 256.9h0M228.6 214.2h0M158.1 246.2h0M181.1 214.2h0M156.2 187.6h0M214.3 219.6h0M258.8 224.9h0M171.1 243.5h0M371.4 182.2h0M205.9 235.5h0M166.8 251.5h0M89.9 251.5h0M253.0 222.2h0M237.7 230.2h0M126.4 235.5h0M127.4 235.5h0M108.8 256.9h0M78.5 278.2h0M301.9 179.6h0M224.3 230.2h0M175.4 219.6h0M188.0 235.5h0M131.8 264.9h0M492.2 168.9h0M116.7 246.2h0M214.2 235.5h0M190.1 216.9h0M66.0 278.2h0M399.8 171.6h0M86.9 278.2h0M426.6 160.9h0M122.6 264.9h0M136.8 240.9h0M282.9 211.6h0M210.4 227.5h0M203.3 230.2h0M181.9 240.9h0M350.7 187.6h0M185.4 176.9h0M83.3 267.5h0M159.4 251.5h0M86.6 259.5h0M107.8 235.5h0M132.8 264.9h0M125.3 267.5h0M186.6 232.9h0M181.6 216.9h0M155.4 254.2h0M349.1 190.2h0M69.9 272.9h0M171.4 243.5h0M178.1 243.5h0M124.3 256.9h0M95.3 264.9h0M438.5 160.9h0M174.7 240.9h0M142.0 254.2h0M513.7 144.9h0M168.7 224.9h0M429.6 166.2h0M94.3 270.2h0M98.2 272.9h0M143.5 256.9h0M365.0 203.6h0M195.8 214.2h0M90.0 264.9h0M122.7 256.9h0M104.3 235.5h0M115.9 248.9h0M277.8 206.2h0M94.2 246.2h0M269.6 227.5h0M165.5 235.5h0M172.9 232.9h0M196.4 238.2h0M438.1 160.9h0M100.6 251.5h0M121.9 262.2h0M540.1 150.3h0M182.2 232.9h0M211.2 232.9h0M213.0 230.2h0M97.4 256.9h0M367.5 200.9h0M254.9 211.6h0M205.9 227.5h0M284.9 200.9h0M404.0 168.9h0M120.5 254.2h0M164.4 240.9h0M134.2 254.2h0M328.4 198.2h0M246.0 232.9h0M225.8 286.2h0M119.4 246.2h0M92.7 243.5h0M394.3 187.6h0M244.6 211.6h0M64.0 278.2h0M86.4 278.2h0M206.0 214.2h0M172.6 240.9h0M144.8 216.9h0M108.5 256.9h0M451.5 174.2h0M108.8 251.5h0M214.8 227.5h0M291.0 219.6h0M123.7 240.9h0M93.5 259.5h0M376.6 195.6h0M240.8 211.6h0M80.7 275.5h0M131.3 262.2h0M222.3 206.2h0M169.8 224.9h0M239.9 219.6h0M173.7 240.9h0M212.6 214.2h0M215.8 222.2h0M221.6 232.9h0M117.1 267.5h0M80.8 264.9h0M66.1 275.5h0M172.4 214.2h0M86.4 262.2h0M177.7 219.6h0M76.5 270.2h0M169.6 248.9h0M108.4 251.5h0M142.1 230.2h0M205.1 235.5h0M195.4 238.2h0M356.8 198.2h0M137.2 254.2h0M416.1 184.9h0M82.4 264.9h0M260.6 227.5h0M100.5 272.9h0M258.6 190.2h0M92.1 267.5h0M163.8 230.2h0M135.9 254.2h0M156.5 246.2h0M96.6 240.9h0M119.5 259.5h0M89.8 270.2h0M133.7 264.9h0M289.0 208.9h0M101.8 248.9h0M180.8 211.6h0M298.0 219.6h0M150.9 230.2h0M206.7 243.5h0M101.7 243.5h0M186.2 235.5h0M341.3 184.9h0M382.8 182.2h0M525.5 134.3h0M222.3 219.6h0M363.8 182.2h0M191.6 227.5h0M172.2 227.5h0M528.1 118.3h0M183.6 248.9h0M206.2 224.9h0M233.0 238.2h0M207.7 224.9h0M99.5 262.2h0M128.5 224.9h0M500.9 99.6h0M158.8 256.9h0M144.3 214.2h0M449.9 179.6h0M267.2 208.9h0M120.4 262.2h0M208.4 230.2h0M409.0 171.6h0M130.4 254.2h0M130.6 259.5h0M113.5 262.2h0M348.5 200.9h0M113.0 256.9h0M410.2 184.9h0M189.8 219.6h0M517.4 120.9h0M114.9 246.2h0M92.5 272.9h0M313.0 200.9h0M396.9 174.2h0M180.8 232.9h0M517.7 152.9h0M108.5 262.2h0M210.7 214.2h0M87.6 264.9h0M105.0 267.5h0M163.3 222.2h0M218.1 206.2h0M239.0 192.9h0M147.8 232.9h0M167.4 240.9h0M116.6 254.2h0M127.5 224.9h0M380.4 166.2h0M154.1 224.9h0M360.4 195.6h0M222.6 227.5h0M266.3 227.5h0M360.2 168.9h0M123.6 248.9h0M128.2 240.9h0M81.0 272.9h0M163.7 254.2h0M157.1 254.2h0M130.6 235.5h0M166.6 224.9h0M215.9 206.2h0M133.6 240.9h0M168.9 232.9h0M218.9 224.9h0M174.0 219.6h0M88.0 256.9h0M184.9 240.9h0" stroke="#ffab00" stroke-opacity=".72" stroke-width="6.2" stroke-linecap="round" fill="none"/>
<path d="M556.1 120.9h0M343.1 184.9h0M167.7 230.2h0M267.6 195.6h0M197.2 222.2h0M213.2 230.2h0M235.1 195.6h0M183.9 240.9h0M132.8 264.9h0M140.6 256.9h0M167.3 251.5h0M477.3 144.9h0M337.5 190.2h0M131.7 240.9h0M196.4 246.2h0M263.2 195.6h0M92.7 256.9h0M67.6 275.5h0M138.1 238.2h0M149.3 259.5h0M472.6 139.6h0M433.0 171.6h0M397.3 179.6h0M186.9 222.2h0M212.4 243.5h0M116.0 259.5h0M126.5 256.9h0M149.2 246.2h0M112.9 211.6h0M124.4 264.9h0M85.7 251.5h0M116.7 264.9h0M128.2 238.2h0M168.9 235.5h0M128.3 198.2h0M107.5 243.5h0M108.8 240.9h0M161.1 240.9h0M106.2 259.5h0M262.3 222.2h0M111.1 248.9h0M91.7 262.2h0M150.3 232.9h0M103.5 232.9h0M208.3 216.9h0M133.2 216.9h0M274.4 187.6h0M118.1 262.2h0M104.9 262.2h0M361.6 179.6h0M229.5 216.9h0M215.4 230.2h0M168.5 232.9h0M327.1 200.9h0M132.2 259.5h0M125.5 262.2h0M81.7 272.9h0M133.7 254.2h0M476.1 139.6h0M162.2 243.5h0M97.2 248.9h0M77.5 280.8h0M99.3 248.9h0M235.3 224.9h0M71.8 272.9h0M229.9 224.9h0M376.0 163.6h0M196.3 224.9h0M80.1 256.9h0M105.9 254.2h0M156.8 254.2h0M221.5 240.9h0M104.4 235.5h0M536.0 147.6h0M442.4 147.6h0M86.3 264.9h0M105.3 272.9h0M78.4 278.2h0M431.5 158.3h0M160.7 240.9h0M109.3 238.2h0M185.5 216.9h0M184.4 230.2h0M172.1 224.9h0M142.3 227.5h0M203.0 227.5h0M231.3 206.2h0M428.6 168.9h0M85.3 256.9h0M155.2 259.5h0M424.0 160.9h0M89.7 267.5h0M86.0 262.2h0M103.5 227.5h0M314.7 211.6h0M114.4 248.9h0M348.4 206.2h0M123.2 222.2h0M115.6 264.9h0M493.6 131.6h0M127.2 238.2h0M88.4 259.5h0M121.9 240.9h0M112.8 262.2h0M78.9 262.2h0M307.5 198.2h0M164.0 251.5h0M532.4 142.3h0M289.7 211.6h0M191.4 219.6h0M562.1 131.6h0M193.8 238.2h0M213.9 224.9h0M111.3 270.2h0M159.1 219.6h0M113.7 219.6h0M179.4 208.9h0M79.0 262.2h0M119.8 254.2h0M125.9 243.5h0M103.5 267.5h0M80.1 264.9h0M395.9 158.3h0M118.8 256.9h0M173.6 235.5h0M133.8 259.5h0M118.1 267.5h0M187.8 224.9h0M165.7 256.9h0M470.7 136.9h0M142.8 259.5h0M231.8 238.2h0M341.6 171.6h0M405.9 158.3h0M204.1 214.2h0M80.3 278.2h0M202.9 243.5h0M201.5 230.2h0M187.6 230.2h0M119.4 227.5h0M286.3 203.6h0M149.1 243.5h0M116.7 246.2h0M343.9 206.2h0M432.3 171.6h0M271.9 208.9h0M125.8 267.5h0M174.1 232.9h0M119.2 262.2h0M179.7 240.9h0M344.9 171.6h0M163.4 243.5h0M116.4 240.9h0M231.4 222.2h0M510.0 150.3h0M164.6 230.2h0M282.4 219.6h0M162.4 254.2h0M112.0 262.2h0M235.7 227.5h0M144.4 251.5h0M106.0 270.2h0M254.1 214.2h0M101.1 232.9h0M226.2 222.2h0M328.4 184.9h0M93.6 256.9h0M123.8 246.2h0M197.2 227.5h0M100.9 264.9h0M199.6 211.6h0M134.2 240.9h0M87.6 259.5h0M117.8 224.9h0M89.5 256.9h0M82.0 227.5h0M100.7 262.2h0M134.7 238.2h0M120.7 259.5h0M501.2 166.2h0M444.2 142.3h0M294.1 184.9h0M411.7 176.9h0M145.0 251.5h0M167.8 254.2h0M108.8 246.2h0M135.0 264.9h0M394.9 160.9h0M121.4 262.2h0M165.4 248.9h0M105.3 267.5h0M143.1 246.2h0M153.7 238.2h0M155.7 219.6h0M475.3 168.9h0M229.1 182.2h0M69.6 275.5h0M185.5 235.5h0M382.3 187.6h0M102.2 270.2h0M85.4 262.2h0M109.9 243.5h0M129.7 264.9h0M177.3 238.2h0M239.9 211.6h0M184.3 232.9h0M149.1 251.5h0M270.9 203.6h0M111.7 246.2h0M88.5 256.9h0M516.3 144.9h0M317.6 184.9h0M123.8 259.5h0M94.9 248.9h0M195.3 246.2h0M104.4 259.5h0M95.1 272.9h0M74.0 278.2h0M105.4 262.2h0M141.9 251.5h0M124.7 243.5h0M363.8 187.6h0M161.9 251.5h0M397.5 184.9h0M115.3 240.9h0M147.8 227.5h0M353.1 198.2h0M191.6 238.2h0M92.2 256.9h0M249.5 203.6h0M303.8 198.2h0M124.5 240.9h0M171.4 248.9h0M219.8 206.2h0" stroke="#ffab00" stroke-opacity=".72" stroke-width="6.2" stroke-linecap="round" fill="none"/>
<path d="M178.5 230.2h0M173.5 222.2h0M271.6 216.9h0M186.7 240.9h0M87.8 267.5h0M177.3 235.5h0M121.2 248.9h0M180.9 227.5h0M170.9 235.5h0M96.6 262.2h0M87.2 270.2h0M171.0 227.5h0M77.8 270.2h0M352.9 195.6h0M94.1 248.9h0M145.7 224.9h0M270.8 224.9h0M160.8 222.2h0M76.9 278.2h0M256.1 214.2h0M314.6 192.9h0M342.2 192.9h0M110.1 248.9h0M85.0 267.5h0M75.5 278.2h0M194.8 232.9h0M190.3 240.9h0M178.2 203.6h0M92.2 259.5h0M164.8 248.9h0M104.8 259.5h0M163.6 208.9h0M166.3 211.6h0M255.8 216.9h0M112.6 251.5h0M114.1 267.5h0M459.9 144.9h0M435.4 147.6h0M162.1 251.5h0M107.3 203.6h0M146.3 254.2h0M163.3 227.5h0M185.4 248.9h0M438.9 176.9h0M257.2 216.9h0M173.9 224.9h0M93.4 259.5h0M151.0 230.2h0M115.6 259.5h0M252.6 211.6h0M117.7 248.9h0M97.7 248.9h0M156.9 248.9h0M445.1 152.9h0M134.3 259.5h0M108.2 262.2h0M99.1 259.5h0M426.1 171.6h0M133.8 246.2h0M225.6 232.9h0M82.2 272.9h0M140.8 248.9h0M260.5 200.9h0M214.1 235.5h0M233.3 238.2h0M318.6 203.6h0M304.5 206.2h0M480.3 150.3h0M122.7 248.9h0M105.1 230.2h0M88.4 275.5h0M511.5 147.6h0M469.0 152.9h0M158.5 256.9h0M254.2 190.2h0M117.7 259.5h0M104.0 238.2h0M311.1 195.6h0M142.1 227.5h0M225.1 219.6h0M71.9 272.9h0M135.8 243.5h0M168.0 246.2h0M168.6 243.5h0M87.1 264.9h0M199.2 240.9h0M232.0 227.5h0M209.4 235.5h0M379.7 86.3h0M231.2 203.6h0M107.3 264.9h0M120.3 256.9h0M105.0 270.2h0M87.6 262.2h0M72.6 272.9h0M205.8 230.2h0M468.8 144.9h0M147.0 243.5h0M131.1 240.9h0M117.3 267.5h0M114.6 208.9h0M141.5 243.5h0M143.4 238.2h0M158.9 248.9h0M127.2 243.5h0M85.4 272.9h0M135.2 251.5h0M213.0 243.5h0M208.5 232.9h0M107.2 240.9h0M88.8 272.9h0M406.7 171.6h0M145.5 224.9h0M126.8 262.2h0M97.1 259.5h0M204.2 235.5h0M204.3 235.5h0M116.6 259.5h0M99.2 259.5h0M95.7 259.5h0M282.5 190.2h0M113.9 264.9h0M178.1 240.9h0M237.2 206.2h0M106.9 267.5h0M249.2 198.2h0M98.6 275.5h0M92.9 259.5h0M134.3 246.2h0M121.6 256.9h0M100.7 259.5h0M134.9 254.2h0M147.0 240.9h0M245.6 211.6h0M176.9 251.5h0M167.6 243.5h0M123.2 232.9h0M144.4 243.5h0M108.7 259.5h0M355.1 192.9h0M345.2 206.2h0M98.0 272.9h0M85.6 256.9h0M103.7 254.2h0M282.2 216.9h0M358.4 195.6h0M74.8 264.9h0M203.0 222.2h0M176.3 222.2h0M316.3 182.2h0M105.2 238.2h0M142.9 240.9h0M243.2 203.6h0M98.5 243.5h0M322.2 198.2h0M152.3 256.9h0M107.7 264.9h0M500.6 166.2h0M98.0 243.5h0M383.8 168.9h0M170.2 238.2h0M100.4 270.2h0M232.4 232.9h0M250.9 219.6h0M197.9 203.6h0M147.4 248.9h0M105.9 248.9h0M386.6 168.9h0M131.9 246.2h0M182.8 222.2h0M101.7 259.5h0M119.3 254.2h0M246.5 206.2h0M558.2 128.9h0M231.4 230.2h0M520.9 126.3h0M159.4 251.5h0M137.9 222.2h0M166.1 238.2h0M96.5 264.9h0M194.3 240.9h0M256.0 227.5h0M102.9 270.2h0M136.5 254.2h0M226.5 219.6h0M193.9 227.5h0M203.4 246.2h0M139.3 240.9h0M329.5 179.6h0M87.2 267.5h0M165.0 254.2h0M195.4 246.2h0M270.0 211.6h0M345.3 179.6h0M69.6 272.9h0M90.3 267.5h0M172.8 224.9h0M118.1 262.2h0M129.8 235.5h0M129.0 254.2h0M135.3 256.9h0M134.3 246.2h0M92.4 275.5h0M181.1 211.6h0M70.5 280.8h0M102.8 256.9h0M268.2 208.9h0M152.2 238.2h0M240.6 227.5h0M65.9 272.9h0M189.3 222.2h0M240.6 216.9h0M114.0 256.9h0M113.3 214.2h0M197.1 230.2h0M253.0 214.2h0M140.0 238.2h0M244.8 232.9h0M221.9 235.5h0M319.2 195.6h0M149.9 232.9h0M157.7 248.9h0M267.0 203.6h0M132.8 251.5h0M355.3 179.6h0M95.4 243.5h0M177.6 230.2h0M358.0 190.2h0M127.4 259.5h0M105.8 248.9h0M141.1 230.2h0M562.1 126.3h0M102.5 259.5h0M134.8 246.2h0" stroke="#ffab00" stroke-opacity=".72" stroke-width="6.2" stroke-linecap="round" fill="none"/>
<path d="M345.3 168.9h0M76.1 278.2h0M197.1 224.9h0M114.4 246.2h0M145.9 243.5h0M486.5 136.9h0M265.0 208.9h0M270.0 216.9h0M75.5 278.2h0M380.1 174.2h0M114.6 267.5h0M464.4 174.2h0M98.1 248.9h0M88.9 275.5h0M202.6 224.9h0M103.8 270.2h0M138.9 227.5h0M73.5 264.9h0M152.4 248.9h0M247.5 192.9h0M101.3 235.5h0M519.2 136.9h0M492.7 168.9h0M354.7 147.6h0M545.3 142.3h0M218.2 227.5h0M200.0 235.5h0M106.5 270.2h0M119.1 227.5h0M105.8 248.9h0M82.7 264.9h0M188.2 232.9h0M238.2 200.9h0M256.7 216.9h0M390.4 187.6h0M147.0 251.5h0M102.9 259.5h0M216.5 224.9h0M226.1 200.9h0M229.5 216.9h0M105.5 238.2h0M104.9 262.2h0M151.6 246.2h0M172.6 227.5h0M406.2 174.2h0M74.2 270.2h0M138.4 235.5h0M186.7 240.9h0M93.9 259.5h0M169.5 240.9h0M135.0 254.2h0M101.5 264.9h0M103.0 264.9h0M201.9 238.2h0M82.4 264.9h0M159.2 238.2h0M445.7 182.2h0M158.3 248.9h0M98.3 262.2h0M97.8 214.2h0M195.8 238.2h0M162.7 254.2h0M93.1 270.2h0M98.4 270.2h0M131.0 248.9h0M269.0 219.6h0M326.9 211.6h0M162.6 251.5h0M245.0 211.6h0M128.4 264.9h0M232.9 222.2h0M164.4 238.2h0M127.8 254.2h0M127.5 243.5h0M95.4 251.5h0M109.3 235.5h0M511.2 131.6h0M126.5 232.9h0M391.3 176.9h0M377.3 190.2h0M502.6 120.9h0M115.1 256.9h0M94.0 262.2h0M124.5 264.9h0M196.5 243.5h0M283.6 200.9h0M120.1 262.2h0M464.5 160.9h0M275.5 224.9h0M115.3 251.5h0M104.2 248.9h0M126.4 262.2h0M98.4 256.9h0M82.1 270.2h0M84.2 254.2h0M187.5 246.2h0M200.5 230.2h0M349.1 134.3h0M231.8 230.2h0M97.7 256.9h0M249.4 203.6h0M149.4 227.5h0M91.2 262.2h0M372.7 158.3h0M87.5 272.9h0M117.7 267.5h0M195.6 206.2h0M168.5 256.9h0M155.3 251.5h0M97.4 246.2h0M232.7 230.2h0M202.1 203.6h0M169.6 235.5h0M101.2 246.2h0M75.8 270.2h0M175.6 246.2h0M102.8 235.5h0M122.6 232.9h0M108.2 246.2h0M142.4 230.2h0M72.9 275.5h0M121.2 254.2h0M194.0 222.2h0M91.9 264.9h0M306.8 190.2h0M116.8 235.5h0M104.1 256.9h0M119.7 256.9h0M265.0 190.2h0M527.5 158.3h0M218.2 208.9h0M110.0 254.2h0M152.5 224.9h0M244.7 208.9h0M239.8 198.2h0M326.4 184.9h0M110.9 256.9h0M187.6 227.5h0M171.7 206.2h0M196.5 235.5h0M148.8 224.9h0M333.8 192.9h0M253.5 176.9h0M199.4 224.9h0M239.7 230.2h0M151.3 235.5h0M104.8 267.5h0M129.2 254.2h0M193.7 222.2h0M147.7 248.9h0M90.2 267.5h0M96.2 254.2h0M135.9 251.5h0M172.4 238.2h0M98.0 240.9h0M76.4 270.2h0M100.9 235.5h0M218.4 203.6h0M136.6 243.5h0M556.2 128.9h0M283.4 216.9h0M96.4 267.5h0M81.3 270.2h0M117.0 219.6h0M233.3 200.9h0M141.5 248.9h0M207.3 235.5h0M93.1 256.9h0M177.6 251.5h0M214.1 200.9h0M139.2 243.5h0M112.7 230.2h0M495.6 150.3h0M231.2 227.5h0M141.0 224.9h0M128.7 256.9h0M192.4 224.9h0M76.1 270.2h0M154.9 254.2h0M172.9 243.5h0M371.6 126.3h0M136.3 251.5h0M123.9 240.9h0M393.1 184.9h0M115.1 238.2h0M223.9 238.2h0M118.8 222.2h0M119.3 264.9h0M124.2 206.2h0M149.4 246.2h0M80.1 270.2h0M284.1 198.2h0M345.0 190.2h0M110.6 259.5h0M142.8 254.2h0M388.8 190.2h0M86.8 262.2h0M76.3 278.2h0M117.9 251.5h0M306.8 192.9h0M330.0 206.2h0M167.0 235.5h0M88.9 262.2h0M264.8 203.6h0M154.1 246.2h0M97.0 230.2h0M205.5 230.2h0M75.2 275.5h0M216.8 235.5h0M157.7 248.9h0M149.7 240.9h0M250.5 227.5h0M320.7 182.2h0M102.7 219.6h0M297.2 200.9h0M74.8 280.8h0M167.9 216.9h0M287.0 198.2h0M97.2 272.9h0M214.5 238.2h0M83.8 254.2h0M178.3 208.9h0M182.8 230.2h0M127.4 254.2h0M137.1 222.2h0M87.0 264.9h0M104.2 264.9h0M552.7 139.6h0M124.3 232.9h0M200.7 134.3h0M104.1 246.2h0M70.6 272.9h0M189.2 240.9h0M85.1 267.5h0M151.6 251.5h0M232.3 232.9h0M193.3 230.2h0M231.7 211.6h0M180.2 224.9h0M162.3 248.9h0M236.8 232.9h0M210.7 230.2h0M139.1 240.9h0M186.6 248.9h0M283.3 224.9h0M296.4 222.2h0M138.5 232.9h0M513.4 139.6h0M107.6 259.5h0M103.1 270.2h0M224.6 222.2h0M116.6 256.9h0M129.0 246.2h0M117.2 246.2h0M143.8 248.9h0M285.7 198.2h0M183.0 211.6h0M271.2 216.9h0M165.6 195.6h0M109.3 243.5h0M104.4 259.5h0M121.7 203.6h0M143.2 230.2h0M142.0 243.5h0M126.9 238.2h0M251.4 214.2h0M156.5 238.2h0M484.4 134.3h0M177.4 235.5h0M109.6 264.9h0M196.1 219.6h0M97.8 264.9h0M198.0 240.9h0M189.9 230.2h0M464.1 150.3h0M152.3 254.2h0M299.1 211.6h0M138.4 254.2h0M165.9 238.2h0M178.3 235.5h0M127.8 235.5h0M151.5 256.9h0M98.8 259.5h0M89.4 267.5h0M147.6 246.2h0M186.9 227.5h0M239.3 227.5h0M196.4 243.5h0M221.0 238.2h0M82.6 262.2h0M85.1 259.5h0M131.9 259.5h0M150.9 240.9h0M281.0 174.2h0M125.4 243.5h0M110.0 270.2h0M112.4 224.9h0M152.5 230.2h0M203.8 216.9h0M289.3 192.9h0M137.7 238.2h0M121.4 240.9h0M316.6 200.9h0" stroke="#00a972" stroke-opacity=".72" stroke-width="6.2" stroke-linecap="round" fill="none"/>
<path d="M97.5 262.2h0M562.3 126.3h0M89.5 270.2h0M180.1 240.9h0M86.0 270.2h0M459.0 150.3h0M76.6 262.2h0M105.3 243.5h0M306.6 179.6h0M219.4 214.2h0M92.3 264.9h0M166.4 246.2h0M111.4 227.5h0M76.2 262.2h0M129.8 235.5h0M161.8 238.2h0M154.5 248.9h0M231.2 219.6h0M86.6 262.2h0M91.5 259.5h0M472.8 144.9h0M117.4 248.9h0M158.5 240.9h0M103.1 270.2h0M423.4 187.6h0M311.4 206.2h0M224.1 235.5h0M288.6 216.9h0M164.9 256.9h0M549.1 126.3h0M251.2 216.9h0M104.7 262.2h0M148.3 235.5h0M66.4 280.8h0M125.1 267.5h0M163.4 224.9h0M459.0 97.0h0M156.6 248.9h0M93.1 240.9h0M223.9 232.9h0M77.1 262.2h0M239.6 208.9h0M189.3 246.2h0M213.9 235.5h0M96.3 275.5h0M84.2 278.2h0M94.7 243.5h0M139.0 235.5h0M89.5 267.5h0M196.7 192.9h0M181.8 227.5h0M85.6 264.9h0M204.7 214.2h0M177.2 243.5h0M118.0 267.5h0M197.7 227.5h0M68.7 275.5h0M143.3 262.2h0M201.8 219.6h0M171.9 248.9h0M186.0 246.2h0M75.7 280.8h0M133.9 259.5h0M106.4 262.2h0M528.4 152.9h0M171.7 243.5h0M284.2 211.6h0M106.9 238.2h0M226.0 224.9h0M85.0 259.5h0M180.7 251.5h0M268.1 211.6h0M145.9 262.2h0M343.0 182.2h0M86.4 256.9h0M140.1 235.5h0M123.5 251.5h0M170.2 235.5h0M151.6 240.9h0M132.7 254.2h0M331.0 184.9h0M112.5 259.5h0M101.2 238.2h0M81.2 278.2h0M152.8 248.9h0M141.9 248.9h0M114.2 259.5h0M568.7 126.3h0M115.5 256.9h0M373.2 160.9h0M124.5 264.9h0M364.5 160.9h0M182.0 227.5h0M168.3 254.2h0M118.3 235.5h0M297.9 190.2h0M100.7 267.5h0M199.3 238.2h0M123.3 230.2h0M518.0 150.3h0M171.2 251.5h0M277.3 203.6h0M141.4 251.5h0M113.4 243.5h0M122.4 198.2h0M527.2 136.9h0M269.1 203.6h0M226.2 200.9h0M137.7 248.9h0M164.0 232.9h0M202.0 240.9h0M91.1 264.9h0M143.8 251.5h0M186.9 227.5h0M102.8 235.5h0M242.4 200.9h0M105.0 259.5h0M86.7 246.2h0M112.8 248.9h0M204.0 222.2h0M209.7 214.2h0M203.2 227.5h0M235.5 230.2h0M84.4 267.5h0M148.2 219.6h0M302.5 214.2h0M114.5 256.9h0M159.3 259.5h0M180.8 222.2h0M91.7 246.2h0M203.2 224.9h0M224.2 224.9h0M192.9 243.5h0M252.2 190.2h0M90.7 270.2h0M117.9 254.2h0M542.0 142.3h0M132.9 264.9h0M102.4 238.2h0M180.7 243.5h0M174.4 243.5h0M233.6 232.9h0M229.5 198.2h0M329.0 200.9h0M178.2 230.2h0M91.2 278.2h0M109.4 230.2h0M278.4 214.2h0M201.0 222.2h0M449.4 142.3h0M139.0 243.5h0M228.9 211.6h0M182.9 232.9h0M85.6 267.5h0M317.8 198.2h0M175.9 206.2h0M262.5 200.9h0M270.7 214.2h0M107.0 254.2h0M63.3 256.9h0M103.3 254.2h0M159.8 238.2h0M83.8 264.9h0M518.1 150.3h0M265.8 206.2h0M515.3 110.3h0M433.6 174.2h0M96.2 254.2h0M136.5 254.2h0M216.3 208.9h0M85.1 254.2h0M102.3 267.5h0M320.3 187.6h0M271.0 211.6h0M83.4 272.9h0M237.5 211.6h0M110.0 246.2h0M115.2 254.2h0M217.1 230.2h0M98.2 262.2h0M156.8 243.5h0M81.5 259.5h0M166.9 243.5h0M112.3 251.5h0M253.3 208.9h0M117.2 264.9h0M194.1 222.2h0M127.4 264.9h0M189.9 214.2h0M151.3 240.9h0M503.6 147.6h0M99.1 238.2h0M72.8 259.5h0M231.2 235.5h0M97.2 246.2h0M304.7 216.9h0M147.4 246.2h0M155.5 243.5h0M281.4 219.6h0M260.1 219.6h0M231.5 216.9h0M113.8 259.5h0M264.9 187.6h0M142.3 254.2h0M112.7 235.5h0M273.3 174.2h0M212.5 224.9h0M251.0 190.2h0M204.1 246.2h0M143.7 240.9h0M220.8 216.9h0M227.6 206.2h0M189.2 246.2h0M238.4 222.2h0M221.0 206.2h0M245.0 224.9h0M138.0 251.5h0M122.2 254.2h0M103.3 256.9h0M180.9 227.5h0M235.7 232.9h0M168.9 251.5h0M270.0 224.9h0M424.1 174.2h0M270.5 222.2h0M122.3 230.2h0M285.5 216.9h0M104.6 248.9h0M178.2 246.2h0M222.6 224.9h0M88.6 270.2h0M186.7 240.9h0M134.2 230.2h0M182.0 251.5h0M209.5 224.9h0M72.8 278.2h0M165.3 203.6h0M178.6 248.9h0M187.3 219.6h0M114.8 243.5h0M179.9 219.6h0M140.1 224.9h0M144.2 240.9h0M104.4 262.2h0M118.1 251.5h0M95.6 267.5h0M103.3 232.9h0M86.9 270.2h0M98.8 246.2h0M281.4 208.9h0M149.7 232.9h0M112.0 264.9h0M198.2 243.5h0M154.4 259.5h0M121.0 243.5h0M168.5 254.2h0M379.8 190.2h0M125.0 232.9h0M91.7 267.5h0M214.1 240.9h0M183.1 240.9h0M144.8 240.9h0M103.8 248.9h0M345.6 206.2h0M167.5 254.2h0M296.7 216.9h0M115.5 232.9h0M375.8 160.9h0M295.9 192.9h0M140.8 251.5h0M136.3 238.2h0M551.3 142.3h0M285.9 198.2h0M82.0 254.2h0M173.6 232.9h0M153.5 238.2h0M165.6 240.9h0M174.5 224.9h0M123.5 256.9h0M169.4 243.5h0M378.6 195.6h0M131.1 238.2h0M156.0 251.5h0M185.0 216.9h0M279.0 219.6h0M273.7 214.2h0M566.4 89.0h0M210.6 238.2h0M85.0 256.9h0M209.9 227.5h0M129.6 259.5h0M168.4 246.2h0M379.6 171.6h0M167.6 230.2h0M154.5 248.9h0M301.5 219.6h0M165.1 232.9h0M183.8 235.5h0M130.3 224.9h0M78.4 264.9h0M103.7 251.5h0M165.8 227.5h0M183.1 238.2h0" stroke="#00a972" stroke-opacity=".72" stroke-width="6.2" stroke-linecap="round" fill="none"/>
<path d="M228.4 216.9h0M100.0 259.5h0M173.5 254.2h0M141.3 254.2h0M139.1 238.2h0M151.4 246.2h0M98.7 275.5h0M380.4 182.2h0M100.1 272.9h0M164.3 238.2h0M446.3 158.3h0M171.0 251.5h0M106.5 270.2h0M117.9 251.5h0M89.4 267.5h0M83.9 275.5h0M193.6 224.9h0M181.5 235.5h0M178.3 240.9h0M166.0 243.5h0M128.7 254.2h0M133.6 264.9h0M205.5 246.2h0M184.9 232.9h0M225.3 224.9h0M170.7 248.9h0M146.6 222.2h0M196.9 184.9h0M105.7 227.5h0M149.4 256.9h0M120.7 256.9h0M161.0 251.5h0M76.6 262.2h0M106.1 227.5h0M207.1 208.9h0M189.6 240.9h0M102.6 246.2h0M139.2 251.5h0M102.3 264.9h0M200.1 246.2h0M380.4 158.3h0M80.3 264.9h0M87.0 264.9h0M170.8 240.9h0M180.8 216.9h0M87.3 259.5h0M160.4 254.2h0M283.8 214.2h0M85.1 278.2h0M184.4 222.2h0M127.8 240.9h0M84.5 267.5h0M68.7 272.9h0M101.2 254.2h0M128.2 248.9h0M243.4 216.9h0M182.9 243.5h0M149.9 248.9h0M160.3 251.5h0M178.3 251.5h0M94.1 262.2h0M79.5 262.2h0M180.2 203.6h0M136.9 227.5h0M133.7 243.5h0M517.7 160.9h0M65.9 280.8h0M152.6 240.9h0M234.6 219.6h0M170.3 243.5h0M141.0 243.5h0M133.5 264.9h0M82.6 256.9h0M182.2 222.2h0M242.4 195.6h0M149.9 227.5h0M82.5 272.9h0M141.7 224.9h0M85.0 275.5h0M267.9 211.6h0M296.4 192.9h0M80.7 262.2h0M135.9 256.9h0M188.9 222.2h0M135.4 259.5h0M81.9 254.2h0M239.5 182.2h0M271.8 222.2h0M187.7 214.2h0M100.0 243.5h0M424.1 174.2h0M124.7 230.2h0M237.2 206.2h0M76.1 278.2h0M77.9 262.2h0M83.0 270.2h0M128.3 243.5h0M136.4 248.9h0M163.7 248.9h0M171.5 238.2h0M274.3 227.5h0M78.2 275.5h0M164.6 243.5h0M103.4 243.5h0M535.9 118.3h0M86.0 267.5h0M163.5 219.6h0M137.2 248.9h0M99.8 270.2h0M225.6 222.2h0M346.7 206.2h0M155.0 246.2h0M160.4 222.2h0M151.7 243.5h0M198.4 232.9h0M407.8 190.2h0M193.1 203.6h0M385.3 179.6h0M143.6 230.2h0M460.4 144.9h0M125.1 232.9h0M196.8 232.9h0M355.4 200.9h0M283.3 216.9h0M157.5 248.9h0M118.8 240.9h0M79.6 275.5h0M89.9 256.9h0M163.7 251.5h0M195.6 235.5h0M182.4 243.5h0M141.2 256.9h0M170.8 235.5h0M107.2 248.9h0M273.1 198.2h0M103.0 254.2h0M441.9 166.2h0M83.8 262.2h0M137.2 230.2h0M77.7 275.5h0M218.1 227.5h0M90.1 264.9h0M118.5 235.5h0M134.9 259.5h0M237.5 208.9h0M142.7 230.2h0M134.4 256.9h0M248.6 222.2h0M161.5 232.9h0M139.3 254.2h0M131.2 240.9h0M120.5 256.9h0M280.5 203.6h0M227.2 222.2h0M115.9 232.9h0M102.0 251.5h0M238.9 216.9h0M115.4 243.5h0M103.5 262.2h0M123.4 254.2h0M114.1 267.5h0M158.7 254.2h0M133.8 262.2h0M77.4 272.9h0M353.9 198.2h0M384.3 182.2h0M165.0 243.5h0M334.0 195.6h0M269.3 227.5h0M243.5 216.9h0M455.6 144.9h0M506.8 102.3h0M142.7 251.5h0M193.5 203.6h0M139.9 222.2h0M109.1 254.2h0M142.5 238.2h0M176.0 238.2h0M102.0 262.2h0M138.7 259.5h0M93.1 270.2h0M156.2 246.2h0M300.8 211.6h0M196.7 235.5h0M95.9 264.9h0M395.0 182.2h0M93.4 267.5h0M227.9 206.2h0M390.1 182.2h0M239.0 222.2h0M159.7 224.9h0M131.9 251.5h0M226.2 211.6h0M95.2 275.5h0M198.3 216.9h0M296.2 198.2h0M281.6 206.2h0M82.7 264.9h0M181.7 243.5h0M532.6 155.6h0M261.3 195.6h0M181.6 224.9h0M78.2 262.2h0M69.2 262.2h0M137.8 254.2h0M211.4 232.9h0M84.5 267.5h0M204.5 235.5h0M158.5 254.2h0M120.2 264.9h0M85.9 272.9h0M191.3 246.2h0M296.3 206.2h0M94.3 262.2h0M168.4 224.9h0M334.4 187.6h0M143.9 227.5h0M95.5 246.2h0M248.5 211.6h0M164.4 230.2h0M90.3 272.9h0M482.4 163.6h0M72.5 280.8h0M212.4 230.2h0M301.0 198.2h0M151.2 254.2h0M271.5 200.9h0M375.3 163.6h0M266.9 195.6h0M197.5 214.2h0M285.6 222.2h0M234.7 211.6h0M144.0 248.9h0M423.4 144.9h0M194.5 192.9h0M274.2 208.9h0M102.5 256.9h0M91.0 270.2h0M170.8 224.9h0M276.3 219.6h0M132.9 256.9h0M249.6 211.6h0M324.5 195.6h0M210.9 227.5h0M187.3 235.5h0M92.0 264.9h0M191.5 235.5h0M461.8 166.2h0M290.4 216.9h0M92.4 267.5h0M312.6 182.2h0M96.3 272.9h0M174.6 219.6h0M278.5 224.9h0M86.4 259.5h0M169.4 238.2h0M133.5 235.5h0M331.1 182.2h0M136.3 248.9h0M198.7 232.9h0M188.3 243.5h0M107.4 216.9h0M158.6 240.9h0M136.3 224.9h0M241.1 208.9h0M174.0 246.2h0M131.1 240.9h0M164.5 254.2h0M124.1 243.5h0M101.3 251.5h0M144.9 246.2h0M88.2 267.5h0M151.3 246.2h0M253.0 198.2h0M280.6 195.6h0M188.8 235.5h0M83.2 275.5h0M129.6 246.2h0M73.8 272.9h0M94.6 264.9h0M91.7 267.5h0M99.7 262.2h0M208.1 240.9h0M136.8 256.9h0M133.8 235.5h0M147.3 259.5h0M174.2 192.9h0M127.5 224.9h0M178.4 248.9h0M145.2 230.2h0M182.2 251.5h0M125.3 251.5h0M88.0 264.9h0M154.3 248.9h0M193.4 238.2h0M129.9 256.9h0M277.1 211.6h0M307.3 192.9h0M486.1 150.3h0M86.7 278.2h0M381.3 166.2h0M140.4 240.9h0" stroke="#00a972" stroke-opacity=".72" stroke-width="6.2" stroke-linecap="round" fill="none"/>
<path d="M148.2 251.5h0M243.3 224.9h0M100.7 256.9h0M344.3 176.9h0M89.8 272.9h0M141.7 246.2h0M379.8 174.2h0M218.9 235.5h0M237.3 227.5h0M79.7 272.9h0M102.8 259.5h0M130.1 238.2h0M250.0 219.6h0M298.2 182.2h0M77.6 278.2h0M107.8 235.5h0M105.7 270.2h0M126.9 254.2h0M304.5 206.2h0M172.1 246.2h0M124.1 208.9h0M107.1 270.2h0M89.1 272.9h0M542.9 128.9h0M163.8 230.2h0M510.8 163.6h0M170.6 246.2h0M116.6 262.2h0M407.5 184.9h0M147.0 243.5h0M144.5 240.9h0M310.8 214.2h0M90.8 246.2h0M88.6 264.9h0M285.1 211.6h0M206.6 216.9h0M275.5 208.9h0M320.1 195.6h0M430.6 171.6h0M87.4 275.5h0M365.1 200.9h0M222.9 232.9h0M302.5 192.9h0M236.3 222.2h0M113.5 235.5h0M215.1 219.6h0M268.4 216.9h0M235.0 230.2h0M96.2 272.9h0M108.0 256.9h0M104.6 248.9h0M173.8 232.9h0M392.5 150.3h0M125.2 251.5h0M105.2 246.2h0M189.4 240.9h0M230.7 232.9h0M148.1 219.6h0M111.8 235.5h0M447.5 120.9h0M107.1 267.5h0M202.7 224.9h0M133.3 235.5h0M78.0 270.2h0M126.2 262.2h0M127.6 254.2h0M125.1 262.2h0M127.3 235.5h0M153.9 230.2h0M310.2 203.6h0M455.3 168.9h0M227.9 214.2h0M126.2 264.9h0M253.4 192.9h0M200.2 246.2h0M113.0 264.9h0M253.0 219.6h0M96.5 267.5h0M66.8 283.5h0M433.1 152.9h0M272.5 184.9h0M195.9 230.2h0M138.7 240.9h0M223.7 219.6h0M119.6 227.5h0M115.2 240.9h0M255.4 208.9h0M99.6 262.2h0M120.6 259.5h0M104.0 243.5h0M234.8 222.2h0M161.5 219.6h0M97.5 248.9h0M109.8 203.6h0M125.3 235.5h0M77.0 262.2h0M317.2 192.9h0M121.5 254.2h0M104.9 254.2h0M134.4 256.9h0M93.7 275.5h0M140.3 243.5h0M179.5 216.9h0M157.9 251.5h0M82.7 256.9h0M100.4 243.5h0M292.7 203.6h0M200.4 238.2h0M176.0 238.2h0M146.0 254.2h0M140.1 259.5h0M255.7 219.6h0M204.1 235.5h0M159.9 230.2h0M199.5 219.6h0M348.4 190.2h0M401.6 163.6h0M289.5 216.9h0M197.9 230.2h0M75.6 280.8h0M113.4 248.9h0M245.5 200.9h0M429.6 179.6h0M96.0 243.5h0M256.6 224.9h0M106.0 264.9h0M87.1 262.2h0M83.4 259.5h0M155.5 243.5h0M156.3 230.2h0M71.4 278.2h0M164.3 230.2h0M162.2 240.9h0M105.4 246.2h0M106.2 251.5h0M109.1 272.9h0M115.0 264.9h0M110.3 256.9h0M111.7 222.2h0M540.9 105.0h0M509.8 144.9h0M116.8 248.9h0M90.4 275.5h0M189.1 227.5h0M168.5 235.5h0M207.5 208.9h0M116.9 259.5h0M286.1 211.6h0M169.0 224.9h0M103.4 267.5h0M277.8 216.9h0M101.8 232.9h0M173.6 235.5h0M114.0 240.9h0M139.0 256.9h0M231.4 206.2h0M108.0 259.5h0M101.5 267.5h0M191.4 227.5h0M517.5 136.9h0M176.8 251.5h0M100.8 254.2h0M278.5 198.2h0M95.0 243.5h0M206.7 224.9h0M169.6 240.9h0M277.3 224.9h0M250.2 219.6h0M145.9 251.5h0M225.6 224.9h0M144.3 240.9h0M96.2 251.5h0M321.3 187.6h0M274.3 216.9h0M59.7 283.5h0M175.9 230.2h0M146.3 254.2h0M567.1 142.3h0M137.2 235.5h0M152.9 240.9h0M139.9 238.2h0M84.5 259.5h0M122.7 254.2h0M186.1 246.2h0M184.3 184.9h0M130.7 243.5h0M157.7 224.9h0M188.8 240.9h0M174.4 224.9h0M143.5 224.9h0M202.9 235.5h0M117.3 259.5h0M117.3 248.9h0M107.3 243.5h0M74.4 270.2h0M219.1 227.5h0M227.7 200.9h0M167.7 246.2h0M153.8 230.2h0M304.5 195.6h0M158.9 251.5h0M152.3 240.9h0M154.8 230.2h0M135.1 248.9h0M396.4 168.9h0M313.6 198.2h0M74.2 264.9h0M136.2 248.9h0M148.9 230.2h0M410.1 176.9h0M112.4 235.5h0M232.5 219.6h0M132.4 240.9h0M130.5 251.5h0M85.0 270.2h0M130.2 254.2h0M224.0 190.2h0M279.5 216.9h0M92.1 267.5h0M176.2 243.5h0M148.0 251.5h0M254.4 171.6h0M107.9 240.9h0M171.6 240.9h0M524.7 142.3h0M131.1 238.2h0M109.8 251.5h0M450.8 179.6h0M135.6 262.2h0M127.4 195.6h0M84.4 256.9h0M170.2 240.9h0M165.6 251.5h0M99.9 262.2h0M185.7 216.9h0M73.2 278.2h0M96.3 272.9h0M151.3 246.2h0M89.2 275.5h0M114.2 243.5h0M145.7 232.9h0M217.2 224.9h0M106.9 272.9h0M253.9 214.2h0M193.7 240.9h0M124.5 248.9h0M183.2 251.5h0M157.1 232.9h0M150.9 232.9h0M208.9 208.9h0M123.1 246.2h0M147.4 246.2h0M160.7 232.9h0M71.5 251.5h0M81.6 272.9h0M150.1 227.5h0M195.3 203.6h0M289.7 192.9h0M193.6 230.2h0M124.9 254.2h0M124.7 264.9h0M256.2 219.6h0M337.7 200.9h0M87.2 272.9h0M222.7 200.9h0M289.4 206.2h0M185.3 214.2h0M130.2 259.5h0M280.3 200.9h0M222.4 240.9h0M100.4 267.5h0M249.2 222.2h0M126.3 235.5h0M188.7 240.9h0M169.4 227.5h0M206.8 203.6h0M243.4 206.2h0M106.6 254.2h0M202.5 219.6h0M152.9 254.2h0M142.5 256.9h0M191.1 235.5h0M109.0 262.2h0M100.3 259.5h0M126.3 264.9h0M120.5 262.2h0M150.2 248.9h0M141.7 251.5h0M168.8 248.9h0M241.6 222.2h0M196.5 214.2h0M80.2 262.2h0M258.7 206.2h0M122.1 243.5h0M422.3 163.6h0M148.1 243.5h0M79.2 270.2h0M493.4 131.6h0M245.1 203.6h0M539.9 158.3h0M151.0 238.2h0M89.0 262.2h0" stroke="#00a972" stroke-opacity=".72" stroke-width="6.2" stroke-linecap="round" fill="none"/>
<path d="M159.8 248.9h0M118.0 259.5h0M141.3 238.2h0M305.1 176.9h0M108.5 246.2h0M130.0 232.9h0M134.6 232.9h0M353.5 198.2h0M196.6 230.2h0M118.0 208.9h0M90.0 256.9h0M134.2 232.9h0M246.3 200.9h0M227.7 235.5h0M167.3 243.5h0M188.7 227.5h0M179.2 224.9h0M105.8 227.5h0M312.1 184.9h0M122.1 256.9h0M94.8 272.9h0M203.9 238.2h0M196.5 238.2h0M181.6 251.5h0M133.2 240.9h0M117.8 238.2h0M251.8 230.2h0M126.6 262.2h0M143.0 230.2h0M111.1 262.2h0M111.5 248.9h0M147.6 246.2h0M294.1 214.2h0M101.3 232.9h0M277.4 139.6h0M128.7 235.5h0M89.5 264.9h0M317.7 190.2h0M118.9 238.2h0M195.9 232.9h0M140.3 208.9h0M273.1 211.6h0M409.9 158.3h0M90.7 262.2h0M440.3 147.6h0M130.9 256.9h0M225.6 216.9h0M156.6 248.9h0M173.9 222.2h0M124.1 230.2h0M202.1 206.2h0M86.0 267.5h0M137.9 238.2h0M191.4 246.2h0M252.3 227.5h0M100.6 256.9h0M116.8 254.2h0M555.7 110.3h0M322.5 198.2h0M197.4 240.9h0M201.3 238.2h0M132.1 254.2h0M128.8 240.9h0M314.6 203.6h0M540.0 131.6h0M223.8 232.9h0M166.3 222.2h0M167.5 206.2h0M82.7 270.2h0M117.9 259.5h0M319.2 200.9h0M110.2 256.9h0M135.6 230.2h0M79.1 267.5h0M143.9 224.9h0M155.1 248.9h0M148.2 256.9h0M262.6 214.2h0M119.6 230.2h0M246.9 211.6h0M79.4 267.5h0M147.7 248.9h0M112.6 267.5h0M70.1 280.8h0M131.0 262.2h0M318.4 198.2h0M354.0 184.9h0M237.2 230.2h0M114.4 222.2h0M87.2 259.5h0M347.6 200.9h0M140.4 230.2h0M144.5 222.2h0M166.0 216.9h0M567.6 115.6h0M139.3 222.2h0M92.2 240.9h0M99.8 254.2h0M88.4 256.9h0M112.4 243.5h0M192.0 240.9h0M196.0 227.5h0M461.6 89.0h0M175.9 216.9h0M72.9 280.8h0M147.7 238.2h0M199.8 232.9h0M246.6 211.6h0M87.7 259.5h0M241.4 222.2h0M202.7 246.2h0M82.0 278.2h0M105.7 256.9h0M168.4 227.5h0M113.1 270.2h0M168.5 235.5h0M97.5 243.5h0M98.3 264.9h0M128.8 254.2h0M90.8 262.2h0M112.8 232.9h0M284.1 211.6h0M257.9 214.2h0M136.5 254.2h0M178.3 230.2h0M343.2 190.2h0M83.6 256.9h0M179.3 246.2h0M253.1 179.6h0M128.3 254.2h0M192.6 246.2h0M397.7 160.9h0M74.2 264.9h0M326.3 171.6h0M121.1 240.9h0M246.6 216.9h0M168.7 227.5h0M93.7 256.9h0M333.1 182.2h0M130.2 256.9h0M169.3 224.9h0M268.1 195.6h0M310.0 190.2h0M204.4 232.9h0M102.8 262.2h0M113.9 259.5h0M201.6 238.2h0M360.6 187.6h0M174.1 238.2h0M112.4 251.5h0M138.7 238.2h0M194.9 224.9h0M194.8 232.9h0M205.7 214.2h0M187.0 222.2h0M87.4 264.9h0M76.7 264.9h0M233.4 214.2h0M327.7 206.2h0M110.3 243.5h0M128.8 256.9h0M86.0 267.5h0M107.9 240.9h0M130.8 232.9h0M245.9 208.9h0M102.2 262.2h0M257.7 198.2h0M417.2 174.2h0M355.7 203.6h0M124.5 235.5h0M155.0 259.5h0M126.6 256.9h0M205.0 230.2h0M84.5 256.9h0M132.3 235.5h0M175.8 243.5h0M160.1 256.9h0M106.5 256.9h0M346.3 195.6h0M83.2 264.9h0M127.9 240.9h0M172.8 240.9h0M127.7 238.2h0M230.4 200.9h0M255.2 219.6h0M171.5 246.2h0M97.9 251.5h0M143.0 246.2h0M135.3 259.5h0M129.4 243.5h0M465.9 174.2h0M350.6 198.2h0M93.2 246.2h0M238.2 214.2h0M514.9 155.6h0M517.3 144.9h0M301.1 192.9h0M288.6 203.6h0M116.6 264.9h0M113.1 262.2h0M84.6 270.2h0M150.9 240.9h0M330.4 208.9h0M271.0 216.9h0M155.4 246.2h0M244.8 211.6h0M128.9 259.5h0M164.3 224.9h0M68.6 275.5h0M409.0 187.6h0M133.7 248.9h0M141.6 224.9h0M226.3 203.6h0M94.1 272.9h0M186.8 219.6h0M189.9 230.2h0M189.1 232.9h0M189.4 248.9h0M180.1 251.5h0M124.5 248.9h0M118.5 248.9h0M375.2 179.6h0M241.2 224.9h0M193.2 214.2h0M130.1 251.5h0M110.9 262.2h0M132.7 256.9h0M311.2 214.2h0M366.9 190.2h0M292.1 200.9h0M258.4 222.2h0M133.0 243.5h0M144.9 230.2h0M222.6 227.5h0M232.1 216.9h0M122.0 235.5h0M211.0 195.6h0M263.7 190.2h0M100.3 254.2h0M138.1 232.9h0M120.7 248.9h0M322.0 184.9h0M106.8 238.2h0M234.4 211.6h0M284.4 222.2h0M127.2 248.9h0M106.5 262.2h0M134.7 243.5h0M109.6 262.2h0M351.1 198.2h0M148.7 240.9h0M132.2 240.9h0M86.3 262.2h0M332.3 176.9h0M253.2 206.2h0M109.6 248.9h0M162.5 246.2h0M109.4 230.2h0M514.5 158.3h0M79.0 275.5h0M126.3 248.9h0M149.4 238.2h0M468.2 176.9h0M232.0 224.9h0M127.3 262.2h0M113.7 259.5h0M122.9 254.2h0M405.5 155.6h0M75.0 270.2h0M356.6 206.2h0M100.0 248.9h0M186.8 224.9h0M255.6 203.6h0M130.1 256.9h0M73.1 267.5h0M94.4 270.2h0M415.7 163.6h0M103.1 267.5h0M67.8 270.2h0M216.1 238.2h0M113.1 240.9h0M205.2 230.2h0M89.9 264.9h0M222.0 238.2h0M209.8 214.2h0M96.4 270.2h0M151.4 251.5h0M152.8 224.9h0M564.6 131.6h0M89.7 267.5h0M113.1 243.5h0M122.5 254.2h0M86.1 259.5h0M198.5 243.5h0M120.0 230.2h0M119.5 256.9h0M240.7 232.9h0M111.8 235.5h0M121.7 243.5h0M95.5 256.9h0M146.0 235.5h0M246.3 222.2h0" stroke="#00a972" stroke-opacity=".72" stroke-width="6.2" stroke-linecap="round" fill="none"/>
<path d="M108.1 240.9h0M187.4 238.2h0M273.7 206.2h0M181.1 219.6h0M200.1 235.5h0M280.4 198.2h0M443.3 174.2h0M105.4 270.2h0M172.9 251.5h0M130.5 219.6h0M556.2 107.6h0M135.3 248.9h0M191.0 243.5h0M108.1 256.9h0M103.2 259.5h0M217.4 200.9h0M306.3 198.2h0M178.6 227.5h0M206.5 208.9h0M197.8 208.9h0M245.3 219.6h0M122.2 256.9h0M127.9 256.9h0M108.6 259.5h0M158.3 224.9h0M133.1 203.6h0M311.7 206.2h0M116.4 270.2h0M500.8 150.3h0M180.9 224.9h0M117.4 267.5h0M145.3 232.9h0M447.0 139.6h0M86.8 264.9h0M218.9 227.5h0M114.6 264.9h0M167.0 214.2h0M64.0 280.8h0M253.0 219.6h0M210.3 238.2h0M216.5 232.9h0M319.2 190.2h0M221.1 224.9h0M149.5 246.2h0M103.7 256.9h0M92.5 275.5h0M227.4 203.6h0M201.3 240.9h0M126.1 240.9h0M262.7 211.6h0M328.4 168.9h0M351.9 168.9h0M171.9 240.9h0M132.6 254.2h0M262.3 203.6h0M104.7 238.2h0M204.5 227.5h0M225.1 219.6h0M268.4 187.6h0M187.5 246.2h0M436.0 123.6h0M359.0 206.2h0M246.7 195.6h0M246.3 200.9h0M136.6 219.6h0M195.4 232.9h0M166.7 251.5h0M243.6 235.5h0M105.3 256.9h0M558.8 124.7h0M74.7 278.2h0M119.2 270.2h0M114.6 262.2h0M524.2 150.3h0M128.0 235.5h0M153.1 251.5h0M190.0 246.2h0M85.1 262.2h0M255.3 224.9h0M370.1 179.6h0M85.7 267.5h0M184.3 238.2h0M119.6 232.9h0M227.7 214.2h0M244.5 206.2h0M191.5 240.9h0M185.7 216.9h0M130.0 227.5h0M463.2 128.9h0M148.5 222.2h0M332.2 187.6h0M141.0 254.2h0M263.0 227.5h0M95.7 259.5h0M282.9 198.2h0M205.9 238.2h0M90.8 264.9h0M84.7 259.5h0M237.5 200.9h0M185.6 232.9h0M100.3 272.9h0M168.2 251.5h0M82.8 275.5h0M113.3 251.5h0M482.7 131.6h0M279.6 206.2h0M109.3 267.5h0M177.3 246.2h0M126.3 264.9h0M151.7 224.9h0M362.7 195.6h0M201.8 227.5h0M115.4 264.9h0M112.8 270.2h0M95.4 272.9h0M116.8 256.9h0M122.2 240.9h0M339.1 184.9h0M75.7 267.5h0M187.0 224.9h0M158.2 238.2h0M178.7 176.9h0M296.6 206.2h0M148.6 251.5h0M88.0 272.9h0M163.7 224.9h0M156.3 246.2h0M507.0 134.3h0M517.8 94.3h0M108.6 240.9h0M187.9 230.2h0M383.2 158.3h0M289.4 184.9h0M128.8 227.5h0M95.7 272.9h0M393.0 176.9h0M153.7 227.5h0M93.8 270.2h0M165.5 243.5h0M67.3 267.5h0M224.9 198.2h0M128.6 259.5h0M142.1 248.9h0M82.6 256.9h0M121.5 232.9h0M196.5 243.5h0M310.9 206.2h0M162.7 208.9h0M79.6 280.8h0M343.4 195.6h0M328.0 190.2h0M109.3 254.2h0M452.4 144.9h0M152.6 240.9h0M156.3 238.2h0M205.0 224.9h0M81.6 275.5h0M75.2 280.8h0M194.3 224.9h0M76.1 278.2h0M253.8 216.9h0M396.6 192.9h0M276.4 216.9h0M119.8 254.2h0M156.8 248.9h0M245.1 230.2h0M81.1 262.2h0M178.3 219.6h0M425.8 171.6h0M205.5 206.2h0M80.4 270.2h0M334.4 195.6h0M188.7 243.5h0M127.4 227.5h0M450.8 144.9h0M439.2 142.3h0M194.1 230.2h0M238.9 190.2h0M102.1 251.5h0M109.9 235.5h0M174.3 243.5h0M159.8 222.2h0M534.8 126.3h0M418.9 190.2h0M317.7 192.9h0M115.4 254.2h0M164.4 246.2h0M169.5 286.2h0M143.7 227.5h0M212.5 219.6h0M105.6 251.5h0M147.7 246.2h0M379.2 179.6h0M93.0 267.5h0M156.1 230.2h0M162.4 248.9h0M106.1 259.5h0M119.8 238.2h0M128.9 259.5h0M202.8 222.2h0M204.7 235.5h0M401.0 152.9h0M300.0 190.2h0M180.6 248.9h0M416.0 158.3h0M520.8 158.3h0M219.9 216.9h0M338.6 200.9h0M261.8 208.9h0M451.1 155.6h0M462.0 142.3h0M294.4 200.9h0M104.5 270.2h0M502.3 139.6h0M239.3 195.6h0M247.3 214.2h0M157.0 251.5h0M151.5 243.5h0M112.6 251.5h0M202.1 240.9h0M164.2 254.2h0M236.2 190.2h0M144.5 240.9h0M188.4 216.9h0M90.6 270.2h0M201.4 230.2h0M260.0 203.6h0M152.9 232.9h0M124.6 262.2h0M110.5 270.2h0M102.9 238.2h0M118.7 224.9h0M112.4 256.9h0M127.2 259.5h0M115.7 227.5h0M183.0 227.5h0M534.1 134.3h0M65.5 278.2h0M165.7 203.6h0M276.2 227.5h0M79.2 275.5h0M302.6 216.9h0M262.1 192.9h0M107.1 256.9h0M302.7 203.6h0M149.0 230.2h0M321.4 198.2h0M79.5 267.5h0M212.1 198.2h0M117.3 206.2h0M104.3 248.9h0M273.7 184.9h0M115.9 254.2h0M138.3 243.5h0M177.7 216.9h0M142.3 240.9h0M383.8 179.6h0M78.5 270.2h0M355.0 206.2h0M131.9 238.2h0M160.6 235.5h0M259.5 222.2h0M194.2 232.9h0M490.0 131.6h0M133.3 240.9h0M172.2 211.6h0M177.3 238.2h0M95.3 272.9h0M343.8 190.2h0M462.6 160.9h0M472.8 163.6h0M105.2 270.2h0M370.8 187.6h0M239.7 203.6h0M253.5 195.6h0M115.7 256.9h0M93.0 272.9h0M87.4 272.9h0M234.5 208.9h0M81.6 278.2h0M80.8 256.9h0M230.2 206.2h0M163.4 227.5h0M105.5 243.5h0M181.3 232.9h0M563.9 122.5h0M100.7 267.5h0M181.2 216.9h0M317.2 190.2h0M136.7 235.5h0M493.3 152.9h0M292.0 219.6h0M117.6 270.2h0M296.8 214.2h0M80.5 262.2h0M123.7 246.2h0M135.6 248.9h0M394.7 187.6h0M77.6 267.5h0M301.0 179.6h0M142.2 246.2h0M218.9 219.6h0" stroke="#00a972" stroke-opacity=".72" stroke-width="6.2" stroke-linecap="round" fill="none"/>
<path d="M111.9 251.5h0M207.6 235.5h0M200.4 227.5h0M97.3 264.9h0M541.4 115.6h0M346.0 184.9h0M260.6 216.9h0M218.2 222.2h0M175.9 214.2h0M289.1 214.2h0M84.9 264.9h0M206.2 227.5h0M279.6 227.5h0M103.9 256.9h0M93.8 251.5h0M71.1 267.5h0M417.9 163.6h0M118.0 248.9h0M176.3 232.9h0M125.7 243.5h0M226.0 224.9h0M115.8 232.9h0M105.2 222.2h0M138.4 224.9h0M157.0 224.9h0M84.9 267.5h0M322.3 206.2h0M153.3 254.2h0M179.3 246.2h0M124.6 227.5h0M234.2 216.9h0M142.1 203.6h0M200.9 214.2h0M333.3 192.9h0M99.8 272.9h0M173.6 246.2h0M73.8 278.2h0M130.2 238.2h0M172.7 238.2h0M161.0 251.5h0M72.1 272.9h0M404.9 168.9h0M85.6 275.5h0M171.9 214.2h0M93.7 272.9h0M109.8 272.9h0M287.3 211.6h0M119.5 259.5h0M69.8 278.2h0M70.4 270.2h0M259.7 219.6h0M159.1 251.5h0M83.1 278.2h0M126.8 264.9h0M116.8 259.5h0M95.6 270.2h0M168.3 251.5h0M288.9 208.9h0M123.8 248.9h0M288.5 206.2h0M70.4 280.8h0M287.7 219.6h0M86.4 251.5h0M234.1 235.5h0M147.4 246.2h0M186.7 246.2h0M237.3 203.6h0M496.1 136.9h0M223.1 235.5h0M170.7 251.5h0M168.2 222.2h0M105.8 246.2h0M94.2 262.2h0M476.1 144.9h0M96.0 246.2h0M512.3 131.6h0M136.8 248.9h0M102.4 256.9h0M105.1 259.5h0M100.9 248.9h0M176.2 227.5h0M118.8 243.5h0M174.4 219.6h0M96.1 275.5h0M93.7 251.5h0M196.5 246.2h0M86.0 275.5h0M166.4 227.5h0M93.9 272.9h0M318.6 211.6h0M139.1 251.5h0M136.1 259.5h0M146.6 254.2h0M115.3 259.5h0M111.7 235.5h0M142.6 238.2h0M183.8 238.2h0M145.0 259.5h0M288.6 198.2h0M224.7 208.9h0M257.3 198.2h0M94.7 256.9h0M230.7 230.2h0M140.3 230.2h0M105.9 259.5h0M189.9 227.5h0M477.2 166.2h0M301.1 195.6h0M95.7 272.9h0M107.6 259.5h0M154.3 251.5h0M130.5 238.2h0M80.3 278.2h0M77.0 235.5h0M518.3 160.9h0M97.2 256.9h0M287.0 192.9h0M95.8 267.5h0M138.9 259.5h0M122.0 243.5h0M161.6 232.9h0M84.2 272.9h0M141.9 232.9h0M267.6 211.6h0M194.7 240.9h0M453.6 171.6h0M298.7 206.2h0M228.3 219.6h0M99.4 256.9h0M117.5 232.9h0M285.5 222.2h0M151.9 198.2h0M95.3 267.5h0M161.1 248.9h0M116.4 251.5h0M191.6 227.5h0M314.7 195.6h0M293.4 198.2h0M351.5 190.2h0M170.6 240.9h0M82.2 264.9h0M525.8 131.6h0M135.1 251.5h0M126.3 259.5h0M196.9 240.9h0M123.5 251.5h0M196.4 216.9h0M162.2 243.5h0M194.1 243.5h0M363.4 198.2h0M206.3 230.2h0M357.9 192.9h0M224.5 235.5h0M303.0 216.9h0M162.8 248.9h0M107.3 208.9h0M118.0 248.9h0M93.5 259.5h0M338.8 102.3h0M115.8 259.5h0M256.3 227.5h0M169.8 216.9h0M130.0 256.9h0M362.3 147.6h0M114.3 259.5h0M121.3 251.5h0M113.8 264.9h0M325.5 192.9h0M276.4 214.2h0M125.7 264.9h0M301.6 214.2h0M286.3 214.2h0M557.5 150.3h0M129.4 235.5h0M81.4 270.2h0M168.7 232.9h0M283.4 208.9h0M102.4 246.2h0M134.6 240.9h0M178.1 240.9h0M97.7 248.9h0M139.9 246.2h0M172.4 224.9h0M534.7 158.3h0M241.1 222.2h0M86.8 259.5h0M284.3 190.2h0M286.9 198.2h0M76.8 278.2h0M88.2 262.2h0M103.7 240.9h0M204.8 214.2h0M187.9 208.9h0M66.8 283.5h0M430.1 144.9h0M92.5 270.2h0M137.5 248.9h0M184.6 246.2h0M270.6 203.6h0M153.3 240.9h0M188.5 224.9h0M122.1 246.2h0M137.9 246.2h0M93.3 254.2h0M123.6 254.2h0M114.5 264.9h0M181.6 232.9h0M110.0 248.9h0M176.2 238.2h0M123.5 256.9h0M144.1 203.6h0M120.4 254.2h0M278.8 206.2h0M312.7 203.6h0M309.2 214.2h0M168.4 211.6h0M360.1 187.6h0M269.4 227.5h0M209.2 232.9h0M176.8 240.9h0M228.1 211.6h0M158.6 251.5h0M333.6 195.6h0M107.8 243.5h0M163.2 230.2h0M123.2 248.9h0M136.5 238.2h0M450.1 163.6h0M110.8 262.2h0M94.3 256.9h0M97.6 254.2h0M125.6 256.9h0M136.8 259.5h0M356.9 190.2h0M166.8 214.2h0M181.9 232.9h0M210.0 216.9h0M300.2 208.9h0M118.4 243.5h0M171.2 254.2h0M185.7 238.2h0M117.5 211.6h0M199.8 238.2h0M243.6 214.2h0M78.1 272.9h0M102.9 267.5h0M144.0 211.6h0M91.3 272.9h0M125.0 222.2h0M174.7 227.5h0M92.3 256.9h0M122.1 254.2h0M139.4 246.2h0M89.4 264.9h0M275.5 222.2h0M233.9 222.2h0M208.4 227.5h0M124.8 256.9h0M386.7 184.9h0M225.5 230.2h0" stroke="#ff3621" stroke-opacity=".72" stroke-width="6.2" stroke-linecap="round" fill="none"/>
<path d="M341.1 200.9h0M90.0 275.5h0M136.4 259.5h0M139.0 224.9h0M265.4 214.2h0M120.6 240.9h0M128.6 264.9h0M75.0 264.9h0M276.3 187.6h0M114.9 256.9h0M190.6 240.9h0M219.7 206.2h0M268.8 219.6h0M290.1 222.2h0M223.7 222.2h0M514.6 142.3h0M518.3 142.3h0M182.6 230.2h0M203.4 224.9h0M194.7 246.2h0M104.7 259.5h0M99.6 235.5h0M99.5 248.9h0M147.1 256.9h0M139.0 230.2h0M250.3 203.6h0M106.3 243.5h0M139.3 230.2h0M81.1 270.2h0M112.1 251.5h0M137.7 254.2h0M152.3 256.9h0M194.7 238.2h0M79.0 259.5h0M360.2 176.9h0M151.4 248.9h0M216.0 224.9h0M382.6 176.9h0M107.6 232.9h0M520.2 136.9h0M108.8 264.9h0M137.7 254.2h0M107.6 267.5h0M106.0 248.9h0M111.4 243.5h0M103.4 262.2h0M188.7 238.2h0M532.7 144.9h0M122.4 240.9h0M274.5 211.6h0M313.3 208.9h0M141.2 256.9h0M157.3 238.2h0M136.3 243.5h0M88.4 248.9h0M75.6 275.5h0M214.0 227.5h0M90.2 270.2h0M342.5 168.9h0M144.3 232.9h0M93.5 267.5h0M233.6 195.6h0M228.3 230.2h0M175.1 219.6h0M112.2 256.9h0M265.0 219.6h0M81.3 267.5h0M120.5 264.9h0M184.5 227.5h0M189.5 240.9h0M255.6 211.6h0M165.1 240.9h0M527.5 120.9h0M79.4 275.5h0M113.3 262.2h0M335.7 176.9h0M197.0 227.5h0M115.7 243.5h0M102.7 248.9h0M139.9 248.9h0M191.3 206.2h0M88.3 251.5h0M96.0 270.2h0M535.1 144.9h0M251.1 227.5h0M140.0 251.5h0M139.2 254.2h0M163.3 214.2h0M327.5 200.9h0M234.9 224.9h0M153.7 238.2h0M87.1 267.5h0M295.9 216.9h0M218.1 224.9h0M78.7 278.2h0M91.9 256.9h0M293.6 187.6h0M127.3 232.9h0M380.4 150.3h0M120.7 248.9h0M142.0 251.5h0M459.6 176.9h0M182.5 240.9h0M169.2 227.5h0M195.8 216.9h0M203.2 238.2h0M301.5 216.9h0M161.7 222.2h0M172.7 211.6h0M253.3 230.2h0M327.5 176.9h0M253.9 203.6h0M119.5 254.2h0M118.7 259.5h0M168.0 227.5h0M89.9 275.5h0M289.5 206.2h0M251.1 195.6h0M130.5 254.2h0M129.9 238.2h0M113.1 246.2h0M312.5 198.2h0M98.6 264.9h0M85.0 264.9h0M530.0 155.6h0M211.5 216.9h0M218.3 240.9h0M233.5 222.2h0M261.0 227.5h0M97.4 259.5h0M133.1 259.5h0M212.0 216.9h0M126.3 227.5h0M72.0 272.9h0M248.4 219.6h0M456.5 123.6h0M156.3 254.2h0M373.7 182.2h0M97.9 256.9h0M121.4 262.2h0M67.4 272.9h0M112.4 256.9h0M187.1 232.9h0M78.9 264.9h0M118.9 256.9h0M227.5 224.9h0M482.0 152.9h0M320.1 192.9h0M193.7 224.9h0M132.6 240.9h0M124.9 267.5h0M179.7 246.2h0M223.0 230.2h0M277.7 214.2h0M190.6 211.6h0M98.7 262.2h0M134.7 243.5h0M488.1 155.6h0M110.9 251.5h0M96.7 267.5h0M194.5 246.2h0M287.9 187.6h0M97.1 259.5h0M116.3 227.5h0M148.2 243.5h0M165.3 200.9h0M247.9 227.5h0M64.5 280.8h0M159.4 251.5h0M246.7 232.9h0M147.2 240.9h0M110.1 256.9h0M142.9 224.9h0M142.7 235.5h0M142.1 232.9h0M81.6 270.2h0M163.3 224.9h0M264.4 198.2h0M451.7 160.9h0M308.7 190.2h0M171.2 227.5h0M155.2 219.6h0M229.6 235.5h0M498.5 158.3h0M178.1 246.2h0M160.8 248.9h0M114.5 246.2h0M257.0 232.9h0M171.2 230.2h0M329.7 206.2h0M176.5 246.2h0M158.3 222.2h0M300.1 206.2h0M154.6 240.9h0M126.0 251.5h0M133.0 238.2h0M154.4 240.9h0M217.3 211.6h0M323.8 211.6h0M270.8 214.2h0M176.0 243.5h0M111.4 251.5h0M190.0 240.9h0M133.0 227.5h0M96.7 254.2h0M222.2 222.2h0M187.4 216.9h0M286.8 192.9h0M267.9 198.2h0M137.4 240.9h0M190.7 222.2h0M217.3 206.2h0M107.7 254.2h0M139.2 256.9h0M444.8 155.6h0M197.5 240.9h0M392.2 174.2h0M331.6 187.6h0M182.1 248.9h0M157.7 232.9h0M239.0 219.6h0M93.9 256.9h0M141.8 254.2h0M125.6 264.9h0M101.9 251.5h0M123.9 224.9h0M121.0 264.9h0M154.0 230.2h0M97.1 272.9h0M253.4 227.5h0M211.0 230.2h0M171.9 254.2h0M280.2 182.2h0M222.9 192.9h0M97.0 259.5h0M398.5 179.6h0M75.8 259.5h0M138.1 251.5h0M133.4 238.2h0M209.9 235.5h0M179.3 219.6h0M73.9 267.5h0M88.7 256.9h0M76.3 275.5h0M167.1 232.9h0M303.2 208.9h0M131.8 264.9h0M106.6 270.2h0M353.6 179.6h0M62.4 280.8h0M352.8 206.2h0M455.4 174.2h0M165.6 227.5h0M109.7 240.9h0M211.8 227.5h0M121.2 262.2h0M141.5 238.2h0M77.1 278.2h0M200.3 240.9h0M81.3 272.9h0" stroke="#ff3621" stroke-opacity=".72" stroke-width="6.2" stroke-linecap="round" fill="none"/>
<path d="M477.9 166.2h0M540.3 152.9h0M99.0 248.9h0M227.5 216.9h0M567.2 94.3h0M118.2 224.9h0M320.5 174.2h0M225.3 216.9h0M89.9 262.2h0M178.2 230.2h0M94.3 248.9h0M84.5 262.2h0M87.3 262.2h0M320.5 203.6h0M162.7 200.9h0M515.7 160.9h0M137.7 238.2h0M315.8 195.6h0M164.0 219.6h0M193.4 232.9h0M234.8 224.9h0M163.0 235.5h0M183.9 240.9h0M99.9 270.2h0M172.5 240.9h0M145.4 259.5h0M247.4 227.5h0M219.1 214.2h0M184.2 251.5h0M115.8 246.2h0M111.0 270.2h0M334.0 195.6h0M490.1 160.9h0M90.0 243.5h0M86.2 262.2h0M113.3 251.5h0M128.3 259.5h0M235.0 232.9h0M94.1 251.5h0M349.0 195.6h0M393.6 187.6h0M87.9 259.5h0M346.1 171.6h0M115.1 262.2h0M92.5 254.2h0M102.3 251.5h0M114.8 230.2h0M95.2 240.9h0M549.3 147.6h0M231.6 200.9h0M183.2 243.5h0M495.1 131.6h0M272.9 198.2h0M133.8 240.9h0M146.1 230.2h0M292.0 216.9h0M95.6 256.9h0M155.1 214.2h0M122.1 254.2h0M116.6 256.9h0M100.1 270.2h0M128.1 238.2h0M127.4 235.5h0M145.4 232.9h0M145.9 224.9h0M147.6 230.2h0M288.2 184.9h0M85.7 275.5h0M284.3 216.9h0M135.2 230.2h0M196.2 224.9h0M82.9 272.9h0M278.1 214.2h0M221.9 230.2h0M79.8 278.2h0M282.7 219.6h0M109.0 267.5h0M81.5 270.2h0M224.2 235.5h0M183.1 230.2h0M190.1 232.9h0M228.7 224.9h0M171.6 238.2h0M216.9 203.6h0M133.0 243.5h0M248.8 214.2h0M280.4 200.9h0M243.1 211.6h0M120.8 267.5h0M408.2 190.2h0M397.3 192.9h0M98.8 275.5h0M105.5 246.2h0M87.0 270.2h0M108.2 248.9h0M156.5 248.9h0M104.7 235.5h0M100.9 256.9h0M164.0 243.5h0M74.6 275.5h0M211.7 232.9h0M281.3 219.6h0M127.6 254.2h0M255.3 200.9h0M492.5 126.3h0M151.2 251.5h0M172.0 243.5h0M218.3 232.9h0M185.7 246.2h0M182.5 227.5h0M81.0 262.2h0M109.2 238.2h0M75.8 270.2h0M158.3 254.2h0M135.3 230.2h0M88.5 267.5h0M161.0 224.9h0M175.3 251.5h0M178.1 251.5h0M266.2 206.2h0M175.2 246.2h0M123.1 246.2h0M161.6 219.6h0M102.1 256.9h0M357.5 192.9h0M167.4 222.2h0M206.6 224.9h0M270.3 198.2h0M233.9 230.2h0M130.7 238.2h0M533.7 126.3h0M91.8 251.5h0M259.1 200.9h0M172.7 230.2h0M334.6 206.2h0M247.2 171.6h0M105.0 267.5h0M219.3 224.9h0M518.1 160.9h0M154.3 238.2h0M205.0 224.9h0M218.6 219.6h0M204.2 200.9h0M422.9 147.6h0M77.5 270.2h0M113.6 259.5h0M293.9 216.9h0M136.9 251.5h0M185.1 240.9h0M245.7 214.2h0M253.8 211.6h0M235.6 235.5h0M134.2 256.9h0M210.2 216.9h0M204.3 216.9h0M176.7 251.5h0M201.4 243.5h0M76.7 264.9h0M525.1 155.6h0M241.6 230.2h0M101.1 254.2h0M163.6 224.9h0M126.7 251.5h0M101.7 254.2h0M194.2 238.2h0M171.4 248.9h0M105.3 214.2h0M190.6 238.2h0M178.3 240.9h0M353.9 160.9h0M165.4 232.9h0M193.9 243.5h0M137.0 254.2h0M330.2 176.9h0M132.8 246.2h0M173.2 246.2h0M128.7 243.5h0M342.8 206.2h0M183.6 248.9h0M467.2 171.6h0M113.9 256.9h0M77.5 264.9h0M148.6 240.9h0M293.8 219.6h0M151.0 238.2h0M153.0 206.2h0M312.3 179.6h0M551.4 147.6h0M119.8 254.2h0M181.6 246.2h0M127.1 230.2h0M70.9 278.2h0M118.5 256.9h0M233.8 224.9h0M250.1 206.2h0M387.8 166.2h0M88.3 254.2h0M282.1 214.2h0M114.8 232.9h0M122.0 256.9h0M94.6 251.5h0M316.7 198.2h0M235.8 192.9h0M124.5 251.5h0M164.1 240.9h0M164.2 248.9h0M487.5 158.3h0M406.5 150.3h0M191.2 200.9h0M262.9 203.6h0M365.2 203.6h0M119.2 246.2h0M74.0 275.5h0M163.0 248.9h0M90.4 275.5h0M137.0 243.5h0M541.2 131.6h0M98.4 251.5h0M168.9 224.9h0M112.3 251.5h0M138.8 251.5h0M139.5 251.5h0M138.8 238.2h0M115.7 251.5h0M120.1 251.5h0M99.2 240.9h0M195.3 246.2h0M429.9 176.9h0M235.7 224.9h0M299.9 211.6h0M109.9 246.2h0M207.3 246.2h0M86.4 264.9h0M97.1 270.2h0M309.4 211.6h0M114.4 240.9h0M186.3 246.2h0M144.7 192.9h0M215.3 222.2h0M530.3 147.6h0M394.8 174.2h0M103.2 251.5h0M368.7 192.9h0M186.5 238.2h0M103.2 262.2h0M204.7 222.2h0M174.9 222.2h0M209.7 211.6h0M132.5 222.2h0M76.1 267.5h0M139.5 235.5h0M111.6 243.5h0M116.2 264.9h0M302.1 171.6h0M97.1 254.2h0M114.9 224.9h0M461.5 155.6h0M82.6 262.2h0M208.7 208.9h0M284.3 219.6h0" stroke="#ff3621" stroke-opacity=".72" stroke-width="6.2" stroke-linecap="round" fill="none"/>
<path d="M86.2 240.9h0M86.3 264.9h0M183.0 240.9h0M126.9 195.6h0M364.8 187.6h0M163.2 246.2h0M158.2 246.2h0M321.8 211.6h0M117.3 243.5h0M208.4 187.6h0M406.8 179.6h0M148.8 256.9h0M311.8 203.6h0M246.1 230.2h0M175.6 219.6h0M153.1 224.9h0M171.6 232.9h0M234.4 222.2h0M132.1 246.2h0M294.9 187.6h0M183.0 214.2h0M116.4 248.9h0M110.3 256.9h0M220.3 214.2h0M148.3 259.5h0M155.6 240.9h0M261.4 222.2h0M208.5 219.6h0M206.6 227.5h0M128.9 240.9h0M77.7 264.9h0M99.1 243.5h0M146.8 259.5h0M556.0 144.9h0M81.6 262.2h0M482.7 155.6h0M94.4 259.5h0M212.4 227.5h0M135.6 230.2h0M235.5 216.9h0M173.8 243.5h0M138.9 254.2h0M117.9 222.2h0M111.7 232.9h0M230.1 208.9h0M107.5 232.9h0M185.9 224.9h0M415.6 94.3h0M143.5 232.9h0M128.1 262.2h0M100.4 262.2h0M418.0 158.3h0M119.8 264.9h0M87.6 248.9h0M97.8 259.5h0M158.5 208.9h0M101.7 198.2h0M389.2 192.9h0M191.0 248.9h0M133.1 262.2h0M99.0 270.2h0M100.6 219.6h0M106.3 248.9h0M395.0 152.9h0M459.9 152.9h0M556.1 144.9h0M373.7 198.2h0M196.7 243.5h0M161.1 232.9h0M116.4 254.2h0M209.4 240.9h0M113.9 264.9h0M209.8 232.9h0M237.5 203.6h0M331.0 198.2h0M115.8 259.5h0M201.4 216.9h0M248.0 219.6h0M82.1 278.2h0M143.6 248.9h0M114.2 251.5h0M200.3 240.9h0M133.9 262.2h0M117.2 267.5h0M122.9 246.2h0M211.3 232.9h0M173.3 232.9h0M508.2 152.9h0M332.9 211.6h0M180.2 222.2h0M128.5 262.2h0M226.9 238.2h0M106.9 251.5h0M147.7 227.5h0M96.7 267.5h0M527.1 147.6h0M155.6 256.9h0M153.7 232.9h0M190.6 222.2h0M87.1 278.2h0M106.6 248.9h0M151.2 235.5h0M182.3 246.2h0M74.4 275.5h0M206.9 211.6h0M142.9 198.2h0M110.8 262.2h0M121.2 240.9h0M279.2 203.6h0M145.0 200.9h0M133.0 259.5h0M127.2 232.9h0M122.5 254.2h0M81.5 262.2h0M181.7 248.9h0M203.7 230.2h0M458.4 142.3h0M150.2 222.2h0M174.1 254.2h0M147.3 259.5h0M551.1 106.0h0M86.6 251.5h0M115.9 232.9h0M63.7 280.8h0M156.9 256.9h0M323.2 200.9h0M92.0 262.2h0M229.8 227.5h0M121.7 251.5h0M71.3 280.8h0M217.8 195.6h0M148.2 246.2h0M108.1 256.9h0M161.7 206.2h0M102.9 232.9h0M169.4 222.2h0M169.3 248.9h0M498.3 166.2h0M126.3 259.5h0M106.4 251.5h0M159.7 251.5h0M113.1 256.9h0M123.5 262.2h0M104.1 267.5h0M103.1 227.5h0M101.6 256.9h0M155.9 235.5h0M140.8 259.5h0M535.6 147.6h0M217.7 232.9h0M91.9 259.5h0M192.0 222.2h0M132.2 227.5h0M135.7 254.2h0M227.4 190.2h0M386.0 184.9h0M134.7 251.5h0M92.8 246.2h0M317.2 198.2h0M262.3 222.2h0M84.1 259.5h0M74.4 278.2h0M87.9 272.9h0M193.3 238.2h0M230.3 235.5h0M85.1 267.5h0M144.8 246.2h0M106.2 264.9h0M231.2 216.9h0M311.1 184.9h0M421.8 166.2h0M100.8 240.9h0M168.0 246.2h0M99.5 262.2h0M149.3 248.9h0M242.8 211.6h0M80.7 272.9h0M91.3 246.2h0M157.7 243.5h0M201.1 222.2h0M193.5 235.5h0M105.3 270.2h0M111.7 248.9h0M142.3 219.6h0M271.9 198.2h0M121.1 264.9h0M115.4 256.9h0M344.8 176.9h0M298.8 192.9h0M307.2 195.6h0M114.9 262.2h0M68.6 272.9h0M84.0 270.2h0M94.5 251.5h0M192.2 214.2h0M90.8 256.9h0M517.8 105.0h0M139.2 248.9h0M155.6 230.2h0M113.0 256.9h0M106.3 262.2h0M107.3 235.5h0M112.9 267.5h0M76.0 275.5h0M76.3 275.5h0M135.9 251.5h0M78.1 267.5h0M137.1 235.5h0M140.3 259.5h0M240.0 195.6h0M123.9 216.9h0M119.7 224.9h0M176.3 235.5h0M151.2 259.5h0M90.7 270.2h0M181.4 224.9h0M523.4 155.6h0M272.7 216.9h0M128.7 259.5h0M135.3 208.9h0M169.9 254.2h0M168.1 243.5h0M142.4 264.9h0M139.3 246.2h0M145.1 238.2h0M111.2 238.2h0M72.3 280.8h0M133.0 243.5h0M126.3 256.9h0M74.4 275.5h0M143.1 240.9h0M153.9 235.5h0M71.6 272.9h0M135.1 256.9h0M200.3 240.9h0M163.7 232.9h0M396.5 166.2h0M94.3 270.2h0M127.7 256.9h0M238.8 195.6h0M497.9 147.6h0M135.7 240.9h0M163.5 238.2h0M107.0 232.9h0M159.7 227.5h0M215.4 235.5h0M111.4 270.2h0M212.0 235.5h0M214.9 227.5h0M229.4 227.5h0M146.4 243.5h0M112.9 267.5h0M98.9 267.5h0M117.7 243.5h0M127.1 262.2h0M160.3 251.5h0M209.8 216.9h0M128.8 243.5h0M111.1 248.9h0M173.3 246.2h0" stroke="#ff3621" stroke-opacity=".72" stroke-width="6.2" stroke-linecap="round" fill="none"/>
<path d="M125.9 216.9h0M189.8 246.2h0M157.5 256.9h0M177.5 232.9h0M143.5 190.2h0M183.4 246.2h0M148.4 251.5h0M130.3 251.5h0M146.6 259.5h0M106.2 227.5h0M102.5 262.2h0M205.4 240.9h0M262.2 179.6h0M96.3 256.9h0M94.7 254.2h0M211.8 224.9h0M275.7 216.9h0M245.8 192.9h0M76.7 270.2h0M141.4 256.9h0M278.1 214.2h0M97.7 259.5h0M381.8 176.9h0M192.1 219.6h0M93.8 259.5h0M165.9 235.5h0M103.3 256.9h0M551.4 128.9h0M185.9 240.9h0M78.9 278.2h0M333.4 176.9h0M402.5 176.9h0M124.0 238.2h0M144.8 251.5h0M268.1 206.2h0M123.7 262.2h0M310.2 184.9h0M212.3 214.2h0M104.2 246.2h0M128.1 227.5h0M164.7 238.2h0M139.1 248.9h0M165.4 240.9h0M395.0 192.9h0M86.1 262.2h0M79.4 270.2h0M121.9 256.9h0M76.1 275.5h0M111.6 240.9h0M107.4 238.2h0M131.9 251.5h0M138.3 251.5h0M110.4 264.9h0M149.8 246.2h0M104.0 267.5h0M384.8 174.2h0M161.5 238.2h0M122.7 251.5h0M146.1 262.2h0M492.1 147.6h0M170.4 224.9h0M324.7 179.6h0M181.1 248.9h0M111.9 246.2h0M203.3 240.9h0M138.9 235.5h0M113.7 264.9h0M335.7 195.6h0M204.8 219.6h0M144.9 246.2h0M234.4 222.2h0M135.4 246.2h0M115.6 222.2h0M244.3 222.2h0M275.0 208.9h0M171.4 227.5h0M276.7 211.6h0M98.0 254.2h0M171.9 235.5h0M115.9 259.5h0M118.2 235.5h0M131.7 264.9h0M136.6 232.9h0M110.7 238.2h0M267.0 227.5h0M101.5 254.2h0M126.8 264.9h0M97.7 272.9h0M123.1 227.5h0M492.4 171.6h0M156.2 243.5h0M195.0 235.5h0M155.6 246.2h0M146.0 222.2h0M217.5 195.6h0M145.7 238.2h0M155.5 214.2h0M89.5 256.9h0M259.6 224.9h0M295.7 216.9h0M143.2 240.9h0M115.5 254.2h0M557.0 120.9h0M542.4 115.6h0M141.3 256.9h0M515.3 155.6h0M139.4 230.2h0M178.3 232.9h0M212.7 238.2h0M182.0 235.5h0M339.7 179.6h0M121.2 248.9h0M101.2 232.9h0M208.9 230.2h0M81.8 278.2h0M329.4 195.6h0M88.1 272.9h0M140.8 248.9h0M223.3 227.5h0M110.2 264.9h0M377.3 179.6h0M119.1 200.9h0M278.0 203.6h0M253.7 227.5h0M117.8 243.5h0M147.6 232.9h0M83.8 264.9h0M161.2 238.2h0M103.4 270.2h0M331.3 198.2h0M378.2 174.2h0M425.0 179.6h0M159.3 256.9h0M188.8 240.9h0M276.2 187.6h0M126.9 248.9h0M94.9 259.5h0M154.7 256.9h0M330.1 174.2h0M167.2 227.5h0M164.4 214.2h0M172.9 254.2h0M161.2 240.9h0M114.5 224.9h0M474.1 168.9h0M365.3 195.6h0M391.4 168.9h0M563.2 147.6h0M268.6 224.9h0M87.0 256.9h0M254.7 203.6h0M130.6 246.2h0M141.2 254.2h0M89.9 208.9h0M438.5 182.2h0M296.1 208.9h0M242.6 216.9h0M89.2 254.2h0M91.6 264.9h0M142.6 230.2h0M172.1 251.5h0M134.2 232.9h0M103.7 254.2h0M166.6 235.5h0M89.8 256.9h0M143.9 254.2h0M98.0 267.5h0M108.1 238.2h0M102.3 246.2h0M208.5 240.9h0M178.8 219.6h0M486.9 168.9h0M148.6 262.2h0M155.5 227.5h0M185.2 240.9h0M128.3 262.2h0M145.5 259.5h0M140.2 256.9h0M96.0 254.2h0M99.9 262.2h0M299.8 208.9h0M225.2 224.9h0M122.8 254.2h0M100.4 270.2h0M397.3 163.6h0M246.9 232.9h0M476.0 134.3h0M71.5 272.9h0M269.2 214.2h0M186.4 240.9h0M93.9 270.2h0M293.9 184.9h0M241.0 222.2h0M79.1 270.2h0M136.1 227.5h0M102.4 248.9h0M189.8 230.2h0M96.1 254.2h0M85.6 267.5h0M95.8 272.9h0M153.8 254.2h0M111.1 259.5h0M171.2 230.2h0M78.6 267.5h0M498.8 144.9h0M203.1 219.6h0M273.7 203.6h0M86.7 262.2h0M167.6 214.2h0M305.4 208.9h0M108.9 270.2h0M159.0 224.9h0M121.5 243.5h0M92.7 275.5h0M150.4 240.9h0M246.3 216.9h0M135.5 246.2h0M138.2 256.9h0M120.8 227.5h0M470.7 166.2h0M339.5 182.2h0M114.9 262.2h0M128.1 264.9h0M410.3 152.9h0M217.3 219.6h0M231.3 230.2h0M390.5 168.9h0M192.6 219.6h0M119.9 264.9h0M158.9 251.5h0M94.4 270.2h0M502.9 163.6h0M104.8 254.2h0M249.6 227.5h0M232.5 192.9h0M134.7 240.9h0M278.9 198.2h0M105.1 256.9h0M103.9 259.5h0M107.3 232.9h0M203.3 219.6h0M195.9 219.6h0M159.7 240.9h0M211.7 219.6h0M358.5 187.6h0M96.0 259.5h0M514.5 158.3h0M230.4 208.9h0M65.4 280.8h0M380.7 195.6h0M93.7 262.2h0M115.1 246.2h0M204.0 243.5h0M179.2 235.5h0M197.8 230.2h0M191.5 230.2h0M237.6 235.5h0M470.7 147.6h0M334.4 195.6h0" stroke="#ff3621" stroke-opacity=".72" stroke-width="6.2" stroke-linecap="round" fill="none"/>
<path d="M385.3 176.9h0M108.7 262.2h0M108.9 251.5h0M148.9 238.2h0M208.9 235.5h0M123.5 240.9h0M120.8 240.9h0M338.3 166.2h0M263.7 230.2h0M97.1 243.5h0M228.1 214.2h0M104.0 248.9h0M73.7 251.5h0M87.6 259.5h0M255.6 166.2h0M193.7 211.6h0M131.9 251.5h0M84.3 262.2h0M197.7 232.9h0M233.1 227.5h0M139.8 262.2h0M202.4 235.5h0M335.6 187.6h0M136.2 230.2h0M216.9 200.9h0M98.6 243.5h0M114.5 248.9h0M120.2 238.2h0M91.3 256.9h0M92.2 262.2h0M174.1 232.9h0M291.4 198.2h0M330.0 182.2h0M130.0 219.6h0M148.0 256.9h0M123.6 232.9h0M469.3 152.9h0M76.1 264.9h0M143.1 246.2h0M75.5 270.2h0M135.9 246.2h0M358.7 200.9h0M118.2 232.9h0M105.3 248.9h0M285.1 192.9h0M559.2 118.3h0M80.5 262.2h0M370.1 187.6h0M195.8 219.6h0M117.5 259.5h0M118.9 254.2h0M134.9 224.9h0M121.4 235.5h0M210.6 216.9h0M162.7 238.2h0M235.1 206.2h0M248.9 203.6h0M85.6 278.2h0M215.4 240.9h0M323.4 206.2h0M246.9 224.9h0M302.0 206.2h0M95.6 264.9h0M85.7 267.5h0M115.8 262.2h0M70.5 278.2h0M224.4 238.2h0M239.0 232.9h0M123.5 251.5h0M164.0 216.9h0M319.5 198.2h0M204.3 235.5h0M192.9 206.2h0M101.2 272.9h0M101.4 254.2h0M110.2 254.2h0M83.7 262.2h0M147.5 243.5h0M85.7 256.9h0M214.2 227.5h0M208.2 246.2h0M255.7 222.2h0M245.8 211.6h0M213.3 195.6h0M512.2 142.3h0M106.9 272.9h0M104.0 267.5h0M146.3 222.2h0M204.4 235.5h0M405.0 171.6h0M92.6 256.9h0M128.0 243.5h0M138.9 254.2h0M71.5 272.9h0M147.5 248.9h0M155.3 251.5h0M91.9 259.5h0M90.8 262.2h0M204.8 240.9h0M510.2 123.6h0M317.3 182.2h0M113.1 251.5h0M353.1 283.0h0M160.8 256.9h0M89.9 264.9h0M98.4 262.2h0M128.2 262.2h0M99.8 235.5h0M155.5 256.9h0M133.2 243.5h0M123.7 248.9h0M188.2 243.5h0M77.7 240.9h0M229.4 203.6h0M212.5 208.9h0M121.2 264.9h0M152.4 256.9h0M182.8 240.9h0M149.5 206.2h0M271.1 198.2h0M239.9 211.6h0M101.5 243.5h0M363.4 195.6h0M364.2 182.2h0M226.5 198.2h0M145.8 248.9h0M93.5 275.5h0M74.7 280.8h0M299.4 195.6h0M160.8 224.9h0M79.9 270.2h0M132.9 224.9h0M440.0 179.6h0M86.2 227.5h0M299.0 208.9h0M148.4 248.9h0M198.2 214.2h0M155.6 243.5h0M148.3 243.5h0M449.0 152.9h0M146.5 230.2h0M111.2 262.2h0M279.9 216.9h0M168.3 219.6h0M221.2 230.2h0M104.5 256.9h0M87.0 270.2h0M244.8 214.2h0M108.5 267.5h0M89.1 267.5h0M366.5 198.2h0M295.6 195.6h0M118.3 259.5h0M114.8 240.9h0M139.1 246.2h0M181.9 240.9h0M129.6 248.9h0M304.7 195.6h0M449.8 144.9h0M170.1 230.2h0M320.2 206.2h0M106.9 238.2h0M263.4 219.6h0M127.4 240.9h0M451.7 147.6h0M241.7 222.2h0M235.5 211.6h0M94.6 254.2h0M122.1 251.5h0M149.6 235.5h0M115.9 251.5h0M158.1 227.5h0M145.7 243.5h0M157.6 254.2h0M230.1 208.9h0M84.6 278.2h0M366.7 163.6h0M65.3 275.5h0M121.4 256.9h0M166.5 254.2h0M112.7 235.5h0M120.2 230.2h0M123.2 267.5h0M433.1 160.9h0M130.0 240.9h0M141.7 246.2h0M139.6 248.9h0M301.0 216.9h0M169.2 243.5h0M109.9 259.5h0M107.0 264.9h0M135.0 224.9h0M108.7 256.9h0M141.7 243.5h0M288.0 219.6h0M140.9 240.9h0M211.2 216.9h0M96.0 254.2h0M191.8 211.6h0M158.1 254.2h0M239.5 190.2h0M263.4 219.6h0M189.3 227.5h0M95.5 254.2h0M153.9 232.9h0M179.4 224.9h0M127.8 248.9h0M101.7 240.9h0M98.6 267.5h0M531.4 152.9h0M241.7 216.9h0M184.3 235.5h0M93.4 275.5h0M201.8 235.5h0M487.2 120.9h0M128.0 232.9h0M107.1 262.2h0M146.2 256.9h0M175.1 211.6h0M308.3 214.2h0M238.3 200.9h0M105.4 262.2h0M126.8 238.2h0M349.2 192.9h0M313.6 206.2h0M178.8 230.2h0M232.7 224.9h0M401.5 187.6h0M183.3 243.5h0M556.2 134.3h0M213.0 240.9h0M138.1 235.5h0M133.7 219.6h0M130.2 259.5h0M445.2 131.6h0M108.6 238.2h0M110.2 235.5h0M189.9 227.5h0M176.0 238.2h0M124.7 264.9h0M507.0 147.6h0M141.8 230.2h0M191.0 222.2h0M233.7 227.5h0M137.1 246.2h0M120.5 267.5h0M321.9 203.6h0M269.4 206.2h0M180.0 246.2h0M246.1 230.2h0M173.1 187.6h0M97.1 256.9h0M97.7 275.5h0M79.7 275.5h0M234.5 232.9h0M166.0 214.2h0M287.4 214.2h0M146.5 251.5h0M102.7 243.5h0" stroke="#ff3621" stroke-opacity=".72" stroke-width="6.2" stroke-linecap="round" fill="none"/>
<text x="45.0" y="303.7" text-anchor="end" class="tk">0</text>
<text x="45.0" y="197.1" text-anchor="end" class="tk">20</text>
<text x="45.0" y="90.5" text-anchor="end" class="tk">40</text>
<text x="57.5" y="322.2" text-anchor="middle" class="tk">0</text>
<text x="159.8" y="322.2" text-anchor="middle" class="tk">2</text>
<text x="262.1" y="322.2" text-anchor="middle" class="tk">4</text>
<text x="364.4" y="322.2" text-anchor="middle" class="tk">6</text>
<text x="466.7" y="322.2" text-anchor="middle" class="tk">8</text>
<text x="569.0" y="322.2" text-anchor="middle" class="tk">10</text>
<text x="314.2" y="338.0" text-anchor="middle" class="ax">走行距離(マイル)</text>
<text transform="translate(24.6 175.0) rotate(-90)" text-anchor="middle" class="ax">運賃額（USD）</text>
<text x="585.0" y="50.0" class="ax" style="font-size:13px">曜日</text>
<circle cx="591.0" cy="64.0" r="4.6" fill="#077a9d" fill-opacity=".72"/>
<text x="601.5" y="68.2" class="tk">Monday</text>
<circle cx="591.0" cy="82.0" r="4.6" fill="#ffab00" fill-opacity=".72"/>
<text x="601.5" y="86.2" class="tk">Sunday</text>
<circle cx="591.0" cy="100.0" r="4.6" fill="#00a972" fill-opacity=".72"/>
<text x="601.5" y="104.2" class="tk">Tuesday</text>
<circle cx="591.0" cy="118.0" r="4.6" fill="#ff3621" fill-opacity=".72"/>
<text x="601.5" y="122.2" class="tk">Wednesday</text>
</svg>
<!-- toolbar -->
<div class="a" style="left:784px;top:864px;width:257px;height:47px;background:#2272b4;border-radius:4px;box-shadow:0 3px 10px rgba(0,0,0,.18),0 1px 3px rgba(0,0,0,.12)"></div>
<svg class="ic" style="left:800px;top:880px;stroke:#fff" viewBox="0 0 16 16"><path d="M2.5 2.5l11 4.2-4.8 1.9-1.9 4.900000000000001z"/></svg>
<svg class="ic" style="left:839px;top:880px;stroke:#fff" viewBox="0 0 16 16"><path d="M1.8 1.8v12.4h12.4M4.6 10l2.8-3.2 2.2 1.8 3.6-4"/></svg>
<svg class="ic" style="left:879px;top:880px;stroke:#fff" viewBox="0 0 16 16"><rect x="1.8" y="1.8" width="12.4" height="12.4" rx=".6"/><path d="M5.2 6V5.2h5.6V6M8 5.2v5.8M6.800000000000001 11h2.4"/></svg>
<svg class="ic" style="left:919px;top:880px;stroke:#fff" viewBox="0 0 16 16"><path d="M1.8 2h12.4L9.5 8v6l-3-1.5V8z"/></svg>
<div class="a" style="left:952px;top:872px;width:1px;height:32px;background:#6d9fcb"></div>
<svg class="ic" style="left:968px;top:880px;stroke:#fff" viewBox="0 0 16 16"><path d="M5.2 2.5L1.8 5.9l3.4 3.4M2 5.9h8.200000000000001a3.8 3.8 0 0 1 0 7.6H7"/></svg>
<svg class="ic" style="left:1008px;top:880px;stroke:#fff;opacity:.45" viewBox="0 0 16 16"><path d="M10.8 2.5l3.4 3.4-3.4 3.4M14 5.9H5.800000000000001a3.8 3.8 0 0 0 0 7.6H9"/></svg>

<!-- right panel -->
<div class="h" style="top:167px">ウィジェット</div>
<svg class="a" style="left:1885px;top:170px" width="4" height="14"><circle cx="2" cy="2" r="1.4" fill="#44535f"/><circle cx="2" cy="7" r="1.4" fill="#44535f"/><circle cx="2" cy="12" r="1.4" fill="#44535f"/></svg>
<div class="cb on" style="left:1635px;top:199px"></div>
<svg class="a" style="left:1635px;top:199px" width="16" height="16"><path d="M4 8.2l2.800000000000001 2.800000000000001L12 5.5" stroke="#fff" stroke-width="1.8" fill="none" stroke-linecap="round" stroke-linejoin="round"/></svg>
<div class="t g" style="left:1660px;top:197px">タイトル</div>
<div class="cb off" style="left:1726px;top:199px"></div>
<div class="t" style="left:1750px;top:197px">説明</div>
<div class="hr" style="top:235px"></div>
<div class="h" style="top:250px">フィルタ</div>
<div class="sel" style="top:280px"></div>
<svg class="ic" style="left:1647px;top:288px;stroke:#11171c;stroke-width:1.4" viewBox="0 0 16 16"><path d="M1.8 2h12.4L9.5 8v6l-3-1.5V8z"/></svg>
<div class="t" style="left:1667px;top:286px">単一値</div>
<svg class="ic" style="left:1880px;top:288px;stroke:#44535f" viewBox="0 0 16 16"><path d="M4.8 6.6L8 9.8l3.2-3.2"/></svg>
<div class="hr" style="top:329px"></div>
<div class="h" style="top:344px">フィールド</div>
<svg class="a" style="left:1848px;top:347px" width="4" height="14"><circle cx="2" cy="2" r="1.4" fill="#44535f"/><circle cx="2" cy="7" r="1.4" fill="#44535f"/><circle cx="2" cy="12" r="1.4" fill="#44535f"/></svg>
<svg class="a" style="left:1879px;top:346px" width="16" height="16"><path d="M8 1v14M1 8h14" stroke="#8396a5" stroke-width="1.3" fill="none"/></svg>
<div class="a" style="left:1635px;top:374px;width:232px;height:33px;border-radius:4px;background:#f6f7f9"></div>
<div class="t g" style="left:1648px;top:381px;font-size:9.5px;font-weight:bold;letter-spacing:-.2px">1<span style="position:relative;top:-3.5px">2</span><span style="position:relative;top:3.5px;left:-3.5px">3</span></div>
<div class="t b" id="fld" style="left:1672px;top:380px;font-size:13px;letter-spacing:-.26px">gold_sample_data_set.picku...</div>
<svg class="a" style="left:1879px;top:382px" width="16" height="16"><path d="M1 8h14" stroke="#8396a5" stroke-width="1.3" fill="none"/></svg>
<div class="hr" style="top:424px"></div>
<div class="h" style="top:439px">パラメータ</div>
<svg class="a" style="left:1879px;top:441px" width="16" height="16"><path d="M8 1v14M1 8h14" stroke="#8396a5" stroke-width="1.3" fill="none"/></svg>
<div class="hr" style="top:473px"></div>
<div class="h" style="top:489px">設定</div>
<div class="cb on" style="left:1635px;top:520px"></div>
<svg class="a" style="left:1635px;top:520px" width="16" height="16"><path d="M4 8.2l2.800000000000001 2.800000000000001L12 5.5" stroke="#fff" stroke-width="1.8" fill="none" stroke-linecap="round" stroke-linejoin="round"/></svg>
<div class="t" style="left:1659px;top:518px">許可 <span style="font-style:italic;color:#44535f;font-size:12px">すべて</span></div>
<div class="hr" style="top:555px"></div>
<div class="h" style="top:564px">デフォルト値</div>
<div class="sel" style="top:585px"></div>
<div class="t" style="left:1648px;top:591px">All</div>
<svg class="a" style="left:1865px;top:596px" width="11" height="11"><circle cx="5.5" cy="5.5" r="5.5" fill="#bfbfbf"/><path d="M3.6 3.6l3.8 3.8M7.4 3.6L3.6 7.4" stroke="#fff" stroke-width="1.2"/></svg>
<svg class="ic" style="left:1880px;top:593px;stroke:#44535f" viewBox="0 0 16 16"><path d="M4.8 6.6L8 9.8l3.2-3.2"/></svg>
</div>
</body>
</html>
